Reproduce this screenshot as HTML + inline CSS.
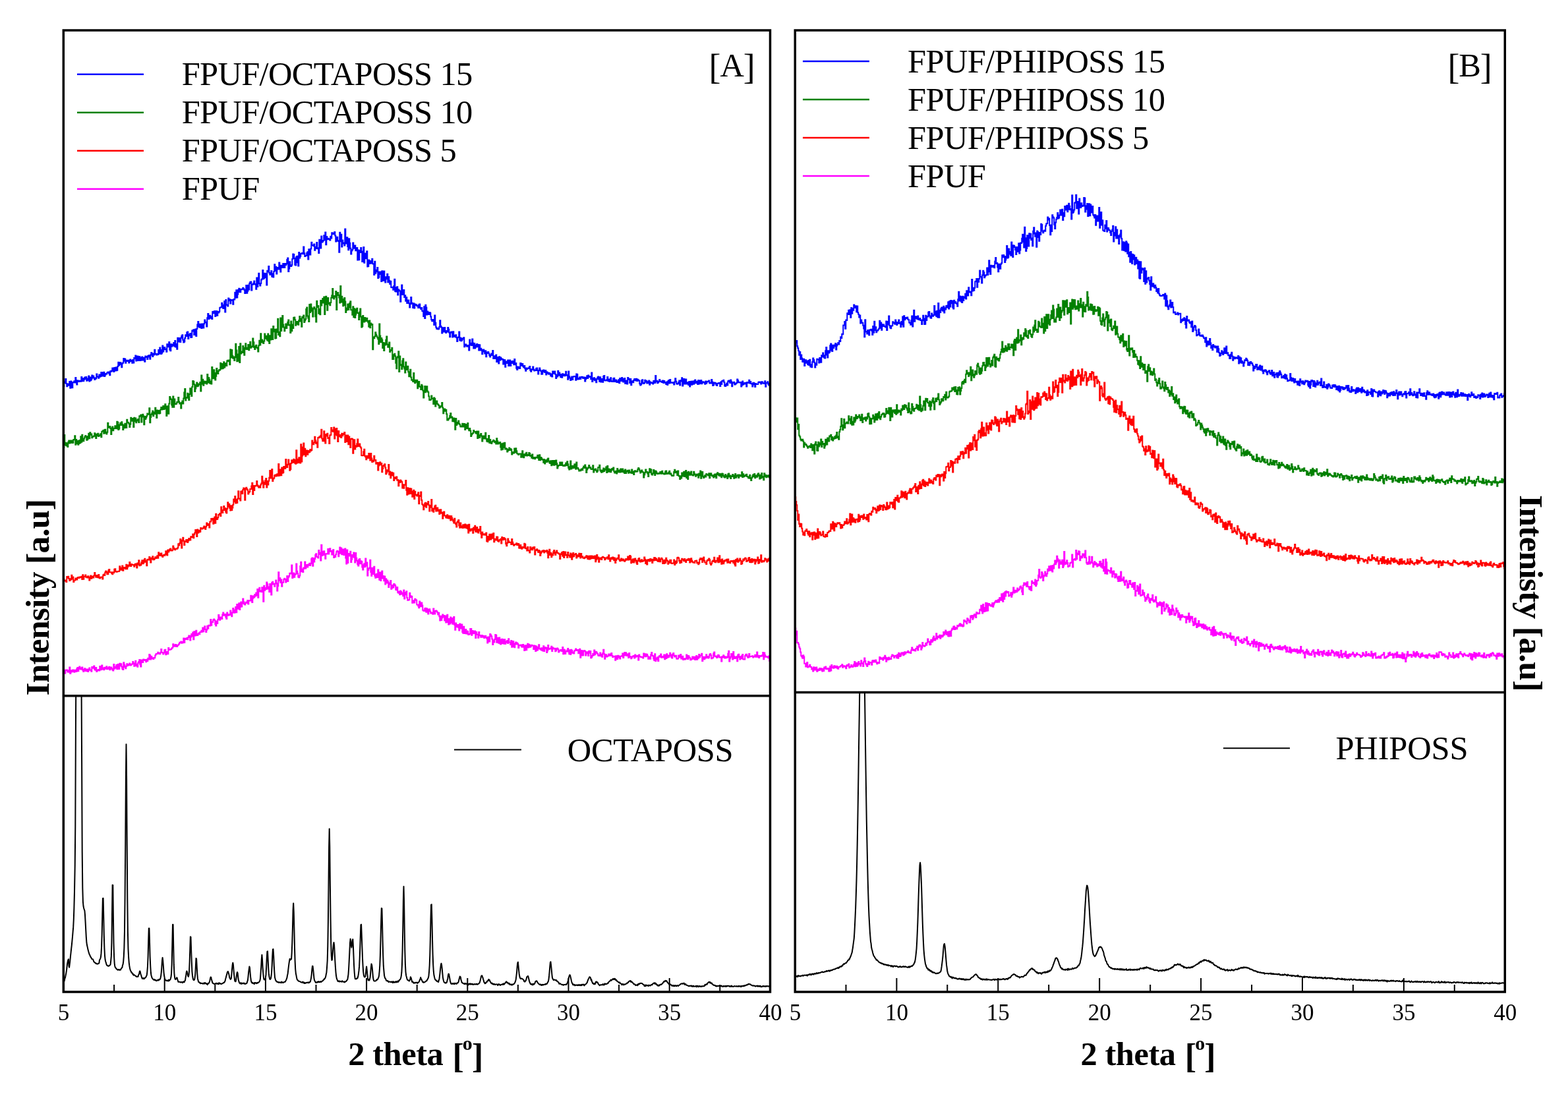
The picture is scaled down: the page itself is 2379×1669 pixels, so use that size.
<!DOCTYPE html>
<html><head><meta charset="utf-8"><title>XRD patterns</title>
<style>html,body{margin:0;padding:0;background:#fff;}svg{display:block;}</style>
</head><body>
<svg width="2379" height="1669" viewBox="0 0 2379 1669">
<rect x="0" y="0" width="2379" height="1669" fill="#fff"/>
<defs>
<clipPath id="ctA"><rect x="96.3" y="46.0" width="1072.2" height="1009.8"/></clipPath>
<clipPath id="cbA"><rect x="96.3" y="1055.8" width="1072.2" height="449.20000000000005"/></clipPath>
<clipPath id="ctB"><rect x="1206.3" y="46.0" width="1077.0000000000002" height="1004.5"/></clipPath>
<clipPath id="cbB"><rect x="1206.3" y="1050.5" width="1077.0000000000002" height="454.5"/></clipPath>
</defs>
<g clip-path="url(#ctA)" fill="none" stroke-width="2.0" stroke-linejoin="miter" stroke-miterlimit="2">
<path stroke="#ff00ff" d="M96.3,1018.1H97.3V1021.8H98.3V1021.4H99.3V1016.5H100.3V1017.1H101.3V1016.4H102.3V1019.4H103.3V1017.6H104.3V1019.8H105.3V1012.5H106.3V1022.0H107.3V1017.3H108.3V1019.5H109.3V1017.1H110.3V1016.4H111.3V1018.7H112.3V1019.7H113.3V1016.8H114.3V1016.8H115.3V1019.1H116.3V1014.7H117.3V1012.9H118.3V1018.2H119.3V1015.1H120.3V1011.6H121.3V1014.6H122.3V1015.5H123.3V1013.4H124.3V1012.5H125.3V1016.7H126.3V1019.1H127.3V1015.8H128.3V1014.3H129.3V1017.4H130.3V1018.3H131.3V1015.4H132.3V1017.7H133.3V1019.0H134.3V1015.4H135.3V1013.6H136.3V1016.8H137.3V1016.5H138.3V1018.8H139.3V1012.0H140.3V1013.7H141.3V1013.1H142.3V1010.5H143.3V1015.7H144.3V1016.7H145.3V1013.1H146.3V1018.9H147.3V1017.3H148.3V1016.6H149.3V1015.9H150.3V1017.4H151.3V1010.9H152.3V1016.3H153.3V1016.1H154.3V1009.4H155.3V1015.2H156.3V1013.5H157.3V1016.3H158.3V1012.7H159.3V1013.8H160.3V1014.7H161.3V1011.2H162.3V1015.2H163.3V1013.2H164.3V1014.7H165.3V1011.8H166.3V1016.2H167.3V1014.7H168.3V1012.4H169.3V1014.5H170.3V1016.2H171.3V1017.5H172.3V1008.0H173.3V1014.7H174.3V1013.4H175.3V1011.7H176.3V1009.1H177.3V1015.3H178.3V1008.1H179.3V1013.1H180.3V1015.0H181.3V1006.7H182.3V1010.2H183.3V1007.2H184.3V1011.4H185.3V1014.8H186.3V1016.1H187.3V1005.3H188.3V1008.5H189.3V1011.9H190.3V1014.2H191.3V1010.8H192.3V1007.3H193.3V1010.1H194.3V1009.0H195.3V1008.3H196.3V1006.6H197.3V1009.6H198.3V1009.2H199.3V1007.9H200.3V1007.3H201.3V1004.1H202.3V1006.2H203.3V1010.7H204.3V1006.5H205.3V1002.7H206.3V1010.2H207.3V1007.7H208.3V1011.8H209.3V1005.8H210.3V1004.0H211.3V1000.9H212.3V1008.3H213.3V1011.5H214.3V1001.6H215.3V1001.7H216.3V1004.9H217.3V1000.5H218.3V1001.7H219.3V1001.0H220.3V1002.1H221.3V1004.3H222.3V1000.8H223.3V1002.9H224.3V998.7H225.3V1000.4H226.3V993.1H227.3V994.5H228.3V1000.4H229.3V996.0H230.3V998.9H231.3V998.3H232.3V1000.0H233.3V998.1H234.3V998.2H235.3V994.6H236.3V992.5H237.3V991.9H238.3V992.1H239.3V989.8H240.3V991.0H241.3V991.8H242.3V992.3H243.3V990.1H244.3V985.1H245.3V989.9H246.3V990.3H247.3V992.4H248.3V990.4H249.3V986.4H250.3V985.7H251.3V993.3H252.3V989.1H253.3V991.8H254.3V992.2H255.3V982.9H256.3V986.0H257.3V985.7H258.3V985.5H259.3V985.0H260.3V983.4H261.3V982.8H262.3V977.2H263.3V980.7H264.3V978.4H265.3V980.5H266.3V978.1H267.3V981.0H268.3V981.0H269.3V978.9H270.3V978.4H271.3V977.1H272.3V974.8H273.3V975.2H274.3V973.5H275.3V975.8H276.3V974.0H277.3V975.3H278.3V968.5H279.3V975.1H280.3V969.2H281.3V968.7H282.3V969.9H283.3V968.1H284.3V970.3H285.3V966.9H286.3V964.6H287.3V964.8H288.3V971.4H289.3V966.6H290.3V961.9H291.3V965.3H292.3V959.4H293.3V970.2H294.3V958.3H295.3V964.6H296.3V964.2H297.3V956.8H298.3V962.2H299.3V964.1H300.3V961.7H301.3V960.4H302.3V962.2H303.3V958.9H304.3V958.9H305.3V956.7H306.3V958.8H307.3V952.6H308.3V958.2H309.3V952.9H310.3V950.2H311.3V954.9H312.3V959.1H313.3V955.8H314.3V949.8H315.3V953.7H316.3V948.8H317.3V949.4H318.3V949.6H319.3V940.0H320.3V948.7H321.3V943.5H322.3V944.0H323.3V940.4H324.3V939.6H325.3V941.0H326.3V947.1H327.3V949.6H328.3V942.4H329.3V946.0H330.3V940.1H331.3V933.0H332.3V940.2H333.3V940.7H334.3V936.5H335.3V938.7H336.3V939.1H337.3V932.6H338.3V929.5H339.3V933.8H340.3V933.1H341.3V931.9H342.3V936.6H343.3V938.9H344.3V929.6H345.3V933.5H346.3V933.8H347.3V932.3H348.3V933.0H349.3V926.5H350.3V930.5H351.3V935.3H352.3V929.6H353.3V923.1H354.3V927.7H355.3V929.8H356.3V925.5H357.3V921.0H358.3V929.3H359.3V916.9H360.3V923.8H361.3V921.0H362.3V915.3H363.3V925.1H364.3V920.7H365.3V913.6H366.3V920.6H367.3V915.5H368.3V908.5H369.3V913.1H370.3V916.6H371.3V917.6H372.3V914.9H373.3V913.6H374.3V914.8H375.3V911.1H376.3V916.6H377.3V911.3H378.3V911.2H379.3V911.6H380.3V903.7H381.3V904.5H382.3V913.9H383.3V907.8H384.3V904.2H385.3V906.4H386.3V901.9H387.3V904.6H388.3V899.6H389.3V903.2H390.3V893.9H391.3V906.8H392.3V897.5H393.3V891.8H394.3V897.6H395.3V896.2H396.3V898.1H397.3V891.3H398.3V898.0H399.3V912.8H400.3V888.7H401.3V895.8H402.3V892.1H403.3V893.9H404.3V883.6H405.3V886.2H406.3V893.4H407.3V890.4H408.3V898.0H409.3V886.0H410.3V889.7H411.3V902.6H412.3V883.9H413.3V882.7H414.3V886.4H415.3V885.8H416.3V889.7H417.3V885.6H418.3V880.6H419.3V884.9H420.3V896.6H421.3V889.2H422.3V868.3H423.3V881.1H424.3V876.9H425.3V883.9H426.3V879.4H427.3V889.7H428.3V884.1H429.3V883.4H430.3V879.3H431.3V877.7H432.3V879.1H433.3V883.6H434.3V879.2H435.3V874.1H436.3V882.0H437.3V875.9H438.3V874.0H439.3V869.8H440.3V870.4H441.3V869.5H442.3V857.6H443.3V877.1H444.3V874.2H445.3V869.5H446.3V875.7H447.3V871.9H448.3V871.1H449.3V855.4H450.3V866.8H451.3V870.3H452.3V875.6H453.3V876.3H454.3V873.5H455.3V859.0H456.3V852.8H457.3V867.2H458.3V863.6H459.3V868.1H460.3V861.5H461.3V862.7H462.3V852.6H463.3V862.6H464.3V857.0H465.3V860.6H466.3V860.4H467.3V856.4H468.3V857.8H469.3V854.8H470.3V858.0H471.3V855.3H472.3V848.1H473.3V846.6H474.3V858.7H475.3V847.1H476.3V852.4H477.3V848.1H478.3V841.8H479.3V840.2H480.3V844.7H481.3V845.0H482.3V846.6H483.3V835.1H484.3V838.6H485.3V841.0H486.3V850.5H487.3V826.8H488.3V842.9H489.3V836.7H490.3V842.0H491.3V836.2H492.3V841.0H493.3V847.8H494.3V840.3H495.3V840.5H496.3V839.9H497.3V833.1H498.3V840.6H499.3V836.0H500.3V832.3H501.3V836.8H502.3V835.7H503.3V841.5H504.3V836.8H505.3V834.0H506.3V845.9H507.3V843.2H508.3V845.1H509.3V841.3H510.3V837.3H511.3V835.7H512.3V836.8H513.3V844.3H514.3V839.7H515.3V830.6H516.3V839.4H517.3V831.6H518.3V841.3H519.3V833.6H520.3V833.6H521.3V842.1H522.3V841.3H523.3V832.4H524.3V846.8H525.3V855.5H526.3V834.6H527.3V854.1H528.3V839.9H529.3V841.4H530.3V843.6H531.3V836.7H532.3V853.0H533.3V848.8H534.3V842.0H535.3V845.2H536.3V838.6H537.3V845.8H538.3V853.6H539.3V839.0H540.3V846.8H541.3V850.7H542.3V856.3H543.3V858.6H544.3V848.9H545.3V847.9H546.3V855.2H547.3V851.2H548.3V852.1H549.3V860.5H550.3V864.5H551.3V857.2H552.3V855.3H553.3V860.3H554.3V847.4H555.3V858.6H556.3V853.6H557.3V873.4H558.3V865.0H559.3V862.6H560.3V861.5H561.3V849.7H562.3V868.0H563.3V873.7H564.3V861.7H565.3V870.1H566.3V871.0H567.3V859.7H568.3V873.7H569.3V876.7H570.3V871.5H571.3V870.7H572.3V876.0H573.3V864.5H574.3V873.9H575.3V879.7H576.3V868.5H577.3V880.9H578.3V874.3H579.3V866.6H580.3V877.5H581.3V873.9H582.3V881.2H583.3V874.4H584.3V886.5H585.3V878.2H586.3V884.5H587.3V880.5H588.3V882.6H589.3V890.9H590.3V886.8H591.3V884.5H592.3V881.0H593.3V893.7H594.3V892.3H595.3V887.9H596.3V891.4H597.3V885.9H598.3V886.7H599.3V888.4H600.3V894.8H601.3V895.2H602.3V890.9H603.3V898.7H604.3V899.7H605.3V897.4H606.3V902.2H607.3V896.6H608.3V898.1H609.3V901.5H610.3V899.8H611.3V904.3H612.3V895.4H613.3V908.5H614.3V898.9H615.3V902.3H616.3V897.3H617.3V907.0H618.3V910.7H619.3V910.4H620.3V909.9H621.3V899.7H622.3V904.0H623.3V906.2H624.3V904.8H625.3V914.8H626.3V911.4H627.3V911.3H628.3V914.4H629.3V908.8H630.3V909.8H631.3V910.7H632.3V917.6H633.3V917.6H634.3V919.4H635.3V922.3H636.3V912.4H637.3V916.5H638.3V920.2H639.3V914.4H640.3V918.5H641.3V925.7H642.3V926.7H643.3V927.1H644.3V923.3H645.3V922.8H646.3V928.8H647.3V923.2H648.3V926.7H649.3V931.4H650.3V924.8H651.3V924.3H652.3V927.4H653.3V930.4H654.3V930.4H655.3V929.6H656.3V931.7H657.3V923.4H658.3V926.9H659.3V931.6H660.3V927.6H661.3V926.4H662.3V927.5H663.3V929.2H664.3V932.6H665.3V929.7H666.3V935.3H667.3V941.6H668.3V934.7H669.3V940.9H670.3V937.5H671.3V932.4H672.3V936.3H673.3V934.0H674.3V941.4H675.3V934.4H676.3V944.6H677.3V942.2H678.3V932.7H679.3V944.1H680.3V947.6H681.3V939.1H682.3V946.5H683.3V936.4H684.3V944.8H685.3V938.0H686.3V946.7H687.3V938.7H688.3V936.1H689.3V948.1H690.3V955.7H691.3V945.5H692.3V951.3H693.3V949.2H694.3V948.1H695.3V952.2H696.3V956.5H697.3V946.4H698.3V953.6H699.3V953.3H700.3V947.4H701.3V959.0H702.3V960.7H703.3V950.7H704.3V960.9H705.3V955.4H706.3V955.1H707.3V961.5H708.3V957.5H709.3V958.3H710.3V963.0H711.3V962.6H712.3V961.7H713.3V954.1H714.3V953.9H715.3V963.8H716.3V957.0H717.3V961.2H718.3V957.4H719.3V960.9H720.3V957.5H721.3V967.9H722.3V959.1H723.3V962.5H724.3V962.7H725.3V967.8H726.3V959.1H727.3V964.2H728.3V963.9H729.3V966.7H730.3V966.8H731.3V964.0H732.3V966.6H733.3V964.9H734.3V968.0H735.3V966.4H736.3V964.8H737.3V967.2H738.3V968.8H739.3V975.4H740.3V966.5H741.3V969.4H742.3V973.5H743.3V962.1H744.3V963.5H745.3V965.6H746.3V969.4H747.3V978.0H748.3V971.5H749.3V974.5H750.3V970.0H751.3V962.9H752.3V963.7H753.3V974.8H754.3V972.3H755.3V967.7H756.3V975.8H757.3V967.4H758.3V976.3H759.3V977.5H760.3V970.6H761.3V969.7H762.3V976.2H763.3V970.2H764.3V976.7H765.3V970.3H766.3V976.9H767.3V974.8H768.3V973.3H769.3V972.1H770.3V975.9H771.3V969.3H772.3V974.6H773.3V974.5H774.3V978.1H775.3V972.1H776.3V981.7H777.3V975.5H778.3V973.1H779.3V981.2H780.3V982.3H781.3V976.6H782.3V974.6H783.3V977.6H784.3V975.5H785.3V976.9H786.3V982.9H787.3V979.4H788.3V978.8H789.3V979.6H790.3V978.5H791.3V981.5H792.3V981.7H793.3V978.0H794.3V979.7H795.3V987.0H796.3V980.9H797.3V979.2H798.3V986.3H799.3V980.1H800.3V976.8H801.3V982.4H802.3V977.7H803.3V979.1H804.3V981.8H805.3V980.5H806.3V978.7H807.3V979.5H808.3V979.5H809.3V985.1H810.3V979.4H811.3V980.0H812.3V988.1H813.3V980.4H814.3V986.7H815.3V986.3H816.3V982.0H817.3V978.3H818.3V984.1H819.3V984.9H820.3V985.9H821.3V983.3H822.3V986.9H823.3V987.6H824.3V980.3H825.3V988.0H826.3V984.3H827.3V982.2H828.3V983.1H829.3V989.9H830.3V987.3H831.3V979.1H832.3V984.9H833.3V984.3H834.3V984.4H835.3V983.5H836.3V980.8H837.3V987.9H838.3V982.6H839.3V984.5H840.3V983.9H841.3V983.7H842.3V988.2H843.3V987.3H844.3V984.3H845.3V983.6H846.3V985.1H847.3V989.5H848.3V987.2H849.3V987.6H850.3V986.1H851.3V986.4H852.3V988.0H853.3V982.0H854.3V992.3H855.3V985.4H856.3V986.2H857.3V991.9H858.3V988.8H859.3V988.3H860.3V986.6H861.3V983.9H862.3V989.1H863.3V992.2H864.3V986.2H865.3V992.9H866.3V985.8H867.3V987.1H868.3V990.8H869.3V989.4H870.3V991.5H871.3V987.5H872.3V986.8H873.3V984.5H874.3V986.5H875.3V987.0H876.3V986.1H877.3V991.2H878.3V988.5H879.3V984.7H880.3V997.7H881.3V988.3H882.3V987.1H883.3V994.4H884.3V994.3H885.3V987.7H886.3V986.9H887.3V988.3H888.3V994.5H889.3V990.5H890.3V989.2H891.3V991.5H892.3V995.1H893.3V987.8H894.3V990.8H895.3V988.0H896.3V998.2H897.3V997.3H898.3V994.9H899.3V991.9H900.3V994.3H901.3V986.5H902.3V993.3H903.3V988.8H904.3V989.0H905.3V990.8H906.3V991.9H907.3V994.6H908.3V995.0H909.3V993.9H910.3V990.5H911.3V995.2H912.3V993.0H913.3V996.7H914.3V990.9H915.3V985.8H916.3V992.3H917.3V999.7H918.3V995.1H919.3V993.3H920.3V996.4H921.3V995.4H922.3V995.3H923.3V992.6H924.3V994.3H925.3V994.7H926.3V992.4H927.3V991.1H928.3V994.7H929.3V997.1H930.3V996.2H931.3V995.8H932.3V995.9H933.3V1001.8H934.3V995.3H935.3V997.5H936.3V1000.1H937.3V994.8H938.3V995.4H939.3V997.6H940.3V999.5H941.3V995.7H942.3V995.8H943.3V995.1H944.3V991.5H945.3V998.0H946.3V994.2H947.3V990.1H948.3V994.6H949.3V990.2H950.3V992.2H951.3V995.1H952.3V992.5H953.3V998.1H954.3V991.0H955.3V995.9H956.3V996.8H957.3V999.3H958.3V997.8H959.3V995.9H960.3V995.5H961.3V995.1H962.3V998.5H963.3V993.5H964.3V996.8H965.3V995.1H966.3V996.1H967.3V994.7H968.3V1001.4H969.3V993.6H970.3V996.2H971.3V996.3H972.3V997.2H973.3V996.8H974.3V996.8H975.3V998.4H976.3V991.4H977.3V995.7H978.3V992.2H979.3V996.3H980.3V992.4H981.3V993.1H982.3V995.6H983.3V999.7H984.3V997.4H985.3V996.7H986.3V999.8H987.3V993.2H988.3V990.1H989.3V994.8H990.3V995.2H991.3V999.5H992.3V1002.0H993.3V992.3H994.3V1003.0H995.3V1000.5H996.3V998.5H997.3V997.2H998.3V1003.0H999.3V996.5H1000.3V995.0H1001.3V996.7H1002.3V992.5H1003.3V997.7H1004.3V996.1H1005.3V997.4H1006.3V997.5H1007.3V993.6H1008.3V1000.3H1009.3V993.8H1010.3V999.1H1011.3V992.2H1012.3V997.7H1013.3V994.4H1014.3V996.9H1015.3V995.0H1016.3V990.7H1017.3V993.7H1018.3V997.1H1019.3V998.6H1020.3V992.8H1021.3V991.0H1022.3V994.5H1023.3V996.4H1024.3V995.2H1025.3V994.8H1026.3V999.4H1027.3V999.8H1028.3V999.2H1029.3V994.5H1030.3V997.3H1031.3V996.6H1032.3V993.1H1033.3V999.6H1034.3V997.4H1035.3V995.8H1036.3V1001.1H1037.3V999.3H1038.3V999.5H1039.3V1000.5H1040.3V999.2H1041.3V993.6H1042.3V996.1H1043.3V1000.0H1044.3V995.0H1045.3V997.2H1046.3V998.3H1047.3V1001.2H1048.3V1000.8H1049.3V999.7H1050.3V996.6H1051.3V999.7H1052.3V998.6H1053.3V996.7H1054.3V1000.9H1055.3V998.5H1056.3V995.0H1057.3V1000.7H1058.3V996.4H1059.3V998.8H1060.3V992.9H1061.3V997.1H1062.3V994.5H1063.3V994.4H1064.3V991.8H1065.3V1003.1H1066.3V996.7H1067.3V997.8H1068.3V1000.2H1069.3V996.8H1070.3V998.6H1071.3V993.3H1072.3V997.7H1073.3V996.0H1074.3V998.5H1075.3V997.6H1076.3V993.2H1077.3V991.9H1078.3V994.3H1079.3V999.2H1080.3V998.3H1081.3V998.3H1082.3V991.5H1083.3V989.6H1084.3V995.4H1085.3V996.2H1086.3V995.4H1087.3V998.1H1088.3V996.6H1089.3V993.8H1090.3V994.6H1091.3V997.5H1092.3V997.3H1093.3V996.9H1094.3V1003.4H1095.3V996.3H1096.3V997.4H1097.3V994.3H1098.3V996.0H1099.3V998.5H1100.3V998.6H1101.3V996.6H1102.3V998.1H1103.3V997.1H1104.3V991.7H1105.3V987.8H1106.3V1003.4H1107.3V999.2H1108.3V996.7H1109.3V992.0H1110.3V993.2H1111.3V1000.6H1112.3V988.9H1113.3V995.8H1114.3V999.1H1115.3V997.1H1116.3V998.8H1117.3V996.2H1118.3V1003.3H1119.3V993.7H1120.3V992.7H1121.3V997.3H1122.3V1000.5H1123.3V996.3H1124.3V999.3H1125.3V994.9H1126.3V993.0H1127.3V1000.2H1128.3V1000.6H1129.3V1000.5H1130.3V995.0H1131.3V992.9H1132.3V992.8H1133.3V995.5H1134.3V997.7H1135.3V997.4H1136.3V992.0H1137.3V996.5H1138.3V996.0H1139.3V996.1H1140.3V995.8H1141.3V995.2H1142.3V997.4H1143.3V996.1H1144.3V996.3H1145.3V993.7H1146.3V996.7H1147.3V995.2H1148.3V989.6H1149.3V996.8H1150.3V994.7H1151.3V998.0H1152.3V994.9H1153.3V995.0H1154.3V995.8H1155.3V995.2H1156.3V993.9H1157.3V990.1H1158.3V1000.2H1159.3V990.6H1160.3V994.0H1161.3V996.7H1162.3V995.9H1163.3V996.4H1164.3V996.9H1165.3V998.2H1166.3V995.5H1167.3V1002.7H1168.3V991.7"/>
<path stroke="#ff0000" d="M96.3,878.5H97.3V881.4H98.3V880.6H99.3V880.5H100.3V883.0H101.3V875.1H102.3V876.7H103.3V874.7H104.3V878.0H105.3V881.1H106.3V878.2H107.3V879.6H108.3V872.8H109.3V878.5H110.3V875.5H111.3V882.9H112.3V880.4H113.3V880.5H114.3V877.6H115.3V879.4H116.3V879.4H117.3V876.5H118.3V876.0H119.3V877.0H120.3V875.5H121.3V875.4H122.3V876.2H123.3V874.8H124.3V878.9H125.3V872.2H126.3V878.8H127.3V874.7H128.3V874.8H129.3V872.4H130.3V875.7H131.3V875.3H132.3V876.4H133.3V874.2H134.3V875.8H135.3V880.6H136.3V876.5H137.3V873.6H138.3V877.7H139.3V874.6H140.3V876.5H141.3V876.4H142.3V873.5H143.3V869.0H144.3V873.3H145.3V875.7H146.3V872.9H147.3V875.0H148.3V876.3H149.3V871.9H150.3V876.7H151.3V877.5H152.3V875.8H153.3V875.8H154.3V875.4H155.3V878.4H156.3V872.4H157.3V871.6H158.3V873.0H159.3V868.5H160.3V866.5H161.3V868.1H162.3V871.3H163.3V871.3H164.3V865.4H165.3V864.1H166.3V868.2H167.3V868.2H168.3V868.3H169.3V870.0H170.3V871.3H171.3V868.2H172.3V868.9H173.3V863.8H174.3V863.2H175.3V866.9H176.3V867.7H177.3V867.6H178.3V866.9H179.3V867.1H180.3V866.8H181.3V859.3H182.3V861.8H183.3V864.8H184.3V864.8H185.3V858.6H186.3V865.7H187.3V860.9H188.3V861.1H189.3V862.2H190.3V863.2H191.3V856.7H192.3V863.2H193.3V860.3H194.3V857.6H195.3V858.7H196.3V853.0H197.3V857.0H198.3V859.0H199.3V856.1H200.3V856.9H201.3V857.1H202.3V857.3H203.3V859.7H204.3V856.5H205.3V855.5H206.3V857.4H207.3V861.4H208.3V854.4H209.3V856.4H210.3V850.3H211.3V858.2H212.3V855.9H213.3V857.5H214.3V853.3H215.3V850.2H216.3V855.3H217.3V854.6H218.3V849.8H219.3V847.8H220.3V852.8H221.3V850.8H222.3V858.2H223.3V848.9H224.3V848.8H225.3V849.6H226.3V844.9H227.3V846.8H228.3V853.5H229.3V848.2H230.3V846.5H231.3V844.2H232.3V849.2H233.3V849.0H234.3V847.5H235.3V845.3H236.3V846.9H237.3V846.7H238.3V843.3H239.3V846.7H240.3V838.3H241.3V840.3H242.3V842.8H243.3V842.9H244.3V839.4H245.3V843.3H246.3V845.1H247.3V842.8H248.3V841.7H249.3V843.1H250.3V841.3H251.3V836.2H252.3V838.5H253.3V842.4H254.3V834.5H255.3V837.6H256.3V835.6H257.3V833.5H258.3V832.5H259.3V835.3H260.3V835.4H261.3V834.7H262.3V828.6H263.3V831.6H264.3V832.9H265.3V834.2H266.3V832.7H267.3V832.5H268.3V832.7H269.3V831.2H270.3V825.3H271.3V827.4H272.3V824.3H273.3V818.1H274.3V819.8H275.3V831.5H276.3V820.3H277.3V815.8H278.3V820.7H279.3V827.1H280.3V821.2H281.3V822.0H282.3V819.0H283.3V819.0H284.3V822.9H285.3V820.6H286.3V816.9H287.3V819.6H288.3V819.5H289.3V814.3H290.3V815.3H291.3V814.5H292.3V810.5H293.3V816.3H294.3V810.8H295.3V808.5H296.3V803.9H297.3V804.6H298.3V814.0H299.3V803.5H300.3V808.5H301.3V804.8H302.3V807.2H303.3V806.8H304.3V800.9H305.3V801.8H306.3V802.5H307.3V801.7H308.3V800.4H309.3V798.5H310.3V801.3H311.3V803.1H312.3V799.3H313.3V793.5H314.3V797.1H315.3V795.0H316.3V795.7H317.3V800.4H318.3V791.4H319.3V791.4H320.3V787.1H321.3V788.7H322.3V786.8H323.3V794.7H324.3V788.7H325.3V784.4H326.3V793.8H327.3V779.7H328.3V787.9H329.3V787.8H330.3V785.2H331.3V781.0H332.3V780.8H333.3V779.1H334.3V783.1H335.3V769.2H336.3V776.0H337.3V778.0H338.3V774.1H339.3V768.0H340.3V773.9H341.3V770.9H342.3V776.8H343.3V778.5H344.3V771.9H345.3V762.2H346.3V768.9H347.3V764.8H348.3V770.9H349.3V774.4H350.3V767.2H351.3V773.9H352.3V770.5H353.3V765.7H354.3V757.5H355.3V761.2H356.3V753.0H357.3V763.4H358.3V758.0H359.3V762.9H360.3V756.7H361.3V745.2H362.3V756.4H363.3V756.8H364.3V759.4H365.3V745.8H366.3V745.2H367.3V749.1H368.3V742.9H369.3V740.6H370.3V741.3H371.3V758.7H372.3V742.3H373.3V739.8H374.3V742.0H375.3V743.6H376.3V749.5H377.3V747.3H378.3V746.0H379.3V741.9H380.3V742.0H381.3V737.5H382.3V732.7H383.3V750.0H384.3V737.1H385.3V744.0H386.3V736.9H387.3V737.6H388.3V736.8H389.3V730.1H390.3V736.2H391.3V738.1H392.3V739.8H393.3V737.6H394.3V739.8H395.3V735.5H396.3V733.4H397.3V722.7H398.3V729.5H399.3V739.8H400.3V731.8H401.3V734.7H402.3V728.9H403.3V725.9H404.3V739.5H405.3V730.1H406.3V735.4H407.3V729.8H408.3V724.8H409.3V713.9H410.3V725.6H411.3V716.2H412.3V712.1H413.3V729.9H414.3V726.5H415.3V725.5H416.3V721.6H417.3V720.5H418.3V722.4H419.3V720.3H420.3V719.2H421.3V722.1H422.3V704.0H423.3V721.7H424.3V712.6H425.3V720.1H426.3V721.2H427.3V709.4H428.3V717.7H429.3V716.9H430.3V707.9H431.3V708.1H432.3V711.0H433.3V697.1H434.3V706.3H435.3V709.1H436.3V704.8H437.3V697.5H438.3V703.7H439.3V713.8H440.3V712.0H441.3V703.0H442.3V698.3H443.3V702.1H444.3V701.5H445.3V696.7H446.3V697.9H447.3V702.7H448.3V703.8H449.3V683.2H450.3V702.5H451.3V696.7H452.3V701.9H453.3V694.2H454.3V696.2H455.3V702.5H456.3V674.2H457.3V700.6H458.3V691.4H459.3V678.5H460.3V672.6H461.3V689.7H462.3V680.7H463.3V692.2H464.3V686.6H465.3V683.6H466.3V689.7H467.3V683.9H468.3V686.4H469.3V686.1H470.3V682.0H471.3V683.9H472.3V682.9H473.3V668.4H474.3V674.2H475.3V674.2H476.3V671.5H477.3V662.8H478.3V668.3H479.3V673.1H480.3V671.1H481.3V678.7H482.3V664.1H483.3V664.3H484.3V662.5H485.3V663.4H486.3V660.7H487.3V651.7H488.3V665.4H489.3V669.0H490.3V669.3H491.3V654.3H492.3V659.6H493.3V672.5H494.3V659.1H495.3V661.6H496.3V657.8H497.3V665.0H498.3V664.3H499.3V673.0H500.3V660.6H501.3V660.1H502.3V648.9H503.3V654.3H504.3V652.4H505.3V655.0H506.3V648.6H507.3V665.6H508.3V650.8H509.3V659.8H510.3V650.0H511.3V661.0H512.3V670.0H513.3V654.1H514.3V662.3H515.3V659.9H516.3V662.7H517.3V664.1H518.3V657.7H519.3V661.2H520.3V659.1H521.3V658.1H522.3V656.0H523.3V670.9H524.3V660.4H525.3V670.0H526.3V669.9H527.3V660.4H528.3V674.2H529.3V662.6H530.3V672.9H531.3V679.0H532.3V665.9H533.3V665.5H534.3V666.3H535.3V687.8H536.3V671.9H537.3V667.3H538.3V681.4H539.3V676.2H540.3V678.1H541.3V673.2H542.3V666.6H543.3V676.9H544.3V676.0H545.3V673.5H546.3V677.7H547.3V679.5H548.3V691.1H549.3V691.3H550.3V690.9H551.3V685.3H552.3V681.7H553.3V691.7H554.3V693.3H555.3V697.2H556.3V691.7H557.3V691.7H558.3V694.9H559.3V688.1H560.3V689.4H561.3V698.5H562.3V687.9H563.3V695.4H564.3V701.1H565.3V698.5H566.3V700.2H567.3V691.8H568.3V698.2H569.3V698.1H570.3V703.8H571.3V703.5H572.3V701.9H573.3V713.4H574.3V706.4H575.3V702.3H576.3V701.2H577.3V705.3H578.3V703.0H579.3V716.3H580.3V711.1H581.3V706.9H582.3V705.8H583.3V704.2H584.3V709.5H585.3V719.2H586.3V717.3H587.3V713.2H588.3V715.1H589.3V704.9H590.3V720.2H591.3V715.6H592.3V725.2H593.3V717.6H594.3V716.8H595.3V721.4H596.3V717.7H597.3V729.1H598.3V724.3H599.3V725.6H600.3V726.3H601.3V723.5H602.3V728.8H603.3V728.1H604.3V737.3H605.3V729.3H606.3V731.9H607.3V728.5H608.3V729.9H609.3V731.2H610.3V740.4H611.3V735.2H612.3V740.7H613.3V735.4H614.3V735.8H615.3V728.9H616.3V743.7H617.3V750.8H618.3V740.3H619.3V749.5H620.3V747.5H621.3V740.9H622.3V748.9H623.3V741.6H624.3V745.5H625.3V753.7H626.3V749.4H627.3V743.8H628.3V757.1H629.3V745.8H630.3V751.1H631.3V751.0H632.3V752.6H633.3V750.1H634.3V747.2H635.3V764.3H636.3V751.9H637.3V752.9H638.3V746.4H639.3V758.8H640.3V765.1H641.3V766.3H642.3V773.2H643.3V768.1H644.3V763.7H645.3V762.7H646.3V769.7H647.3V763.7H648.3V765.5H649.3V760.9H650.3V766.3H651.3V775.4H652.3V766.9H653.3V769.7H654.3V757.9H655.3V775.2H656.3V771.6H657.3V776.8H658.3V772.3H659.3V768.2H660.3V766.7H661.3V775.5H662.3V773.9H663.3V770.6H664.3V775.2H665.3V773.5H666.3V780.0H667.3V775.9H668.3V773.2H669.3V778.7H670.3V777.5H671.3V786.7H672.3V779.4H673.3V776.5H674.3V782.5H675.3V782.4H676.3V785.3H677.3V785.7H678.3V781.3H679.3V786.0H680.3V786.5H681.3V782.7H682.3V785.9H683.3V789.6H684.3V783.0H685.3V785.7H686.3V788.7H687.3V790.7H688.3V793.6H689.3V786.8H690.3V793.8H691.3V795.5H692.3V799.6H693.3V792.4H694.3V790.9H695.3V788.9H696.3V797.4H697.3V800.7H698.3V793.5H699.3V798.3H700.3V800.3H701.3V801.1H702.3V796.3H703.3V800.7H704.3V798.5H705.3V795.5H706.3V800.5H707.3V801.2H708.3V796.6H709.3V802.3H710.3V808.6H711.3V795.8H712.3V804.4H713.3V805.6H714.3V802.8H715.3V804.2H716.3V802.3H717.3V808.7H718.3V800.6H719.3V804.0H720.3V797.7H721.3V806.4H722.3V807.0H723.3V799.9H724.3V803.2H725.3V808.6H726.3V805.4H727.3V803.2H728.3V799.0H729.3V809.7H730.3V815.8H731.3V807.6H732.3V811.2H733.3V811.6H734.3V810.2H735.3V811.2H736.3V811.7H737.3V808.6H738.3V821.0H739.3V822.1H740.3V814.0H741.3V819.6H742.3V810.8H743.3V813.2H744.3V818.4H745.3V810.8H746.3V810.6H747.3V816.7H748.3V809.0H749.3V822.2H750.3V819.2H751.3V817.8H752.3V819.6H753.3V814.5H754.3V814.7H755.3V821.1H756.3V821.8H757.3V819.4H758.3V819.1H759.3V817.7H760.3V824.6H761.3V815.1H762.3V817.5H763.3V818.9H764.3V815.9H765.3V816.9H766.3V818.2H767.3V825.3H768.3V828.3H769.3V823.7H770.3V817.4H771.3V821.0H772.3V822.9H773.3V822.7H774.3V822.7H775.3V825.9H776.3V818.0H777.3V822.8H778.3V825.7H779.3V827.7H780.3V826.5H781.3V826.0H782.3V825.7H783.3V824.3H784.3V827.1H785.3V826.4H786.3V825.1H787.3V831.6H788.3V831.8H789.3V827.1H790.3V830.6H791.3V832.7H792.3V830.0H793.3V829.9H794.3V831.3H795.3V824.8H796.3V825.8H797.3V832.3H798.3V831.8H799.3V835.5H800.3V829.9H801.3V835.2H802.3V835.4H803.3V838.5H804.3V830.1H805.3V831.8H806.3V834.0H807.3V834.2H808.3V830.6H809.3V832.2H810.3V830.1H811.3V841.6H812.3V834.5H813.3V834.9H814.3V833.3H815.3V835.5H816.3V838.1H817.3V834.9H818.3V836.0H819.3V843.0H820.3V839.4H821.3V837.5H822.3V835.7H823.3V837.1H824.3V835.1H825.3V838.4H826.3V835.7H827.3V835.7H828.3V836.9H829.3V835.0H830.3V839.0H831.3V846.2H832.3V836.8H833.3V833.8H834.3V841.9H835.3V838.8H836.3V845.2H837.3V840.6H838.3V842.4H839.3V837.4H840.3V835.1H841.3V839.4H842.3V842.1H843.3V837.7H844.3V835.6H845.3V838.7H846.3V839.3H847.3V839.8H848.3V840.8H849.3V848.1H850.3V841.2H851.3V839.8H852.3V838.1H853.3V843.8H854.3V836.9H855.3V846.0H856.3V841.8H857.3V837.5H858.3V842.6H859.3V841.8H860.3V845.9H861.3V838.0H862.3V843.1H863.3V842.6H864.3V845.4H865.3V839.5H866.3V840.7H867.3V848.8H868.3V844.8H869.3V838.9H870.3V844.3H871.3V841.2H872.3V841.6H873.3V840.1H874.3V846.6H875.3V842.3H876.3V844.5H877.3V844.3H878.3V839.7H879.3V842.1H880.3V846.6H881.3V839.9H882.3V845.2H883.3V844.3H884.3V846.6H885.3V846.8H886.3V847.3H887.3V845.2H888.3V845.8H889.3V843.2H890.3V843.7H891.3V848.0H892.3V843.8H893.3V848.5H894.3V848.5H895.3V843.5H896.3V847.4H897.3V843.6H898.3V847.0H899.3V843.9H900.3V847.2H901.3V846.8H902.3V843.4H903.3V852.3H904.3V849.3H905.3V842.1H906.3V847.7H907.3V845.6H908.3V852.7H909.3V846.8H910.3V848.2H911.3V846.6H912.3V849.0H913.3V845.7H914.3V844.8H915.3V846.0H916.3V846.3H917.3V849.3H918.3V847.9H919.3V846.4H920.3V846.6H921.3V845.2H922.3V848.2H923.3V842.2H924.3V847.4H925.3V851.4H926.3V847.1H927.3V846.3H928.3V848.3H929.3V845.6H930.3V846.2H931.3V850.3H932.3V846.6H933.3V853.9H934.3V850.0H935.3V848.2H936.3V846.8H937.3V847.8H938.3V842.2H939.3V849.3H940.3V851.2H941.3V850.3H942.3V847.5H943.3V850.5H944.3V850.6H945.3V848.5H946.3V849.9H947.3V851.8H948.3V850.2H949.3V847.9H950.3V849.0H951.3V849.4H952.3V844.5H953.3V849.4H954.3V848.7H955.3V843.0H956.3V844.3H957.3V854.2H958.3V849.5H959.3V853.0H960.3V848.2H961.3V853.6H962.3V850.9H963.3V847.4H964.3V850.1H965.3V853.8H966.3V856.1H967.3V850.9H968.3V848.2H969.3V847.1H970.3V851.4H971.3V852.6H972.3V850.0H973.3V849.3H974.3V851.9H975.3V851.0H976.3V850.8H977.3V845.4H978.3V848.8H979.3V855.0H980.3V849.7H981.3V856.6H982.3V850.9H983.3V849.1H984.3V850.7H985.3V851.6H986.3V847.9H987.3V850.7H988.3V848.8H989.3V854.1H990.3V848.8H991.3V850.4H992.3V845.9H993.3V846.3H994.3V849.9H995.3V847.6H996.3V849.4H997.3V850.9H998.3V851.9H999.3V846.4H1000.3V849.8H1001.3V852.3H1002.3V848.5H1003.3V846.8H1004.3V848.6H1005.3V855.1H1006.3V850.6H1007.3V855.0H1008.3V849.8H1009.3V854.0H1010.3V846.7H1011.3V850.0H1012.3V851.0H1013.3V855.7H1014.3V852.1H1015.3V854.0H1016.3V849.7H1017.3V849.7H1018.3V854.5H1019.3V855.0H1020.3V854.4H1021.3V854.4H1022.3V849.6H1023.3V857.1H1024.3V851.6H1025.3V854.7H1026.3V853.2H1027.3V846.2H1028.3V845.7H1029.3V846.7H1030.3V851.0H1031.3V854.3H1032.3V850.5H1033.3V853.6H1034.3V847.8H1035.3V849.5H1036.3V848.7H1037.3V851.3H1038.3V848.0H1039.3V850.9H1040.3V852.9H1041.3V849.9H1042.3V848.7H1043.3V849.9H1044.3V847.8H1045.3V848.3H1046.3V853.5H1047.3V852.2H1048.3V847.2H1049.3V850.4H1050.3V852.5H1051.3V853.5H1052.3V853.0H1053.3V854.0H1054.3V851.1H1055.3V851.2H1056.3V850.5H1057.3V854.3H1058.3V853.6H1059.3V856.2H1060.3V854.4H1061.3V848.9H1062.3V847.1H1063.3V847.3H1064.3V848.7H1065.3V852.9H1066.3V847.3H1067.3V845.5H1068.3V850.7H1069.3V853.5H1070.3V853.4H1071.3V855.9H1072.3V851.1H1073.3V849.6H1074.3V850.3H1075.3V847.4H1076.3V849.3H1077.3V854.8H1078.3V857.0H1079.3V854.7H1080.3V852.0H1081.3V850.5H1082.3V851.8H1083.3V845.8H1084.3V852.8H1085.3V853.3H1086.3V850.8H1087.3V851.2H1088.3V846.4H1089.3V853.3H1090.3V853.3H1091.3V843.3H1092.3V849.5H1093.3V852.1H1094.3V855.8H1095.3V848.6H1096.3V850.9H1097.3V855.2H1098.3V852.3H1099.3V850.4H1100.3V849.7H1101.3V851.0H1102.3V848.7H1103.3V853.7H1104.3V848.4H1105.3V852.4H1106.3V853.5H1107.3V854.2H1108.3V851.2H1109.3V850.9H1110.3V851.8H1111.3V851.1H1112.3V853.9H1113.3V850.5H1114.3V856.2H1115.3V858.6H1116.3V848.9H1117.3V851.8H1118.3V847.4H1119.3V852.7H1120.3V851.7H1121.3V849.9H1122.3V847.5H1123.3V850.5H1124.3V856.1H1125.3V854.9H1126.3V851.4H1127.3V848.6H1128.3V850.2H1129.3V848.0H1130.3V846.4H1131.3V847.5H1132.3V851.9H1133.3V851.0H1134.3V850.6H1135.3V847.0H1136.3V846.1H1137.3V852.9H1138.3V849.0H1139.3V853.3H1140.3V847.9H1141.3V852.7H1142.3V850.7H1143.3V848.8H1144.3V848.8H1145.3V855.4H1146.3V852.6H1147.3V849.3H1148.3V850.5H1149.3V845.6H1150.3V854.8H1151.3V853.9H1152.3V848.9H1153.3V851.3H1154.3V842.2H1155.3V852.7H1156.3V851.3H1157.3V850.7H1158.3V852.3H1159.3V850.8H1160.3V847.2H1161.3V848.0H1162.3V849.4H1163.3V852.5H1164.3V850.0H1165.3V848.0H1166.3V850.9H1167.3V846.4H1168.3V855.8"/>
<path stroke="#008000" d="M96.3,679.0H97.3V660.1H98.3V675.3H99.3V671.7H100.3V676.3H101.3V672.6H102.3V677.9H103.3V670.8H104.3V668.5H105.3V672.5H106.3V671.7H107.3V668.4H108.3V668.6H109.3V672.1H110.3V671.8H111.3V667.0H112.3V667.2H113.3V661.3H114.3V674.7H115.3V667.0H116.3V672.9H117.3V669.0H118.3V674.8H119.3V672.9H120.3V667.9H121.3V672.2H122.3V662.3H123.3V670.8H124.3V659.7H125.3V666.6H126.3V669.2H127.3V665.6H128.3V663.0H129.3V661.0H130.3V662.5H131.3V667.8H132.3V666.9H133.3V662.0H134.3V657.7H135.3V665.2H136.3V656.3H137.3V659.7H138.3V658.6H139.3V664.3H140.3V661.9H141.3V662.5H142.3V661.4H143.3V657.2H144.3V661.8H145.3V665.0H146.3V658.8H147.3V661.2H148.3V657.7H149.3V662.1H150.3V660.3H151.3V660.8H152.3V658.3H153.3V663.3H154.3V654.7H155.3V654.4H156.3V653.0H157.3V657.7H158.3V652.2H159.3V651.8H160.3V657.1H161.3V658.6H162.3V655.8H163.3V641.8H164.3V648.7H165.3V647.8H166.3V646.9H167.3V649.9H168.3V659.0H169.3V649.6H170.3V647.4H171.3V653.2H172.3V650.2H173.3V650.0H174.3V646.2H175.3V648.8H176.3V650.3H177.3V639.8H178.3V640.8H179.3V652.0H180.3V650.6H181.3V644.4H182.3V641.8H183.3V645.1H184.3V640.3H185.3V643.7H186.3V652.0H187.3V645.0H188.3V649.2H189.3V642.7H190.3V645.0H191.3V649.1H192.3V636.7H193.3V640.7H194.3V641.2H195.3V642.8H196.3V648.1H197.3V643.8H198.3V633.7H199.3V638.8H200.3V635.6H201.3V635.1H202.3V648.0H203.3V633.7H204.3V639.2H205.3V634.5H206.3V641.3H207.3V638.6H208.3V637.2H209.3V635.9H210.3V641.1H211.3V631.2H212.3V631.8H213.3V629.6H214.3V640.5H215.3V632.6H216.3V628.8H217.3V631.3H218.3V644.3H219.3V631.9H220.3V636.0H221.3V633.8H222.3V631.2H223.3V627.6H224.3V628.8H225.3V628.3H226.3V619.2H227.3V641.3H228.3V633.0H229.3V628.8H230.3V626.8H231.3V623.6H232.3V631.3H233.3V625.5H234.3V628.1H235.3V618.8H236.3V626.7H237.3V633.9H238.3V622.4H239.3V627.2H240.3V623.0H241.3V627.6H242.3V626.9H243.3V621.5H244.3V618.0H245.3V621.6H246.3V619.9H247.3V616.1H248.3V620.9H249.3V620.2H250.3V613.3H251.3V616.6H252.3V631.1H253.3V620.2H254.3V616.2H255.3V627.7H256.3V612.6H257.3V602.1H258.3V604.5H259.3V606.1H260.3V614.6H261.3V617.8H262.3V601.6H263.3V617.7H264.3V605.5H265.3V612.6H266.3V613.2H267.3V612.5H268.3V609.9H269.3V610.2H270.3V602.9H271.3V609.5H272.3V612.4H273.3V611.5H274.3V619.5H275.3V610.9H276.3V608.4H277.3V612.5H278.3V604.4H279.3V595.6H280.3V589.9H281.3V607.6H282.3V603.1H283.3V603.8H284.3V596.8H285.3V599.6H286.3V607.0H287.3V597.9H288.3V589.3H289.3V592.2H290.3V601.1H291.3V587.0H292.3V578.0H293.3V578.8H294.3V583.2H295.3V594.1H296.3V589.5H297.3V584.2H298.3V580.5H299.3V586.3H300.3V585.4H301.3V582.5H302.3V583.5H303.3V580.0H304.3V593.6H305.3V569.6H306.3V582.8H307.3V575.7H308.3V584.7H309.3V578.6H310.3V581.2H311.3V581.4H312.3V578.7H313.3V582.4H314.3V567.9H315.3V580.6H316.3V573.0H317.3V575.7H318.3V581.7H319.3V578.4H320.3V582.6H321.3V557.0H322.3V563.8H323.3V574.3H324.3V561.2H325.3V566.0H326.3V576.5H327.3V570.7H328.3V559.0H329.3V566.7H330.3V567.0H331.3V562.7H332.3V560.9H333.3V561.5H334.3V550.7H335.3V559.6H336.3V552.0H337.3V559.3H338.3V558.5H339.3V549.3H340.3V557.5H341.3V554.9H342.3V551.3H343.3V555.1H344.3V547.6H345.3V546.8H346.3V548.2H347.3V546.4H348.3V553.3H349.3V530.2H350.3V542.5H351.3V530.9H352.3V539.7H353.3V543.8H354.3V541.5H355.3V547.0H356.3V542.2H357.3V521.7H358.3V531.5H359.3V548.2H360.3V547.7H361.3V537.5H362.3V526.1H363.3V549.9H364.3V521.3H365.3V536.5H366.3V533.5H367.3V534.9H368.3V524.9H369.3V529.4H370.3V538.7H371.3V527.7H372.3V521.2H373.3V529.7H374.3V529.9H375.3V527.8H376.3V522.9H377.3V531.3H378.3V526.4H379.3V518.8H380.3V527.7H381.3V525.6H382.3V526.3H383.3V513.4H384.3V519.2H385.3V527.1H386.3V529.9H387.3V525.5H388.3V523.8H389.3V527.3H390.3V528.6H391.3V533.6H392.3V524.3H393.3V516.7H394.3V523.4H395.3V506.3H396.3V519.6H397.3V515.6H398.3V518.0H399.3V521.1H400.3V517.4H401.3V506.4H402.3V513.4H403.3V509.7H404.3V514.5H405.3V516.5H406.3V506.5H407.3V517.7H408.3V521.1H409.3V509.3H410.3V515.6H411.3V499.3H412.3V505.2H413.3V515.1H414.3V495.0H415.3V503.2H416.3V499.7H417.3V513.6H418.3V512.9H419.3V499.5H420.3V504.1H421.3V483.7H422.3V508.0H423.3V503.8H424.3V510.2H425.3V482.6H426.3V501.9H427.3V496.2H428.3V479.1H429.3V492.5H430.3V496.4H431.3V502.3H432.3V497.2H433.3V491.4H434.3V497.9H435.3V493.3H436.3V488.7H437.3V485.4H438.3V493.5H439.3V493.0H440.3V505.0H441.3V487.4H442.3V502.2H443.3V492.4H444.3V498.0H445.3V481.9H446.3V481.6H447.3V485.3H448.3V493.8H449.3V487.9H450.3V491.7H451.3V487.9H452.3V492.8H453.3V486.0H454.3V480.0H455.3V487.4H456.3V483.6H457.3V495.7H458.3V480.7H459.3V482.2H460.3V478.5H461.3V489.1H462.3V486.5H463.3V484.2H464.3V469.1H465.3V466.4H466.3V479.6H467.3V482.6H468.3V487.9H469.3V462.0H470.3V474.0H471.3V461.6H472.3V466.7H473.3V471.9H474.3V480.6H475.3V468.3H476.3V466.1H477.3V468.5H478.3V480.2H479.3V488.6H480.3V456.7H481.3V465.9H482.3V463.9H483.3V475.8H484.3V469.1H485.3V477.2H486.3V456.0H487.3V463.4H488.3V458.8H489.3V452.9H490.3V459.6H491.3V450.6H492.3V476.9H493.3V462.0H494.3V449.7H495.3V452.3H496.3V470.7H497.3V452.1H498.3V461.0H499.3V459.6H500.3V463.2H501.3V459.0H502.3V451.7H503.3V448.2H504.3V438.1H505.3V452.1H506.3V453.4H507.3V449.1H508.3V450.8H509.3V442.0H510.3V469.9H511.3V448.1H512.3V443.9H513.3V447.7H514.3V451.6H515.3V459.4H516.3V433.9H517.3V458.5H518.3V449.8H519.3V453.9H520.3V464.3H521.3V462.9H522.3V451.9H523.3V457.4H524.3V474.1H525.3V470.7H526.3V467.6H527.3V461.6H528.3V470.1H529.3V466.5H530.3V459.9H531.3V457.2H532.3V470.3H533.3V470.2H534.3V477.7H535.3V465.3H536.3V481.2H537.3V468.3H538.3V482.0H539.3V477.4H540.3V469.6H541.3V467.7H542.3V475.1H543.3V474.9H544.3V485.1H545.3V473.5H546.3V468.4H547.3V480.6H548.3V496.4H549.3V495.2H550.3V479.0H551.3V482.8H552.3V488.4H553.3V482.1H554.3V486.4H555.3V487.3H556.3V482.7H557.3V487.1H558.3V489.3H559.3V495.8H560.3V486.6H561.3V497.3H562.3V490.5H563.3V493.0H564.3V491.9H565.3V530.3H566.3V511.5H567.3V513.3H568.3V510.6H569.3V504.2H570.3V507.5H571.3V510.1H572.3V512.3H573.3V514.5H574.3V522.1H575.3V491.6H576.3V509.6H577.3V519.3H578.3V513.1H579.3V515.6H580.3V528.1H581.3V520.1H582.3V532.1H583.3V520.6H584.3V523.6H585.3V515.8H586.3V510.6H587.3V522.4H588.3V526.7H589.3V525.0H590.3V519.4H591.3V533.9H592.3V531.1H593.3V531.8H594.3V527.7H595.3V544.9H596.3V544.9H597.3V538.3H598.3V536.7H599.3V540.3H600.3V550.8H601.3V559.2H602.3V542.4H603.3V540.9H604.3V533.3H605.3V563.9H606.3V540.5H607.3V554.3H608.3V553.3H609.3V559.9H610.3V547.6H611.3V544.3H612.3V556.6H613.3V559.6H614.3V565.4H615.3V549.6H616.3V558.4H617.3V561.0H618.3V555.8H619.3V564.3H620.3V571.3H621.3V567.7H622.3V560.8H623.3V572.6H624.3V576.8H625.3V576.2H626.3V578.9H627.3V566.0H628.3V579.3H629.3V581.2H630.3V576.8H631.3V579.7H632.3V576.8H633.3V589.2H634.3V581.6H635.3V579.0H636.3V586.4H637.3V587.0H638.3V591.1H639.3V583.8H640.3V585.7H641.3V592.5H642.3V603.5H643.3V594.9H644.3V585.9H645.3V595.2H646.3V591.1H647.3V586.3H648.3V593.5H649.3V595.0H650.3V601.3H651.3V607.0H652.3V607.0H653.3V606.2H654.3V600.6H655.3V604.7H656.3V604.6H657.3V613.1H658.3V603.5H659.3V605.0H660.3V616.5H661.3V612.8H662.3V608.6H663.3V612.8H664.3V613.8H665.3V615.0H666.3V619.1H667.3V618.0H668.3V616.4H669.3V615.9H670.3V611.0H671.3V618.4H672.3V627.2H673.3V623.8H674.3V620.6H675.3V623.7H676.3V621.8H677.3V628.3H678.3V637.4H679.3V637.4H680.3V635.5H681.3V634.5H682.3V630.8H683.3V627.0H684.3V633.7H685.3V632.5H686.3V639.2H687.3V636.9H688.3V634.4H689.3V639.8H690.3V651.7H691.3V635.1H692.3V645.0H693.3V643.3H694.3V640.9H695.3V638.6H696.3V642.7H697.3V644.2H698.3V647.3H699.3V647.6H700.3V646.5H701.3V642.7H702.3V647.6H703.3V644.9H704.3V642.9H705.3V651.9H706.3V645.7H707.3V644.0H708.3V650.1H709.3V642.0H710.3V650.5H711.3V653.2H712.3V650.1H713.3V653.4H714.3V662.0H715.3V659.5H716.3V657.9H717.3V657.1H718.3V653.0H719.3V655.1H720.3V655.0H721.3V656.8H722.3V657.7H723.3V654.4H724.3V664.9H725.3V654.5H726.3V660.8H727.3V664.0H728.3V660.2H729.3V658.1H730.3V661.4H731.3V669.6H732.3V664.8H733.3V661.6H734.3V665.6H735.3V663.0H736.3V656.8H737.3V665.7H738.3V669.3H739.3V670.3H740.3V665.9H741.3V661.1H742.3V671.9H743.3V667.0H744.3V671.0H745.3V673.0H746.3V670.4H747.3V669.4H748.3V667.7H749.3V668.9H750.3V671.2H751.3V669.8H752.3V673.5H753.3V665.2H754.3V669.3H755.3V673.6H756.3V671.6H757.3V672.8H758.3V671.1H759.3V678.4H760.3V682.5H761.3V673.2H762.3V681.8H763.3V672.6H764.3V679.1H765.3V671.7H766.3V681.4H767.3V680.2H768.3V681.1H769.3V685.5H770.3V683.7H771.3V681.9H772.3V679.5H773.3V683.1H774.3V680.9H775.3V682.3H776.3V689.5H777.3V687.7H778.3V686.0H779.3V687.5H780.3V680.5H781.3V686.4H782.3V680.3H783.3V684.3H784.3V688.3H785.3V688.6H786.3V690.1H787.3V688.4H788.3V688.4H789.3V688.5H790.3V693.7H791.3V693.6H792.3V684.3H793.3V690.0H794.3V694.3H795.3V689.2H796.3V691.2H797.3V688.6H798.3V686.8H799.3V691.6H800.3V690.0H801.3V691.1H802.3V686.9H803.3V688.1H804.3V691.9H805.3V691.1H806.3V694.7H807.3V689.5H808.3V695.7H809.3V695.4H810.3V694.0H811.3V696.2H812.3V693.9H813.3V693.8H814.3V694.6H815.3V690.7H816.3V695.0H817.3V698.1H818.3V690.3H819.3V698.2H820.3V694.1H821.3V695.3H822.3V697.0H823.3V697.8H824.3V701.8H825.3V697.0H826.3V703.4H827.3V698.2H828.3V700.0H829.3V700.9H830.3V696.7H831.3V695.5H832.3V699.8H833.3V702.0H834.3V702.9H835.3V699.2H836.3V706.3H837.3V700.5H838.3V699.0H839.3V705.2H840.3V705.7H841.3V699.0H842.3V705.0H843.3V698.5H844.3V703.0H845.3V710.4H846.3V707.5H847.3V705.9H848.3V706.0H849.3V701.5H850.3V705.4H851.3V706.0H852.3V701.5H853.3V705.7H854.3V706.9H855.3V706.1H856.3V706.9H857.3V705.0H858.3V702.4H859.3V706.2H860.3V700.3H861.3V704.2H862.3V710.1H863.3V712.4H864.3V708.3H865.3V699.6H866.3V711.5H867.3V709.2H868.3V707.1H869.3V710.2H870.3V709.7H871.3V704.4H872.3V704.3H873.3V711.7H874.3V701.5H875.3V710.6H876.3V709.9H877.3V712.1H878.3V714.6H879.3V713.5H880.3V714.3H881.3V712.2H882.3V711.4H883.3V713.3H884.3V710.1H885.3V707.5H886.3V710.1H887.3V705.6H888.3V709.0H889.3V717.1H890.3V712.5H891.3V710.5H892.3V709.3H893.3V705.9H894.3V709.8H895.3V709.1H896.3V711.6H897.3V712.0H898.3V711.6H899.3V706.2H900.3V716.4H901.3V713.5H902.3V712.3H903.3V711.4H904.3V713.8H905.3V716.3H906.3V714.5H907.3V709.2H908.3V709.0H909.3V705.8H910.3V713.4H911.3V715.2H912.3V716.8H913.3V713.6H914.3V715.7H915.3V710.6H916.3V715.0H917.3V713.1H918.3V711.5H919.3V708.6H920.3V717.1H921.3V707.0H922.3V715.7H923.3V711.5H924.3V715.7H925.3V712.3H926.3V716.3H927.3V713.5H928.3V711.0H929.3V712.7H930.3V709.5H931.3V715.2H932.3V717.5H933.3V715.7H934.3V714.8H935.3V718.4H936.3V711.1H937.3V716.3H938.3V714.7H939.3V713.4H940.3V716.4H941.3V711.4H942.3V714.5H943.3V716.0H944.3V711.5H945.3V714.3H946.3V716.6H947.3V718.0H948.3V712.4H949.3V717.9H950.3V714.4H951.3V715.6H952.3V713.7H953.3V717.7H954.3V713.4H955.3V716.3H956.3V716.7H957.3V717.8H958.3V712.6H959.3V718.0H960.3V715.8H961.3V720.1H962.3V714.8H963.3V714.2H964.3V715.7H965.3V715.0H966.3V715.5H967.3V712.3H968.3V710.0H969.3V711.8H970.3V714.5H971.3V717.5H972.3V715.4H973.3V713.5H974.3V716.0H975.3V716.6H976.3V724.6H977.3V720.3H978.3V717.2H979.3V712.4H980.3V716.2H981.3V715.9H982.3V718.4H983.3V723.1H984.3V716.7H985.3V711.2H986.3V716.7H987.3V712.2H988.3V719.6H989.3V720.4H990.3V718.2H991.3V712.9H992.3V716.8H993.3V720.9H994.3V714.5H995.3V715.8H996.3V718.3H997.3V719.0H998.3V717.9H999.3V718.7H1000.3V718.4H1001.3V716.1H1002.3V717.6H1003.3V718.7H1004.3V714.8H1005.3V718.6H1006.3V718.3H1007.3V719.4H1008.3V719.2H1009.3V715.2H1010.3V714.6H1011.3V719.0H1012.3V717.9H1013.3V718.7H1014.3V716.8H1015.3V714.8H1016.3V719.3H1017.3V718.2H1018.3V720.4H1019.3V721.9H1020.3V721.9H1021.3V721.7H1022.3V716.1H1023.3V712.8H1024.3V717.2H1025.3V715.5H1026.3V715.2H1027.3V721.0H1028.3V714.5H1029.3V721.8H1030.3V722.4H1031.3V727.0H1032.3V722.3H1033.3V725.4H1034.3V717.6H1035.3V717.5H1036.3V722.4H1037.3V715.8H1038.3V722.9H1039.3V718.9H1040.3V714.1H1041.3V725.1H1042.3V716.7H1043.3V727.1H1044.3V715.7H1045.3V717.6H1046.3V720.7H1047.3V720.2H1048.3V715.6H1049.3V720.5H1050.3V720.8H1051.3V721.6H1052.3V715.8H1053.3V718.7H1054.3V720.2H1055.3V722.8H1056.3V721.0H1057.3V719.6H1058.3V719.4H1059.3V724.8H1060.3V718.4H1061.3V721.6H1062.3V714.6H1063.3V725.7H1064.3V722.2H1065.3V715.9H1066.3V722.7H1067.3V724.9H1068.3V723.4H1069.3V721.3H1070.3V723.5H1071.3V719.0H1072.3V720.4H1073.3V720.2H1074.3V721.5H1075.3V718.3H1076.3V725.2H1077.3V721.0H1078.3V718.3H1079.3V720.8H1080.3V722.5H1081.3V721.6H1082.3V724.6H1083.3V720.5H1084.3V719.4H1085.3V723.0H1086.3V725.2H1087.3V718.9H1088.3V717.2H1089.3V719.9H1090.3V721.5H1091.3V718.8H1092.3V722.2H1093.3V719.3H1094.3V724.3H1095.3V718.5H1096.3V719.3H1097.3V722.1H1098.3V723.8H1099.3V724.5H1100.3V720.0H1101.3V722.0H1102.3V723.5H1103.3V726.1H1104.3V719.5H1105.3V718.6H1106.3V723.5H1107.3V721.4H1108.3V726.0H1109.3V722.2H1110.3V723.1H1111.3V720.0H1112.3V723.0H1113.3V725.7H1114.3V721.6H1115.3V719.0H1116.3V724.8H1117.3V721.5H1118.3V722.5H1119.3V720.4H1120.3V725.1H1121.3V720.4H1122.3V721.1H1123.3V722.5H1124.3V722.0H1125.3V716.2H1126.3V723.9H1127.3V719.3H1128.3V723.3H1129.3V721.5H1130.3V722.3H1131.3V720.6H1132.3V719.7H1133.3V723.1H1134.3V723.4H1135.3V725.6H1136.3V724.3H1137.3V720.8H1138.3V726.1H1139.3V729.1H1140.3V724.9H1141.3V722.4H1142.3V720.2H1143.3V723.2H1144.3V718.9H1145.3V725.2H1146.3V721.9H1147.3V721.4H1148.3V723.8H1149.3V719.6H1150.3V718.2H1151.3V721.9H1152.3V726.5H1153.3V720.8H1154.3V725.6H1155.3V718.0H1156.3V723.0H1157.3V724.6H1158.3V728.2H1159.3V718.3H1160.3V723.1H1161.3V720.7H1162.3V724.2H1163.3V721.8H1164.3V723.6H1165.3V721.2H1166.3V721.8H1167.3V724.5H1168.3V727.6"/>
<path stroke="#0000ff" d="M96.3,586.0H97.3V581.0H98.3V579.1H99.3V575.0H100.3V582.0H101.3V586.2H102.3V582.5H103.3V583.6H104.3V584.7H105.3V579.1H106.3V588.8H107.3V578.6H108.3V581.8H109.3V588.3H110.3V579.9H111.3V580.3H112.3V578.2H113.3V580.4H114.3V573.1H115.3V577.1H116.3V583.5H117.3V579.0H118.3V577.4H119.3V578.9H120.3V578.8H121.3V577.8H122.3V578.7H123.3V572.0H124.3V578.2H125.3V574.3H126.3V578.3H127.3V575.7H128.3V572.6H129.3V575.0H130.3V572.0H131.3V577.7H132.3V574.4H133.3V576.7H134.3V570.6H135.3V578.5H136.3V572.5H137.3V577.2H138.3V575.4H139.3V569.4H140.3V573.4H141.3V570.6H142.3V573.2H143.3V576.0H144.3V573.6H145.3V574.5H146.3V567.6H147.3V571.5H148.3V571.8H149.3V573.8H150.3V568.4H151.3V571.7H152.3V571.1H153.3V564.9H154.3V566.1H155.3V570.4H156.3V565.2H157.3V564.7H158.3V571.0H159.3V568.8H160.3V566.9H161.3V567.6H162.3V565.6H163.3V564.8H164.3V564.6H165.3V566.8H166.3V569.2H167.3V563.0H168.3V563.7H169.3V562.6H170.3V558.6H171.3V562.8H172.3V564.1H173.3V557.9H174.3V562.6H175.3V557.4H176.3V562.3H177.3V561.8H178.3V555.9H179.3V549.8H180.3V554.6H181.3V550.4H182.3V549.9H183.3V552.7H184.3V557.3H185.3V551.6H186.3V550.4H187.3V544.1H188.3V547.8H189.3V544.5H190.3V550.7H191.3V546.7H192.3V548.0H193.3V547.8H194.3V546.8H195.3V550.5H196.3V548.6H197.3V545.5H198.3V546.9H199.3V548.1H200.3V550.7H201.3V546.1H202.3V550.6H203.3V543.1H204.3V544.2H205.3V539.6H206.3V547.6H207.3V540.8H208.3V540.6H209.3V547.1H210.3V542.1H211.3V541.1H212.3V547.0H213.3V542.8H214.3V546.5H215.3V541.6H216.3V545.5H217.3V546.5H218.3V542.8H219.3V548.7H220.3V540.6H221.3V541.1H222.3V541.9H223.3V545.0H224.3V540.0H225.3V539.2H226.3V541.4H227.3V544.8H228.3V538.4H229.3V534.9H230.3V538.7H231.3V541.1H232.3V536.4H233.3V538.5H234.3V530.7H235.3V537.2H236.3V537.1H237.3V538.5H238.3V536.9H239.3V538.1H240.3V531.0H241.3V536.7H242.3V527.5H243.3V531.0H244.3V536.9H245.3V535.4H246.3V524.6H247.3V533.4H248.3V528.9H249.3V527.0H250.3V530.3H251.3V529.5H252.3V533.8H253.3V522.3H254.3V525.7H255.3V526.3H256.3V519.1H257.3V530.4H258.3V532.2H259.3V522.3H260.3V525.8H261.3V522.7H262.3V524.3H263.3V520.0H264.3V525.5H265.3V516.9H266.3V526.6H267.3V522.0H268.3V529.8H269.3V512.7H270.3V518.5H271.3V513.1H272.3V517.2H273.3V518.9H274.3V512.8H275.3V510.1H276.3V508.2H277.3V515.7H278.3V519.4H279.3V518.4H280.3V513.0H281.3V508.2H282.3V510.0H283.3V504.5H284.3V503.5H285.3V514.0H286.3V507.5H287.3V509.3H288.3V506.0H289.3V512.1H290.3V511.8H291.3V501.4H292.3V502.4H293.3V500.2H294.3V508.1H295.3V507.0H296.3V499.4H297.3V510.0H298.3V499.0H299.3V492.6H300.3V488.0H301.3V495.6H302.3V496.8H303.3V491.8H304.3V495.2H305.3V498.1H306.3V491.5H307.3V494.7H308.3V497.6H309.3V491.3H310.3V485.4H311.3V489.2H312.3V488.8H313.3V495.4H314.3V482.3H315.3V476.1H316.3V484.0H317.3V483.2H318.3V478.7H319.3V482.6H320.3V480.5H321.3V484.0H322.3V473.1H323.3V472.8H324.3V475.3H325.3V472.0H326.3V480.0H327.3V475.7H328.3V471.9H329.3V478.8H330.3V472.9H331.3V474.6H332.3V472.8H333.3V467.1H334.3V466.3H335.3V466.2H336.3V459.7H337.3V462.7H338.3V468.1H339.3V464.4H340.3V457.1H341.3V473.5H342.3V454.9H343.3V462.7H344.3V462.4H345.3V464.5H346.3V452.4H347.3V456.2H348.3V454.2H349.3V460.5H350.3V455.7H351.3V455.0H352.3V454.9H353.3V461.8H354.3V454.0H355.3V454.4H356.3V443.7H357.3V451.8H358.3V440.3H359.3V451.6H360.3V446.5H361.3V440.0H362.3V437.8H363.3V442.9H364.3V443.3H365.3V438.7H366.3V439.3H367.3V438.7H368.3V436.7H369.3V437.9H370.3V439.8H371.3V444.9H372.3V440.5H373.3V433.0H374.3V444.8H375.3V441.7H376.3V432.8H377.3V439.5H378.3V429.9H379.3V428.0H380.3V427.5H381.3V440.6H382.3V431.4H383.3V431.8H384.3V429.8H385.3V426.4H386.3V431.1H387.3V431.7H388.3V438.7H389.3V421.6H390.3V435.1H391.3V429.5H392.3V414.7H393.3V430.3H394.3V433.6H395.3V430.0H396.3V424.4H397.3V423.3H398.3V409.9H399.3V423.3H400.3V421.9H401.3V414.7H402.3V421.0H403.3V415.2H404.3V432.4H405.3V410.8H406.3V412.2H407.3V403.9H408.3V414.1H409.3V416.7H410.3V415.5H411.3V410.9H412.3V419.7H413.3V415.3H414.3V420.6H415.3V412.0H416.3V401.2H417.3V410.7H418.3V404.7H419.3V415.6H420.3V406.1H421.3V407.8H422.3V408.6H423.3V398.6H424.3V405.1H425.3V412.4H426.3V402.7H427.3V404.6H428.3V406.1H429.3V400.1H430.3V401.9H431.3V406.0H432.3V400.1H433.3V402.2H434.3V400.3H435.3V393.9H436.3V391.6H437.3V412.1H438.3V407.6H439.3V397.2H440.3V403.5H441.3V403.9H442.3V402.3H443.3V393.1H444.3V385.4H445.3V385.9H446.3V391.9H447.3V401.7H448.3V402.5H449.3V390.0H450.3V388.7H451.3V398.3H452.3V403.4H453.3V382.9H454.3V391.6H455.3V388.8H456.3V385.1H457.3V384.5H458.3V383.7H459.3V385.3H460.3V374.4H461.3V384.2H462.3V388.9H463.3V388.1H464.3V387.7H465.3V383.9H466.3V382.3H467.3V393.5H468.3V378.3H469.3V379.9H470.3V386.6H471.3V377.6H472.3V367.7H473.3V372.0H474.3V372.1H475.3V373.3H476.3V370.5H477.3V379.8H478.3V377.0H479.3V374.8H480.3V367.9H481.3V377.2H482.3V376.2H483.3V384.0H484.3V363.7H485.3V366.5H486.3V376.5H487.3V358.4H488.3V367.4H489.3V366.6H490.3V364.9H491.3V357.3H492.3V363.9H493.3V352.5H494.3V371.3H495.3V358.9H496.3V363.2H497.3V361.8H498.3V363.0H499.3V362.4H500.3V364.4H501.3V358.7H502.3V361.5H503.3V353.3H504.3V353.8H505.3V355.3H506.3V354.3H507.3V351.9H508.3V357.4H509.3V366.6H510.3V365.4H511.3V359.7H512.3V365.3H513.3V366.0H514.3V382.8H515.3V352.8H516.3V366.3H517.3V355.7H518.3V374.4H519.3V364.4H520.3V369.6H521.3V368.4H522.3V372.4H523.3V347.4H524.3V360.4H525.3V369.6H526.3V360.3H527.3V374.0H528.3V379.3H529.3V362.2H530.3V368.8H531.3V376.7H532.3V385.5H533.3V380.4H534.3V379.1H535.3V368.6H536.3V375.5H537.3V376.8H538.3V372.5H539.3V380.3H540.3V376.1H541.3V376.0H542.3V394.4H543.3V379.6H544.3V394.3H545.3V380.0H546.3V383.0H547.3V376.1H548.3V381.5H549.3V396.9H550.3V387.5H551.3V375.1H552.3V398.8H553.3V384.5H554.3V388.7H555.3V392.2H556.3V381.2H557.3V404.6H558.3V404.0H559.3V394.5H560.3V400.0H561.3V396.9H562.3V396.0H563.3V399.4H564.3V392.7H565.3V400.3H566.3V400.4H567.3V417.0H568.3V396.7H569.3V414.8H570.3V412.3H571.3V409.8H572.3V406.1H573.3V422.0H574.3V420.8H575.3V412.5H576.3V412.6H577.3V415.9H578.3V426.9H579.3V411.3H580.3V418.3H581.3V425.7H582.3V411.5H583.3V420.4H584.3V428.5H585.3V420.3H586.3V423.2H587.3V415.8H588.3V428.2H589.3V420.0H590.3V425.7H591.3V431.0H592.3V426.8H593.3V436.1H594.3V436.2H595.3V435.8H596.3V439.7H597.3V434.1H598.3V423.8H599.3V441.9H600.3V442.4H601.3V436.3H602.3V435.3H603.3V447.4H604.3V439.3H605.3V440.7H606.3V441.4H607.3V457.7H608.3V441.8H609.3V432.5H610.3V447.0H611.3V442.9H612.3V439.9H613.3V451.0H614.3V448.3H615.3V456.8H616.3V451.2H617.3V460.1H618.3V459.9H619.3V455.6H620.3V460.3H621.3V466.5H622.3V461.3H623.3V450.9H624.3V459.5H625.3V460.8H626.3V466.9H627.3V460.3H628.3V467.4H629.3V461.6H630.3V463.0H631.3V462.3H632.3V464.2H633.3V464.0H634.3V467.1H635.3V462.2H636.3V461.5H637.3V467.0H638.3V468.9H639.3V466.9H640.3V471.8H641.3V472.3H642.3V479.9H643.3V465.2H644.3V483.1H645.3V462.8H646.3V466.6H647.3V477.5H648.3V472.6H649.3V476.8H650.3V477.1H651.3V474.0H652.3V474.8H653.3V480.5H654.3V485.1H655.3V487.3H656.3V486.3H657.3V485.1H658.3V493.1H659.3V478.6H660.3V489.8H661.3V496.4H662.3V499.0H663.3V498.0H664.3V499.6H665.3V499.1H666.3V495.9H667.3V486.2H668.3V494.7H669.3V496.5H670.3V505.4H671.3V497.3H672.3V498.3H673.3V503.5H674.3V497.0H675.3V502.1H676.3V505.0H677.3V501.9H678.3V503.6H679.3V496.9H680.3V499.8H681.3V504.7H682.3V511.2H683.3V504.5H684.3V503.6H685.3V504.7H686.3V511.4H687.3V503.2H688.3V510.5H689.3V508.8H690.3V511.2H691.3V508.3H692.3V512.3H693.3V518.1H694.3V511.9H695.3V511.5H696.3V503.5H697.3V516.6H698.3V512.5H699.3V517.2H700.3V516.6H701.3V513.4H702.3V514.6H703.3V512.2H704.3V526.2H705.3V522.4H706.3V522.5H707.3V524.5H708.3V525.8H709.3V524.1H710.3V525.3H711.3V531.6H712.3V515.4H713.3V523.5H714.3V520.8H715.3V524.0H716.3V514.4H717.3V520.5H718.3V528.4H719.3V520.9H720.3V528.4H721.3V523.6H722.3V526.6H723.3V522.0H724.3V525.9H725.3V523.0H726.3V531.4H727.3V523.2H728.3V531.6H729.3V528.8H730.3V530.7H731.3V537.3H732.3V531.4H733.3V530.5H734.3V533.4H735.3V536.5H736.3V532.3H737.3V541.2H738.3V536.0H739.3V534.5H740.3V533.9H741.3V536.2H742.3V539.3H743.3V541.6H744.3V538.5H745.3V536.6H746.3V539.0H747.3V532.0H748.3V544.1H749.3V543.6H750.3V540.3H751.3V544.0H752.3V538.4H753.3V548.9H754.3V542.5H755.3V541.9H756.3V551.4H757.3V541.2H758.3V546.6H759.3V542.6H760.3V544.1H761.3V545.5H762.3V544.9H763.3V552.4H764.3V551.5H765.3V546.1H766.3V556.8H767.3V548.7H768.3V548.6H769.3V551.0H770.3V546.4H771.3V554.9H772.3V547.5H773.3V546.6H774.3V554.9H775.3V548.5H776.3V551.0H777.3V548.1H778.3V551.0H779.3V553.2H780.3V545.0H781.3V553.2H782.3V551.0H783.3V558.7H784.3V561.1H785.3V556.4H786.3V556.9H787.3V558.7H788.3V559.1H789.3V551.1H790.3V551.8H791.3V554.8H792.3V552.1H793.3V555.8H794.3V557.6H795.3V554.9H796.3V559.3H797.3V562.8H798.3V558.5H799.3V560.0H800.3V558.8H801.3V558.9H802.3V557.8H803.3V556.1H804.3V561.8H805.3V563.7H806.3V560.3H807.3V561.1H808.3V556.6H809.3V560.5H810.3V562.4H811.3V561.4H812.3V562.1H813.3V559.0H814.3V558.4H815.3V561.9H816.3V567.6H817.3V561.9H818.3V558.6H819.3V561.5H820.3V563.1H821.3V567.7H822.3V567.5H823.3V561.9H824.3V561.4H825.3V564.0H826.3V565.0H827.3V562.1H828.3V568.4H829.3V564.2H830.3V566.5H831.3V565.4H832.3V567.7H833.3V566.0H834.3V567.3H835.3V570.5H836.3V567.6H837.3V571.5H838.3V563.4H839.3V566.8H840.3V564.4H841.3V563.5H842.3V567.8H843.3V573.9H844.3V569.0H845.3V571.5H846.3V562.8H847.3V569.5H848.3V565.5H849.3V569.8H850.3V572.3H851.3V567.9H852.3V572.8H853.3V567.3H854.3V570.1H855.3V568.0H856.3V570.3H857.3V569.7H858.3V563.8H859.3V569.4H860.3V569.1H861.3V575.7H862.3V563.4H863.3V571.2H864.3V573.5H865.3V576.9H866.3V575.2H867.3V571.4H868.3V575.9H869.3V571.4H870.3V571.3H871.3V571.0H872.3V571.0H873.3V576.7H874.3V567.5H875.3V567.9H876.3V575.4H877.3V574.1H878.3V575.3H879.3V572.2H880.3V575.0H881.3V572.5H882.3V571.8H883.3V572.1H884.3V573.9H885.3V573.8H886.3V572.6H887.3V578.4H888.3V575.2H889.3V573.0H890.3V570.3H891.3V574.0H892.3V569.6H893.3V571.9H894.3V571.2H895.3V572.1H896.3V575.2H897.3V565.4H898.3V579.1H899.3V576.2H900.3V573.7H901.3V573.3H902.3V577.3H903.3V574.9H904.3V580.3H905.3V575.0H906.3V572.8H907.3V571.5H908.3V575.4H909.3V578.7H910.3V572.3H911.3V579.5H912.3V578.3H913.3V575.1H914.3V579.7H915.3V571.1H916.3V569.9H917.3V577.0H918.3V577.4H919.3V577.3H920.3V576.2H921.3V572.1H922.3V578.0H923.3V575.4H924.3V579.0H925.3V577.1H926.3V573.2H927.3V578.3H928.3V578.9H929.3V578.9H930.3V574.6H931.3V573.7H932.3V579.0H933.3V576.6H934.3V576.5H935.3V579.7H936.3V579.9H937.3V578.3H938.3V576.3H939.3V581.3H940.3V574.0H941.3V577.0H942.3V577.9H943.3V573.1H944.3V575.0H945.3V579.6H946.3V576.9H947.3V574.1H948.3V581.9H949.3V577.7H950.3V577.5H951.3V582.5H952.3V573.0H953.3V575.7H954.3V574.7H955.3V581.1H956.3V575.0H957.3V584.2H958.3V578.8H959.3V578.3H960.3V580.3H961.3V576.9H962.3V574.9H963.3V575.8H964.3V577.6H965.3V574.8H966.3V578.0H967.3V575.8H968.3V577.1H969.3V577.5H970.3V582.3H971.3V584.4H972.3V583.2H973.3V577.6H974.3V576.2H975.3V581.3H976.3V582.1H977.3V581.1H978.3V576.8H979.3V579.4H980.3V577.8H981.3V581.6H982.3V581.3H983.3V579.3H984.3V577.6H985.3V583.8H986.3V579.4H987.3V581.2H988.3V580.5H989.3V581.2H990.3V582.4H991.3V578.1H992.3V577.8H993.3V580.9H994.3V570.0H995.3V579.0H996.3V577.8H997.3V581.3H998.3V580.2H999.3V578.7H1000.3V576.0H1001.3V578.8H1002.3V578.4H1003.3V579.6H1004.3V580.0H1005.3V577.4H1006.3V580.9H1007.3V577.9H1008.3V580.7H1009.3V580.3H1010.3V583.1H1011.3V579.5H1012.3V584.1H1013.3V578.6H1014.3V577.1H1015.3V581.5H1016.3V576.1H1017.3V580.7H1018.3V580.8H1019.3V580.2H1020.3V580.9H1021.3V580.3H1022.3V583.4H1023.3V579.5H1024.3V574.3H1025.3V578.8H1026.3V582.3H1027.3V582.7H1028.3V581.9H1029.3V580.1H1030.3V577.4H1031.3V584.4H1032.3V578.4H1033.3V577.0H1034.3V573.2H1035.3V585.5H1036.3V580.1H1037.3V574.9H1038.3V582.6H1039.3V582.0H1040.3V575.4H1041.3V582.4H1042.3V580.3H1043.3V582.2H1044.3V584.1H1045.3V579.1H1046.3V586.5H1047.3V580.0H1048.3V578.7H1049.3V583.7H1050.3V578.5H1051.3V579.4H1052.3V582.7H1053.3V577.9H1054.3V576.6H1055.3V581.2H1056.3V580.4H1057.3V578.8H1058.3V583.0H1059.3V577.1H1060.3V582.5H1061.3V577.4H1062.3V581.7H1063.3V577.0H1064.3V582.3H1065.3V580.3H1066.3V579.2H1067.3V580.6H1068.3V580.1H1069.3V582.8H1070.3V578.6H1071.3V581.7H1072.3V579.6H1073.3V578.8H1074.3V579.1H1075.3V577.4H1076.3V581.5H1077.3V580.8H1078.3V581.6H1079.3V576.1H1080.3V579.4H1081.3V584.9H1082.3V584.1H1083.3V580.4H1084.3V580.8H1085.3V581.4H1086.3V583.8H1087.3V585.0H1088.3V581.8H1089.3V581.7H1090.3V581.0H1091.3V582.1H1092.3V586.1H1093.3V579.4H1094.3V583.1H1095.3V578.1H1096.3V578.3H1097.3V576.7H1098.3V579.7H1099.3V585.5H1100.3V585.9H1101.3V583.6H1102.3V581.4H1103.3V584.4H1104.3V578.5H1105.3V577.6H1106.3V579.1H1107.3V580.9H1108.3V576.4H1109.3V579.3H1110.3V586.2H1111.3V581.0H1112.3V580.4H1113.3V579.7H1114.3V583.5H1115.3V583.3H1116.3V581.8H1117.3V581.0H1118.3V575.5H1119.3V577.4H1120.3V580.3H1121.3V579.9H1122.3V580.6H1123.3V580.1H1124.3V586.4H1125.3V584.5H1126.3V578.4H1127.3V583.5H1128.3V582.5H1129.3V581.3H1130.3V580.7H1131.3V582.4H1132.3V586.5H1133.3V579.9H1134.3V580.9H1135.3V581.1H1136.3V576.7H1137.3V581.4H1138.3V579.1H1139.3V582.1H1140.3V582.5H1141.3V586.4H1142.3V580.9H1143.3V580.7H1144.3V583.5H1145.3V587.0H1146.3V582.0H1147.3V582.9H1148.3V583.1H1149.3V583.0H1150.3V580.2H1151.3V579.4H1152.3V579.7H1153.3V580.6H1154.3V582.4H1155.3V579.2H1156.3V579.5H1157.3V581.6H1158.3V581.2H1159.3V581.9H1160.3V578.2H1161.3V586.8H1162.3V581.0H1163.3V580.9H1164.3V579.2H1165.3V582.8H1166.3V584.4H1167.3V581.5H1168.3V581.3"/>
</g>
<g clip-path="url(#ctB)" fill="none" stroke-width="2.0" stroke-linejoin="miter" stroke-miterlimit="2">
<path stroke="#ff00ff" d="M1206.3,953.2H1207.3V963.3H1208.3V957.8H1209.3V975.2H1210.3V974.9H1211.3V977.4H1212.3V981.7H1213.3V984.3H1214.3V989.5H1215.3V994.9H1216.3V996.4H1217.3V998.7H1218.3V994.2H1219.3V996.4H1220.3V1006.8H1221.3V1006.8H1222.3V1011.6H1223.3V1010.2H1224.3V1005.1H1225.3V1012.5H1226.3V1011.5H1227.3V1011.1H1228.3V1008.8H1229.3V1011.8H1230.3V1011.9H1231.3V1015.4H1232.3V1013.8H1233.3V1018.4H1234.3V1012.2H1235.3V1016.1H1236.3V1016.6H1237.3V1013.1H1238.3V1012.4H1239.3V1018.7H1240.3V1017.4H1241.3V1015.5H1242.3V1017.1H1243.3V1014.1H1244.3V1016.6H1245.3V1014.2H1246.3V1016.4H1247.3V1018.5H1248.3V1014.7H1249.3V1018.0H1250.3V1012.6H1251.3V1014.6H1252.3V1011.5H1253.3V1014.9H1254.3V1015.2H1255.3V1014.3H1256.3V1014.0H1257.3V1018.4H1258.3V1018.4H1259.3V1010.9H1260.3V1017.4H1261.3V1009.1H1262.3V1011.7H1263.3V1013.1H1264.3V1013.8H1265.3V1010.3H1266.3V1011.1H1267.3V1013.1H1268.3V1010.8H1269.3V1010.8H1270.3V1014.2H1271.3V1014.8H1272.3V1011.9H1273.3V1011.9H1274.3V1011.6H1275.3V1010.2H1276.3V1009.9H1277.3V1008.3H1278.3V1012.8H1279.3V1010.6H1280.3V1010.3H1281.3V1011.1H1282.3V1011.9H1283.3V1014.3H1284.3V1009.4H1285.3V1008.9H1286.3V1010.5H1287.3V1007.4H1288.3V1013.2H1289.3V1012.1H1290.3V1011.4H1291.3V1009.0H1292.3V1011.3H1293.3V1012.0H1294.3V1010.4H1295.3V1008.0H1296.3V1004.0H1297.3V1011.2H1298.3V1007.5H1299.3V1006.0H1300.3V1010.7H1301.3V1009.1H1302.3V1004.0H1303.3V1007.6H1304.3V1007.0H1305.3V1010.4H1306.3V1002.2H1307.3V1006.3H1308.3V1006.8H1309.3V1011.1H1310.3V1003.9H1311.3V998.6H1312.3V1002.8H1313.3V1007.3H1314.3V1008.7H1315.3V1011.1H1316.3V1007.2H1317.3V1003.7H1318.3V1008.3H1319.3V1005.6H1320.3V1004.9H1321.3V1005.3H1322.3V1008.7H1323.3V1002.4H1324.3V1001.9H1325.3V1004.4H1326.3V1004.2H1327.3V1001.9H1328.3V1001.5H1329.3V1004.8H1330.3V1007.3H1331.3V1005.3H1332.3V1005.0H1333.3V1006.3H1334.3V997.0H1335.3V998.1H1336.3V1000.1H1337.3V998.5H1338.3V998.8H1339.3V1001.6H1340.3V997.5H1341.3V999.6H1342.3V994.8H1343.3V997.6H1344.3V1003.8H1345.3V998.2H1346.3V1000.4H1347.3V1001.1H1348.3V997.5H1349.3V1000.2H1350.3V998.9H1351.3V999.9H1352.3V995.9H1353.3V993.4H1354.3V994.2H1355.3V995.2H1356.3V998.0H1357.3V995.6H1358.3V994.7H1359.3V995.0H1360.3V998.3H1361.3V993.3H1362.3V998.8H1363.3V990.8H1364.3V992.3H1365.3V996.0H1366.3V994.7H1367.3V990.5H1368.3V992.3H1369.3V990.2H1370.3V994.3H1371.3V993.1H1372.3V989.2H1373.3V992.0H1374.3V989.4H1375.3V989.9H1376.3V989.9H1377.3V987.7H1378.3V990.2H1379.3V989.9H1380.3V989.4H1381.3V991.0H1382.3V986.6H1383.3V982.6H1384.3V985.2H1385.3V986.8H1386.3V985.8H1387.3V987.1H1388.3V987.4H1389.3V984.2H1390.3V983.8H1391.3V980.7H1392.3V986.4H1393.3V982.0H1394.3V979.1H1395.3V978.6H1396.3V980.2H1397.3V985.8H1398.3V983.0H1399.3V975.0H1400.3V979.4H1401.3V980.1H1402.3V980.8H1403.3V979.5H1404.3V975.9H1405.3V978.8H1406.3V975.3H1407.3V969.5H1408.3V973.8H1409.3V973.4H1410.3V978.2H1411.3V978.0H1412.3V970.8H1413.3V974.2H1414.3V973.5H1415.3V968.0H1416.3V965.5H1417.3V971.4H1418.3V971.6H1419.3V968.7H1420.3V961.2H1421.3V969.5H1422.3V967.2H1423.3V965.6H1424.3V966.9H1425.3V963.7H1426.3V968.8H1427.3V966.5H1428.3V964.0H1429.3V966.3H1430.3V964.7H1431.3V959.1H1432.3V963.2H1433.3V961.5H1434.3V956.6H1435.3V959.7H1436.3V962.9H1437.3V958.7H1438.3V965.2H1439.3V965.6H1440.3V958.0H1441.3V960.5H1442.3V965.0H1443.3V956.2H1444.3V953.6H1445.3V954.7H1446.3V950.7H1447.3V950.2H1448.3V955.1H1449.3V952.3H1450.3V954.1H1451.3V954.3H1452.3V949.1H1453.3V950.6H1454.3V949.6H1455.3V947.5H1456.3V946.2H1457.3V949.8H1458.3V947.5H1459.3V948.6H1460.3V950.4H1461.3V949.8H1462.3V941.1H1463.3V941.4H1464.3V943.0H1465.3V943.8H1466.3V946.2H1467.3V938.2H1468.3V939.5H1469.3V941.5H1470.3V944.6H1471.3V944.5H1472.3V934.5H1473.3V936.9H1474.3V933.9H1475.3V939.7H1476.3V937.5H1477.3V933.6H1478.3V931.9H1479.3V934.8H1480.3V936.9H1481.3V929.1H1482.3V930.3H1483.3V931.3H1484.3V930.3H1485.3V930.9H1486.3V924.8H1487.3V925.7H1488.3V918.8H1489.3V927.1H1490.3V930.6H1491.3V916.9H1492.3V922.1H1493.3V927.9H1494.3V922.8H1495.3V914.7H1496.3V927.0H1497.3V915.2H1498.3V926.5H1499.3V917.4H1500.3V916.1H1501.3V918.6H1502.3V917.7H1503.3V919.7H1504.3V918.6H1505.3V915.0H1506.3V920.8H1507.3V917.4H1508.3V914.8H1509.3V913.5H1510.3V911.8H1511.3V911.2H1512.3V913.8H1513.3V912.3H1514.3V909.7H1515.3V913.4H1516.3V907.0H1517.3V909.5H1518.3V910.8H1519.3V901.2H1520.3V904.4H1521.3V912.7H1522.3V900.0H1523.3V909.1H1524.3V898.3H1525.3V904.5H1526.3V897.1H1527.3V898.6H1528.3V899.2H1529.3V897.9H1530.3V904.6H1531.3V903.3H1532.3V903.0H1533.3V899.3H1534.3V905.7H1535.3V902.3H1536.3V898.5H1537.3V891.5H1538.3V899.4H1539.3V898.8H1540.3V895.7H1541.3V898.2H1542.3V898.0H1543.3V892.5H1544.3V896.2H1545.3V894.7H1546.3V894.2H1547.3V890.6H1548.3V889.6H1549.3V892.0H1550.3V897.9H1551.3V901.9H1552.3V888.3H1553.3V884.5H1554.3V887.6H1555.3V884.7H1556.3V886.3H1557.3V889.9H1558.3V882.9H1559.3V890.0H1560.3V890.4H1561.3V893.6H1562.3V894.6H1563.3V890.0H1564.3V895.9H1565.3V881.5H1566.3V884.9H1567.3V883.8H1568.3V884.6H1569.3V887.0H1570.3V879.5H1571.3V889.2H1572.3V886.4H1573.3V880.9H1574.3V880.8H1575.3V872.7H1576.3V864.1H1577.3V875.6H1578.3V876.9H1579.3V875.6H1580.3V867.9H1581.3V870.4H1582.3V881.1H1583.3V874.8H1584.3V873.3H1585.3V867.6H1586.3V872.2H1587.3V874.3H1588.3V870.6H1589.3V863.5H1590.3V866.3H1591.3V859.2H1592.3V861.4H1593.3V865.4H1594.3V858.5H1595.3V859.3H1596.3V867.6H1597.3V858.1H1598.3V862.5H1599.3V855.9H1600.3V850.6H1601.3V856.2H1602.3V853.6H1603.3V843.8H1604.3V847.7H1605.3V851.6H1606.3V861.7H1607.3V849.8H1608.3V852.4H1609.3V855.8H1610.3V853.6H1611.3V849.8H1612.3V860.9H1613.3V858.6H1614.3V837.1H1615.3V855.9H1616.3V853.3H1617.3V855.5H1618.3V850.2H1619.3V854.1H1620.3V860.1H1621.3V858.6H1622.3V858.8H1623.3V854.4H1624.3V853.5H1625.3V853.4H1626.3V841.5H1627.3V860.6H1628.3V848.9H1629.3V849.2H1630.3V847.9H1631.3V849.8H1632.3V834.9H1633.3V848.2H1634.3V839.6H1635.3V841.2H1636.3V836.2H1637.3V837.0H1638.3V850.2H1639.3V844.1H1640.3V846.4H1641.3V846.1H1642.3V840.6H1643.3V843.4H1644.3V840.5H1645.3V846.1H1646.3V835.5H1647.3V846.2H1648.3V853.9H1649.3V855.9H1650.3V855.8H1651.3V852.5H1652.3V844.4H1653.3V855.5H1654.3V853.7H1655.3V852.7H1656.3V844.8H1657.3V854.2H1658.3V860.3H1659.3V857.0H1660.3V852.0H1661.3V856.7H1662.3V854.1H1663.3V855.4H1664.3V859.6H1665.3V857.2H1666.3V856.1H1667.3V858.3H1668.3V852.1H1669.3V851.7H1670.3V860.3H1671.3V855.0H1672.3V861.8H1673.3V849.3H1674.3V866.5H1675.3V860.0H1676.3V870.2H1677.3V848.4H1678.3V853.3H1679.3V870.7H1680.3V864.6H1681.3V866.1H1682.3V865.8H1683.3V866.6H1684.3V869.3H1685.3V861.7H1686.3V866.9H1687.3V875.3H1688.3V870.1H1689.3V866.5H1690.3V871.0H1691.3V876.6H1692.3V870.7H1693.3V871.5H1694.3V875.6H1695.3V878.2H1696.3V882.1H1697.3V874.4H1698.3V877.6H1699.3V881.8H1700.3V867.5H1701.3V878.6H1702.3V881.0H1703.3V878.9H1704.3V875.7H1705.3V883.7H1706.3V887.7H1707.3V881.8H1708.3V880.5H1709.3V882.6H1710.3V892.1H1711.3V891.3H1712.3V886.0H1713.3V881.1H1714.3V881.0H1715.3V886.4H1716.3V887.1H1717.3V890.7H1718.3V884.6H1719.3V890.2H1720.3V894.0H1721.3V884.0H1722.3V903.9H1723.3V896.3H1724.3V896.8H1725.3V888.8H1726.3V890.8H1727.3V901.3H1728.3V901.3H1729.3V886.4H1730.3V904.0H1731.3V902.7H1732.3V902.9H1733.3V895.5H1734.3V902.6H1735.3V899.3H1736.3V905.4H1737.3V911.9H1738.3V907.1H1739.3V909.4H1740.3V904.0H1741.3V901.4H1742.3V906.8H1743.3V912.1H1744.3V914.6H1745.3V908.4H1746.3V910.4H1747.3V908.1H1748.3V902.8H1749.3V911.5H1750.3V913.2H1751.3V910.4H1752.3V912.1H1753.3V905.5H1754.3V914.3H1755.3V920.7H1756.3V915.1H1757.3V918.4H1758.3V918.3H1759.3V913.6H1760.3V918.4H1761.3V914.5H1762.3V931.2H1763.3V920.0H1764.3V915.0H1765.3V913.6H1766.3V927.1H1767.3V923.9H1768.3V923.5H1769.3V916.6H1770.3V920.5H1771.3V918.3H1772.3V928.6H1773.3V922.3H1774.3V933.1H1775.3V927.7H1776.3V924.7H1777.3V932.2H1778.3V918.4H1779.3V924.2H1780.3V926.4H1781.3V933.0H1782.3V933.5H1783.3V931.1H1784.3V922.8H1785.3V928.4H1786.3V926.6H1787.3V936.6H1788.3V930.3H1789.3V934.9H1790.3V940.5H1791.3V933.2H1792.3V936.8H1793.3V933.0H1794.3V935.2H1795.3V935.6H1796.3V936.0H1797.3V936.7H1798.3V935.4H1799.3V944.8H1800.3V935.4H1801.3V939.4H1802.3V937.8H1803.3V930.6H1804.3V943.7H1805.3V941.3H1806.3V935.6H1807.3V938.6H1808.3V935.8H1809.3V943.6H1810.3V949.0H1811.3V948.2H1812.3V939.1H1813.3V938.0H1814.3V947.1H1815.3V951.9H1816.3V946.3H1817.3V950.6H1818.3V941.9H1819.3V947.2H1820.3V949.8H1821.3V947.1H1822.3V948.3H1823.3V952.2H1824.3V947.8H1825.3V947.0H1826.3V953.9H1827.3V952.5H1828.3V948.4H1829.3V954.1H1830.3V951.0H1831.3V955.8H1832.3V953.9H1833.3V953.3H1834.3V952.0H1835.3V956.0H1836.3V955.5H1837.3V962.9H1838.3V956.4H1839.3V952.2H1840.3V964.8H1841.3V950.7H1842.3V964.2H1843.3V955.7H1844.3V964.1H1845.3V959.0H1846.3V961.9H1847.3V960.6H1848.3V960.5H1849.3V963.1H1850.3V959.5H1851.3V963.7H1852.3V958.8H1853.3V960.4H1854.3V961.5H1855.3V963.3H1856.3V968.1H1857.3V961.5H1858.3V961.8H1859.3V961.3H1860.3V964.0H1861.3V967.6H1862.3V963.5H1863.3V965.4H1864.3V964.7H1865.3V967.3H1866.3V960.5H1867.3V969.6H1868.3V970.9H1869.3V965.4H1870.3V968.2H1871.3V965.7H1872.3V972.3H1873.3V971.3H1874.3V979.0H1875.3V969.0H1876.3V967.1H1877.3V968.7H1878.3V966.4H1879.3V971.4H1880.3V972.0H1881.3V974.2H1882.3V972.8H1883.3V970.3H1884.3V976.1H1885.3V974.0H1886.3V975.1H1887.3V968.8H1888.3V970.1H1889.3V971.0H1890.3V972.0H1891.3V966.5H1892.3V977.6H1893.3V973.3H1894.3V976.9H1895.3V976.9H1896.3V979.4H1897.3V976.7H1898.3V976.3H1899.3V973.0H1900.3V975.9H1901.3V981.3H1902.3V970.4H1903.3V974.0H1904.3V977.3H1905.3V981.7H1906.3V973.4H1907.3V975.7H1908.3V977.8H1909.3V987.3H1910.3V975.0H1911.3V977.4H1912.3V980.5H1913.3V976.1H1914.3V979.7H1915.3V980.0H1916.3V977.8H1917.3V980.2H1918.3V984.7H1919.3V979.9H1920.3V978.4H1921.3V977.6H1922.3V980.8H1923.3V983.5H1924.3V980.9H1925.3V981.6H1926.3V989.0H1927.3V978.6H1928.3V977.8H1929.3V982.1H1930.3V980.8H1931.3V983.4H1932.3V985.6H1933.3V983.0H1934.3V981.5H1935.3V983.8H1936.3V983.9H1937.3V982.3H1938.3V981.0H1939.3V984.9H1940.3V982.4H1941.3V979.7H1942.3V985.4H1943.3V981.9H1944.3V981.9H1945.3V985.7H1946.3V981.5H1947.3V983.5H1948.3V981.2H1949.3V979.7H1950.3V985.3H1951.3V989.2H1952.3V982.1H1953.3V988.3H1954.3V988.2H1955.3V989.6H1956.3V982.1H1957.3V983.5H1958.3V990.5H1959.3V985.6H1960.3V985.9H1961.3V988.2H1962.3V988.1H1963.3V984.8H1964.3V986.0H1965.3V988.7H1966.3V987.8H1967.3V985.0H1968.3V991.1H1969.3V990.0H1970.3V986.7H1971.3V986.2H1972.3V990.7H1973.3V981.1H1974.3V988.7H1975.3V986.8H1976.3V986.7H1977.3V991.4H1978.3V989.9H1979.3V998.1H1980.3V988.7H1981.3V990.5H1982.3V985.5H1983.3V992.6H1984.3V988.1H1985.3V990.6H1986.3V993.8H1987.3V993.6H1988.3V991.7H1989.3V994.0H1990.3V989.1H1991.3V987.8H1992.3V986.2H1993.3V992.2H1994.3V996.4H1995.3V989.8H1996.3V990.9H1997.3V990.0H1998.3V992.4H1999.3V985.8H2000.3V993.6H2001.3V994.3H2002.3V989.3H2003.3V988.4H2004.3V988.8H2005.3V993.0H2006.3V995.6H2007.3V988.7H2008.3V987.2H2009.3V991.9H2010.3V992.4H2011.3V993.8H2012.3V989.8H2013.3V993.9H2014.3V995.0H2015.3V987.3H2016.3V991.1H2017.3V993.8H2018.3V994.2H2019.3V990.5H2020.3V986.6H2021.3V990.0H2022.3V988.2H2023.3V990.8H2024.3V995.2H2025.3V990.5H2026.3V992.6H2027.3V989.0H2028.3V995.1H2029.3V990.7H2030.3V989.5H2031.3V997.8H2032.3V993.5H2033.3V994.6H2034.3V987.0H2035.3V996.7H2036.3V997.6H2037.3V992.4H2038.3V991.9H2039.3V991.2H2040.3V995.9H2041.3V988.5H2042.3V993.9H2043.3V998.6H2044.3V993.4H2045.3V998.6H2046.3V993.1H2047.3V992.2H2048.3V995.7H2049.3V992.9H2050.3V993.5H2051.3V992.1H2052.3V989.8H2053.3V992.4H2054.3V995.3H2055.3V996.4H2056.3V993.2H2057.3V994.3H2058.3V990.8H2059.3V993.0H2060.3V993.1H2061.3V993.2H2062.3V993.8H2063.3V994.6H2064.3V997.1H2065.3V995.9H2066.3V995.2H2067.3V990.3H2068.3V991.5H2069.3V994.0H2070.3V994.2H2071.3V996.0H2072.3V989.0H2073.3V994.5H2074.3V994.4H2075.3V993.1H2076.3V991.8H2077.3V994.7H2078.3V993.7H2079.3V995.5H2080.3V988.6H2081.3V991.7H2082.3V998.5H2083.3V994.9H2084.3V992.1H2085.3V993.4H2086.3V990.7H2087.3V998.4H2088.3V998.4H2089.3V996.9H2090.3V997.8H2091.3V995.8H2092.3V998.2H2093.3V996.3H2094.3V998.5H2095.3V994.5H2096.3V994.4H2097.3V993.1H2098.3V993.3H2099.3V990.3H2100.3V998.4H2101.3V998.6H2102.3V996.8H2103.3V997.5H2104.3V995.4H2105.3V996.1H2106.3V991.0H2107.3V994.6H2108.3V989.7H2109.3V992.9H2110.3V994.0H2111.3V993.9H2112.3V991.8H2113.3V998.3H2114.3V997.5H2115.3V993.3H2116.3V991.4H2117.3V993.4H2118.3V997.4H2119.3V989.5H2120.3V997.0H2121.3V994.4H2122.3V993.7H2123.3V997.6H2124.3V994.8H2125.3V993.8H2126.3V998.2H2127.3V990.4H2128.3V999.2H2129.3V992.4H2130.3V992.4H2131.3V999.2H2132.3V1004.0H2133.3V998.2H2134.3V992.4H2135.3V988.7H2136.3V995.4H2137.3V994.8H2138.3V993.2H2139.3V994.4H2140.3V992.9H2141.3V997.1H2142.3V994.5H2143.3V994.2H2144.3V988.7H2145.3V995.5H2146.3V990.7H2147.3V996.8H2148.3V994.7H2149.3V989.1H2150.3V993.8H2151.3V991.4H2152.3V996.3H2153.3V996.0H2154.3V997.7H2155.3V992.6H2156.3V996.1H2157.3V990.9H2158.3V995.6H2159.3V994.1H2160.3V995.4H2161.3V994.7H2162.3V997.6H2163.3V993.8H2164.3V994.2H2165.3V998.6H2166.3V994.5H2167.3V993.2H2168.3V992.2H2169.3V994.8H2170.3V994.6H2171.3V996.5H2172.3V994.2H2173.3V996.6H2174.3V994.0H2175.3V999.1H2176.3V994.6H2177.3V996.6H2178.3V995.8H2179.3V991.1H2180.3V997.6H2181.3V993.5H2182.3V997.3H2183.3V989.2H2184.3V989.6H2185.3V989.2H2186.3V989.7H2187.3V993.6H2188.3V994.6H2189.3V991.9H2190.3V993.7H2191.3V992.8H2192.3V996.7H2193.3V996.6H2194.3V995.5H2195.3V996.4H2196.3V999.4H2197.3V996.4H2198.3V990.4H2199.3V994.1H2200.3V993.8H2201.3V996.9H2202.3V996.0H2203.3V997.0H2204.3V990.4H2205.3V998.5H2206.3V994.2H2207.3V997.3H2208.3V996.0H2209.3V992.2H2210.3V992.4H2211.3V996.3H2212.3V997.8H2213.3V992.1H2214.3V991.4H2215.3V988.9H2216.3V992.0H2217.3V992.5H2218.3V993.7H2219.3V996.2H2220.3V993.2H2221.3V991.4H2222.3V993.5H2223.3V994.3H2224.3V994.9H2225.3V994.9H2226.3V994.0H2227.3V996.0H2228.3V993.7H2229.3V991.6H2230.3V994.0H2231.3V999.6H2232.3V992.2H2233.3V1001.3H2234.3V993.1H2235.3V996.5H2236.3V990.0H2237.3V994.2H2238.3V998.5H2239.3V991.3H2240.3V992.5H2241.3V995.4H2242.3V995.5H2243.3V990.4H2244.3V991.0H2245.3V995.3H2246.3V995.3H2247.3V996.5H2248.3V994.0H2249.3V996.2H2250.3V997.8H2251.3V991.1H2252.3V997.3H2253.3V996.6H2254.3V998.0H2255.3V993.4H2256.3V994.4H2257.3V994.7H2258.3V993.2H2259.3V997.3H2260.3V995.1H2261.3V991.8H2262.3V995.2H2263.3V991.6H2264.3V990.2H2265.3V991.7H2266.3V994.6H2267.3V994.8H2268.3V994.2H2269.3V996.0H2270.3V999.8H2271.3V991.4H2272.3V995.7H2273.3V995.3H2274.3V991.2H2275.3V993.1H2276.3V995.1H2277.3V994.6H2278.3V992.2H2279.3V996.6H2280.3V995.2H2281.3V996.3H2282.3V998.9H2283.3V991.0"/>
<path stroke="#ff0000" d="M1206.3,754.2H1207.3V761.0H1208.3V766.3H1209.3V774.9H1210.3V788.9H1211.3V780.4H1212.3V794.9H1213.3V799.1H1214.3V794.6H1215.3V795.1H1216.3V801.7H1217.3V806.4H1218.3V811.6H1219.3V808.2H1220.3V812.3H1221.3V805.7H1222.3V805.2H1223.3V803.0H1224.3V805.9H1225.3V809.4H1226.3V811.8H1227.3V806.3H1228.3V814.2H1229.3V810.8H1230.3V808.8H1231.3V808.3H1232.3V818.7H1233.3V811.8H1234.3V807.8H1235.3V807.6H1236.3V818.1H1237.3V809.0H1238.3V815.6H1239.3V816.5H1240.3V802.5H1241.3V816.2H1242.3V810.4H1243.3V806.9H1244.3V808.8H1245.3V812.6H1246.3V811.6H1247.3V811.4H1248.3V806.6H1249.3V813.7H1250.3V814.1H1251.3V814.8H1252.3V811.0H1253.3V813.9H1254.3V814.0H1255.3V808.0H1256.3V808.1H1257.3V806.2H1258.3V805.5H1259.3V806.0H1260.3V795.3H1261.3V800.0H1262.3V802.6H1263.3V791.7H1264.3V793.8H1265.3V805.2H1266.3V794.2H1267.3V796.1H1268.3V799.0H1269.3V795.2H1270.3V793.2H1271.3V794.2H1272.3V794.2H1273.3V793.2H1274.3V796.0H1275.3V801.4H1276.3V796.0H1277.3V800.8H1278.3V796.9H1279.3V796.9H1280.3V795.6H1281.3V791.6H1282.3V794.3H1283.3V793.5H1284.3V787.3H1285.3V794.7H1286.3V793.7H1287.3V792.5H1288.3V788.4H1289.3V779.5H1290.3V796.2H1291.3V789.5H1292.3V780.4H1293.3V791.9H1294.3V785.9H1295.3V791.4H1296.3V787.8H1297.3V792.7H1298.3V788.6H1299.3V788.5H1300.3V787.6H1301.3V791.8H1302.3V780.8H1303.3V791.0H1304.3V788.5H1305.3V782.9H1306.3V784.9H1307.3V782.6H1308.3V784.4H1309.3V787.8H1310.3V780.5H1311.3V786.2H1312.3V786.6H1313.3V784.9H1314.3V788.5H1315.3V781.0H1316.3V783.9H1317.3V791.3H1318.3V780.2H1319.3V779.1H1320.3V779.3H1321.3V781.4H1322.3V775.7H1323.3V776.8H1324.3V769.7H1325.3V772.4H1326.3V772.1H1327.3V771.0H1328.3V773.7H1329.3V778.3H1330.3V773.0H1331.3V768.3H1332.3V774.9H1333.3V774.1H1334.3V766.5H1335.3V773.0H1336.3V767.0H1337.3V768.5H1338.3V767.5H1339.3V774.1H1340.3V766.1H1341.3V767.9H1342.3V769.7H1343.3V773.1H1344.3V773.3H1345.3V762.6H1346.3V772.2H1347.3V767.6H1348.3V771.3H1349.3V770.1H1350.3V762.2H1351.3V764.3H1352.3V762.2H1353.3V764.7H1354.3V770.2H1355.3V762.0H1356.3V758.0H1357.3V772.5H1358.3V755.1H1359.3V759.2H1360.3V758.5H1361.3V751.8H1362.3V761.1H1363.3V761.7H1364.3V755.5H1365.3V755.5H1366.3V753.8H1367.3V745.3H1368.3V754.5H1369.3V746.5H1370.3V747.2H1371.3V753.2H1372.3V755.2H1373.3V745.7H1374.3V755.0H1375.3V757.6H1376.3V749.0H1377.3V747.2H1378.3V748.0H1379.3V744.4H1380.3V741.5H1381.3V748.6H1382.3V748.4H1383.3V741.7H1384.3V741.7H1385.3V740.0H1386.3V739.1H1387.3V737.3H1388.3V734.0H1389.3V745.9H1390.3V738.9H1391.3V740.6H1392.3V749.0H1393.3V736.8H1394.3V741.8H1395.3V731.3H1396.3V734.6H1397.3V740.9H1398.3V735.5H1399.3V728.9H1400.3V727.8H1401.3V737.1H1402.3V730.0H1403.3V737.9H1404.3V735.3H1405.3V731.7H1406.3V732.5H1407.3V736.4H1408.3V732.1H1409.3V726.4H1410.3V732.7H1411.3V728.6H1412.3V728.7H1413.3V732.5H1414.3V730.7H1415.3V733.9H1416.3V726.9H1417.3V725.0H1418.3V725.1H1419.3V728.4H1420.3V721.5H1421.3V723.3H1422.3V720.2H1423.3V720.0H1424.3V722.7H1425.3V736.2H1426.3V720.5H1427.3V723.3H1428.3V721.8H1429.3V719.6H1430.3V719.9H1431.3V729.4H1432.3V716.1H1433.3V725.0H1434.3V718.3H1435.3V708.4H1436.3V708.1H1437.3V707.7H1438.3V702.8H1439.3V714.2H1440.3V709.0H1441.3V708.8H1442.3V699.0H1443.3V706.7H1444.3V700.2H1445.3V716.5H1446.3V701.2H1447.3V702.7H1448.3V702.7H1449.3V696.8H1450.3V696.5H1451.3V695.7H1452.3V702.3H1453.3V692.3H1454.3V694.9H1455.3V697.0H1456.3V691.9H1457.3V685.4H1458.3V685.5H1459.3V689.2H1460.3V684.9H1461.3V695.3H1462.3V688.4H1463.3V686.9H1464.3V679.7H1465.3V687.7H1466.3V681.0H1467.3V676.1H1468.3V676.8H1469.3V694.4H1470.3V674.8H1471.3V672.1H1472.3V683.6H1473.3V680.1H1474.3V672.6H1475.3V682.1H1476.3V663.1H1477.3V668.3H1478.3V659.8H1479.3V677.8H1480.3V668.1H1481.3V683.1H1482.3V668.0H1483.3V666.7H1484.3V654.9H1485.3V653.1H1486.3V656.3H1487.3V664.3H1488.3V650.5H1489.3V640.7H1490.3V661.4H1491.3V661.2H1492.3V648.4H1493.3V656.9H1494.3V661.0H1495.3V660.8H1496.3V642.0H1497.3V652.4H1498.3V646.3H1499.3V657.4H1500.3V650.9H1501.3V641.6H1502.3V649.9H1503.3V652.6H1504.3V637.5H1505.3V638.2H1506.3V642.2H1507.3V644.1H1508.3V641.7H1509.3V632.5H1510.3V633.7H1511.3V643.5H1512.3V646.0H1513.3V636.4H1514.3V643.1H1515.3V654.4H1516.3V639.3H1517.3V637.1H1518.3V634.7H1519.3V642.4H1520.3V640.2H1521.3V639.9H1522.3V635.1H1523.3V640.2H1524.3V639.8H1525.3V635.4H1526.3V644.1H1527.3V624.4H1528.3V640.0H1529.3V633.5H1530.3V639.7H1531.3V646.6H1532.3V632.7H1533.3V630.2H1534.3V630.7H1535.3V640.1H1536.3V640.5H1537.3V630.0H1538.3V632.8H1539.3V640.7H1540.3V631.1H1541.3V615.9H1542.3V620.5H1543.3V622.6H1544.3V628.7H1545.3V621.4H1546.3V635.3H1547.3V621.3H1548.3V635.9H1549.3V619.0H1550.3V633.2H1551.3V624.1H1552.3V632.5H1553.3V635.8H1554.3V633.5H1555.3V627.5H1556.3V613.4H1557.3V612.2H1558.3V593.8H1559.3V628.1H1560.3V626.1H1561.3V623.8H1562.3V607.0H1563.3V636.0H1564.3V609.6H1565.3V620.8H1566.3V601.5H1567.3V608.6H1568.3V622.2H1569.3V620.2H1570.3V603.5H1571.3V610.5H1572.3V619.2H1573.3V595.9H1574.3V615.3H1575.3V596.9H1576.3V613.1H1577.3V605.5H1578.3V614.5H1579.3V602.2H1580.3V602.7H1581.3V601.9H1582.3V596.4H1583.3V600.9H1584.3V594.4H1585.3V597.1H1586.3V606.1H1587.3V597.4H1588.3V607.6H1589.3V604.0H1590.3V604.2H1591.3V587.7H1592.3V599.3H1593.3V606.7H1594.3V601.6H1595.3V603.3H1596.3V604.8H1597.3V579.4H1598.3V595.3H1599.3V594.2H1600.3V587.2H1601.3V577.1H1602.3V588.1H1603.3V584.7H1604.3V601.1H1605.3V594.9H1606.3V579.9H1607.3V573.7H1608.3V574.5H1609.3V580.3H1610.3V574.0H1611.3V595.7H1612.3V568.7H1613.3V577.2H1614.3V578.6H1615.3V580.4H1616.3V568.7H1617.3V574.1H1618.3V577.2H1619.3V578.1H1620.3V570.0H1621.3V572.0H1622.3V576.1H1623.3V590.0H1624.3V563.4H1625.3V579.1H1626.3V586.2H1627.3V560.8H1628.3V584.5H1629.3V583.9H1630.3V572.3H1631.3V579.7H1632.3V583.9H1633.3V569.8H1634.3V572.9H1635.3V561.7H1636.3V564.7H1637.3V571.1H1638.3V569.6H1639.3V584.0H1640.3V568.3H1641.3V559.9H1642.3V577.7H1643.3V578.0H1644.3V573.6H1645.3V569.2H1646.3V564.0H1647.3V565.5H1648.3V584.4H1649.3V578.7H1650.3V573.5H1651.3V576.9H1652.3V571.2H1653.3V567.1H1654.3V571.8H1655.3V576.2H1656.3V563.9H1657.3V566.5H1658.3V565.1H1659.3V576.8H1660.3V586.6H1661.3V571.5H1662.3V574.1H1663.3V571.3H1664.3V581.7H1665.3V576.8H1666.3V579.3H1667.3V579.5H1668.3V607.7H1669.3V589.6H1670.3V586.0H1671.3V588.6H1672.3V600.2H1673.3V602.0H1674.3V597.4H1675.3V580.6H1676.3V605.1H1677.3V606.9H1678.3V605.6H1679.3V604.3H1680.3V602.3H1681.3V612.2H1682.3V601.6H1683.3V613.2H1684.3V602.5H1685.3V604.4H1686.3V605.1H1687.3V605.4H1688.3V607.1H1689.3V617.8H1690.3V625.1H1691.3V609.0H1692.3V607.6H1693.3V626.1H1694.3V615.3H1695.3V621.0H1696.3V621.2H1697.3V628.0H1698.3V615.8H1699.3V632.0H1700.3V630.5H1701.3V609.4H1702.3V625.6H1703.3V625.1H1704.3V631.8H1705.3V629.6H1706.3V625.7H1707.3V629.8H1708.3V636.0H1709.3V634.9H1710.3V634.7H1711.3V652.8H1712.3V641.9H1713.3V631.4H1714.3V641.5H1715.3V644.2H1716.3V636.2H1717.3V645.3H1718.3V640.0H1719.3V631.7H1720.3V651.0H1721.3V654.4H1722.3V655.8H1723.3V652.2H1724.3V650.9H1725.3V658.3H1726.3V661.5H1727.3V666.7H1728.3V671.4H1729.3V669.8H1730.3V662.7H1731.3V668.2H1732.3V661.4H1733.3V677.2H1734.3V678.2H1735.3V684.0H1736.3V681.3H1737.3V689.9H1738.3V677.3H1739.3V685.3H1740.3V683.1H1741.3V684.6H1742.3V676.4H1743.3V684.0H1744.3V677.7H1745.3V689.1H1746.3V688.0H1747.3V694.2H1748.3V683.6H1749.3V692.6H1750.3V695.2H1751.3V684.1H1752.3V708.5H1753.3V702.7H1754.3V696.4H1755.3V713.0H1756.3V710.9H1757.3V689.6H1758.3V703.3H1759.3V702.4H1760.3V707.2H1761.3V702.5H1762.3V707.5H1763.3V710.4H1764.3V696.8H1765.3V712.7H1766.3V721.0H1767.3V714.8H1768.3V721.6H1769.3V725.1H1770.3V719.0H1771.3V720.6H1772.3V721.8H1773.3V718.4H1774.3V734.3H1775.3V725.5H1776.3V727.2H1777.3V730.5H1778.3V734.5H1779.3V720.4H1780.3V723.4H1781.3V730.8H1782.3V733.9H1783.3V725.9H1784.3V726.3H1785.3V738.6H1786.3V739.5H1787.3V735.4H1788.3V736.5H1789.3V735.8H1790.3V734.2H1791.3V736.8H1792.3V743.2H1793.3V742.5H1794.3V749.3H1795.3V738.9H1796.3V738.1H1797.3V750.4H1798.3V743.9H1799.3V748.0H1800.3V750.6H1801.3V745.3H1802.3V744.8H1803.3V754.5H1804.3V741.0H1805.3V758.0H1806.3V747.3H1807.3V760.6H1808.3V759.1H1809.3V759.5H1810.3V761.6H1811.3V760.8H1812.3V754.5H1813.3V765.6H1814.3V763.2H1815.3V765.5H1816.3V763.6H1817.3V763.8H1818.3V770.0H1819.3V770.9H1820.3V768.4H1821.3V762.6H1822.3V764.6H1823.3V765.1H1824.3V775.5H1825.3V773.5H1826.3V772.3H1827.3V772.1H1828.3V770.2H1829.3V777.9H1830.3V770.5H1831.3V772.1H1832.3V780.3H1833.3V780.1H1834.3V777.8H1835.3V773.4H1836.3V774.2H1837.3V784.1H1838.3V782.8H1839.3V788.3H1840.3V780.7H1841.3V783.1H1842.3V780.2H1843.3V792.0H1844.3V778.6H1845.3V789.1H1846.3V794.0H1847.3V783.9H1848.3V782.7H1849.3V785.2H1850.3V784.2H1851.3V792.2H1852.3V791.1H1853.3V788.4H1854.3V791.7H1855.3V799.7H1856.3V793.2H1857.3V793.2H1858.3V803.3H1859.3V792.6H1860.3V794.9H1861.3V803.3H1862.3V798.1H1863.3V791.0H1864.3V795.7H1865.3V790.8H1866.3V797.7H1867.3V802.1H1868.3V794.9H1869.3V807.9H1870.3V807.4H1871.3V806.1H1872.3V800.7H1873.3V804.2H1874.3V806.7H1875.3V808.8H1876.3V810.5H1877.3V797.9H1878.3V803.9H1879.3V802.7H1880.3V806.4H1881.3V808.9H1882.3V817.3H1883.3V808.7H1884.3V813.0H1885.3V810.5H1886.3V810.4H1887.3V817.5H1888.3V807.3H1889.3V814.4H1890.3V820.0H1891.3V825.5H1892.3V811.3H1893.3V810.2H1894.3V809.4H1895.3V813.0H1896.3V814.9H1897.3V815.3H1898.3V819.8H1899.3V814.9H1900.3V817.6H1901.3V810.8H1902.3V814.8H1903.3V817.0H1904.3V809.4H1905.3V818.8H1906.3V821.9H1907.3V819.4H1908.3V820.2H1909.3V819.8H1910.3V815.9H1911.3V820.7H1912.3V818.9H1913.3V821.5H1914.3V821.8H1915.3V822.3H1916.3V817.6H1917.3V822.3H1918.3V829.0H1919.3V826.5H1920.3V822.7H1921.3V821.3H1922.3V827.6H1923.3V824.4H1924.3V818.5H1925.3V823.4H1926.3V831.1H1927.3V819.7H1928.3V826.0H1929.3V823.5H1930.3V826.1H1931.3V825.2H1932.3V823.9H1933.3V818.3H1934.3V826.7H1935.3V827.8H1936.3V827.4H1937.3V824.5H1938.3V826.3H1939.3V836.2H1940.3V825.1H1941.3V828.0H1942.3V825.1H1943.3V828.9H1944.3V830.7H1945.3V834.2H1946.3V831.1H1947.3V830.6H1948.3V832.0H1949.3V832.9H1950.3V831.2H1951.3V831.4H1952.3V835.8H1953.3V829.6H1954.3V831.9H1955.3V829.4H1956.3V830.9H1957.3V837.8H1958.3V830.7H1959.3V835.0H1960.3V840.5H1961.3V835.5H1962.3V833.4H1963.3V831.6H1964.3V826.0H1965.3V831.5H1966.3V831.8H1967.3V838.1H1968.3V837.5H1969.3V831.2H1970.3V837.7H1971.3V833.8H1972.3V842.0H1973.3V841.1H1974.3V838.7H1975.3V835.4H1976.3V842.7H1977.3V840.0H1978.3V841.1H1979.3V839.4H1980.3V837.0H1981.3V840.6H1982.3V835.6H1983.3V841.0H1984.3V839.2H1985.3V833.5H1986.3V840.5H1987.3V839.0H1988.3V838.0H1989.3V839.2H1990.3V842.1H1991.3V836.1H1992.3V836.5H1993.3V842.3H1994.3V840.8H1995.3V834.8H1996.3V840.8H1997.3V835.2H1998.3V842.9H1999.3V841.8H2000.3V842.5H2001.3V836.3H2002.3V838.8H2003.3V844.1H2004.3V837.1H2005.3V843.2H2006.3V841.1H2007.3V842.3H2008.3V839.4H2009.3V844.0H2010.3V843.5H2011.3V845.1H2012.3V850.3H2013.3V842.0H2014.3V843.1H2015.3V839.7H2016.3V848.6H2017.3V842.2H2018.3V845.8H2019.3V840.0H2020.3V842.9H2021.3V845.7H2022.3V845.5H2023.3V843.3H2024.3V847.0H2025.3V844.8H2026.3V847.8H2027.3V843.9H2028.3V846.8H2029.3V843.5H2030.3V849.0H2031.3V845.2H2032.3V845.5H2033.3V843.7H2034.3V848.6H2035.3V846.1H2036.3V845.1H2037.3V849.9H2038.3V843.6H2039.3V849.1H2040.3V850.7H2041.3V841.0H2042.3V849.1H2043.3V848.1H2044.3V847.1H2045.3V847.7H2046.3V843.0H2047.3V848.3H2048.3V847.6H2049.3V842.5H2050.3V846.5H2051.3V843.5H2052.3V847.5H2053.3V844.7H2054.3V847.8H2055.3V843.2H2056.3V846.0H2057.3V846.4H2058.3V847.1H2059.3V851.3H2060.3V854.5H2061.3V843.5H2062.3V850.6H2063.3V847.4H2064.3V847.4H2065.3V847.5H2066.3V848.0H2067.3V848.3H2068.3V851.2H2069.3V852.6H2070.3V849.9H2071.3V849.1H2072.3V850.8H2073.3V850.4H2074.3V854.6H2075.3V846.5H2076.3V845.3H2077.3V848.7H2078.3V850.4H2079.3V848.9H2080.3V850.3H2081.3V842.1H2082.3V847.5H2083.3V847.9H2084.3V845.9H2085.3V848.1H2086.3V849.3H2087.3V851.1H2088.3V847.4H2089.3V845.3H2090.3V851.3H2091.3V855.8H2092.3V850.7H2093.3V850.7H2094.3V847.5H2095.3V851.1H2096.3V855.1H2097.3V844.9H2098.3V853.6H2099.3V845.1H2100.3V855.1H2101.3V853.3H2102.3V850.1H2103.3V851.8H2104.3V855.9H2105.3V848.1H2106.3V854.6H2107.3V853.0H2108.3V851.3H2109.3V855.6H2110.3V846.7H2111.3V851.1H2112.3V848.1H2113.3V851.4H2114.3V853.2H2115.3V847.0H2116.3V852.5H2117.3V852.5H2118.3V850.1H2119.3V851.6H2120.3V855.0H2121.3V852.8H2122.3V856.6H2123.3V848.9H2124.3V848.4H2125.3V855.4H2126.3V848.2H2127.3V855.5H2128.3V852.0H2129.3V854.0H2130.3V851.2H2131.3V855.2H2132.3V856.0H2133.3V855.7H2134.3V853.7H2135.3V848.5H2136.3V855.1H2137.3V852.7H2138.3V856.2H2139.3V848.1H2140.3V853.7H2141.3V851.2H2142.3V852.4H2143.3V855.1H2144.3V854.9H2145.3V856.7H2146.3V854.0H2147.3V854.2H2148.3V853.6H2149.3V849.5H2150.3V855.8H2151.3V850.5H2152.3V851.3H2153.3V854.1H2154.3V850.9H2155.3V851.6H2156.3V845.8H2157.3V850.4H2158.3V849.7H2159.3V851.1H2160.3V854.4H2161.3V852.1H2162.3V852.6H2163.3V853.3H2164.3V855.9H2165.3V856.1H2166.3V854.3H2167.3V852.4H2168.3V855.6H2169.3V852.3H2170.3V852.7H2171.3V854.1H2172.3V851.9H2173.3V850.2H2174.3V849.8H2175.3V852.5H2176.3V854.0H2177.3V855.2H2178.3V851.2H2179.3V854.1H2180.3V853.6H2181.3V852.3H2182.3V860.7H2183.3V851.5H2184.3V851.3H2185.3V854.1H2186.3V858.1H2187.3V852.7H2188.3V857.5H2189.3V851.0H2190.3V852.7H2191.3V853.4H2192.3V853.2H2193.3V854.1H2194.3V853.7H2195.3V853.5H2196.3V851.3H2197.3V855.5H2198.3V854.3H2199.3V854.9H2200.3V857.5H2201.3V855.7H2202.3V855.0H2203.3V858.3H2204.3V853.1H2205.3V850.1H2206.3V852.8H2207.3V851.0H2208.3V853.8H2209.3V853.8H2210.3V854.3H2211.3V855.3H2212.3V856.3H2213.3V855.8H2214.3V855.0H2215.3V853.8H2216.3V853.3H2217.3V854.6H2218.3V853.9H2219.3V851.7H2220.3V853.5H2221.3V856.6H2222.3V854.9H2223.3V852.5H2224.3V855.4H2225.3V856.5H2226.3V851.9H2227.3V859.4H2228.3V858.0H2229.3V854.5H2230.3V858.0H2231.3V855.7H2232.3V856.8H2233.3V852.7H2234.3V853.8H2235.3V854.5H2236.3V854.9H2237.3V853.9H2238.3V851.0H2239.3V852.3H2240.3V856.5H2241.3V854.3H2242.3V859.9H2243.3V859.1H2244.3V854.9H2245.3V856.1H2246.3V850.6H2247.3V857.5H2248.3V858.6H2249.3V853.7H2250.3V853.7H2251.3V854.3H2252.3V857.8H2253.3V858.7H2254.3V853.4H2255.3V855.1H2256.3V857.6H2257.3V856.8H2258.3V855.5H2259.3V857.7H2260.3V854.0H2261.3V852.6H2262.3V858.2H2263.3V858.6H2264.3V860.2H2265.3V856.0H2266.3V854.7H2267.3V857.2H2268.3V856.9H2269.3V857.3H2270.3V857.0H2271.3V860.8H2272.3V858.2H2273.3V861.0H2274.3V855.7H2275.3V855.0H2276.3V860.1H2277.3V854.6H2278.3V854.9H2279.3V855.0H2280.3V853.2H2281.3V859.3H2282.3V862.6H2283.3V859.8"/>
<path stroke="#008000" d="M1206.3,633.7H1207.3V636.9H1208.3V640.3H1209.3V634.5H1210.3V651.2H1211.3V643.9H1212.3V660.8H1213.3V662.7H1214.3V666.4H1215.3V668.6H1216.3V668.4H1217.3V666.8H1218.3V669.6H1219.3V678.5H1220.3V671.8H1221.3V674.6H1222.3V673.9H1223.3V675.7H1224.3V677.2H1225.3V679.8H1226.3V677.8H1227.3V677.5H1228.3V676.4H1229.3V679.0H1230.3V673.4H1231.3V678.6H1232.3V683.3H1233.3V675.0H1234.3V677.6H1235.3V688.5H1236.3V673.4H1237.3V670.6H1238.3V675.0H1239.3V683.4H1240.3V684.0H1241.3V670.8H1242.3V677.5H1243.3V674.9H1244.3V672.2H1245.3V666.5H1246.3V677.9H1247.3V670.1H1248.3V674.3H1249.3V673.0H1250.3V679.8H1251.3V676.6H1252.3V666.7H1253.3V669.8H1254.3V674.6H1255.3V664.4H1256.3V667.7H1257.3V669.6H1258.3V661.5H1259.3V662.4H1260.3V659.8H1261.3V667.3H1262.3V663.1H1263.3V668.6H1264.3V664.5H1265.3V665.7H1266.3V662.2H1267.3V665.0H1268.3V660.6H1269.3V656.0H1270.3V664.2H1271.3V662.3H1272.3V666.8H1273.3V655.2H1274.3V652.1H1275.3V647.1H1276.3V635.3H1277.3V645.4H1278.3V652.3H1279.3V645.0H1280.3V636.1H1281.3V649.2H1282.3V642.5H1283.3V642.2H1284.3V640.6H1285.3V640.8H1286.3V642.5H1287.3V631.2H1288.3V637.4H1289.3V635.4H1290.3V642.7H1291.3V632.2H1292.3V644.7H1293.3V639.8H1294.3V644.5H1295.3V633.4H1296.3V640.5H1297.3V638.3H1298.3V629.5H1299.3V635.3H1300.3V634.4H1301.3V631.9H1302.3V632.8H1303.3V629.6H1304.3V634.2H1305.3V637.9H1306.3V632.6H1307.3V628.8H1308.3V641.1H1309.3V634.3H1310.3V636.1H1311.3V634.8H1312.3V633.2H1313.3V638.5H1314.3V632.9H1315.3V635.4H1316.3V628.1H1317.3V627.0H1318.3V632.6H1319.3V643.3H1320.3V634.8H1321.3V642.9H1322.3V635.5H1323.3V635.2H1324.3V629.8H1325.3V632.2H1326.3V640.6H1327.3V637.3H1328.3V628.2H1329.3V628.6H1330.3V637.0H1331.3V627.6H1332.3V634.2H1333.3V625.0H1334.3V632.1H1335.3V636.2H1336.3V632.5H1337.3V629.2H1338.3V628.4H1339.3V627.0H1340.3V627.0H1341.3V632.7H1342.3V632.3H1343.3V628.4H1344.3V619.9H1345.3V623.4H1346.3V627.2H1347.3V625.8H1348.3V618.7H1349.3V628.5H1350.3V637.9H1351.3V618.8H1352.3V625.1H1353.3V632.6H1354.3V622.4H1355.3V622.3H1356.3V625.1H1357.3V626.9H1358.3V621.9H1359.3V628.7H1360.3V614.2H1361.3V626.8H1362.3V625.3H1363.3V622.5H1364.3V625.1H1365.3V623.3H1366.3V629.6H1367.3V620.5H1368.3V622.5H1369.3V615.6H1370.3V616.8H1371.3V621.1H1372.3V614.3H1373.3V617.7H1374.3V615.2H1375.3V619.2H1376.3V622.1H1377.3V626.0H1378.3V611.4H1379.3V619.9H1380.3V625.0H1381.3V627.4H1382.3V627.3H1383.3V612.7H1384.3V617.0H1385.3V622.2H1386.3V623.8H1387.3V620.1H1388.3V619.7H1389.3V619.2H1390.3V613.8H1391.3V618.2H1392.3V621.2H1393.3V615.0H1394.3V622.4H1395.3V601.5H1396.3V614.2H1397.3V624.3H1398.3V619.8H1399.3V622.6H1400.3V615.7H1401.3V608.6H1402.3V611.9H1403.3V622.2H1404.3V604.7H1405.3V609.1H1406.3V605.0H1407.3V610.9H1408.3V611.3H1409.3V616.3H1410.3V608.8H1411.3V621.8H1412.3V616.0H1413.3V609.9H1414.3V606.9H1415.3V604.0H1416.3V612.0H1417.3V621.3H1418.3V609.6H1419.3V604.6H1420.3V609.1H1421.3V606.1H1422.3V603.4H1423.3V597.5H1424.3V606.5H1425.3V614.1H1426.3V612.0H1427.3V610.0H1428.3V605.2H1429.3V606.0H1430.3V608.2H1431.3V601.9H1432.3V603.1H1433.3V598.8H1434.3V606.6H1435.3V594.8H1436.3V603.0H1437.3V603.4H1438.3V602.8H1439.3V601.5H1440.3V594.5H1441.3V593.4H1442.3V593.7H1443.3V593.3H1444.3V588.5H1445.3V591.6H1446.3V589.9H1447.3V587.5H1448.3V594.1H1449.3V587.1H1450.3V592.0H1451.3V598.1H1452.3V598.4H1453.3V588.0H1454.3V592.7H1455.3V587.3H1456.3V598.6H1457.3V593.2H1458.3V589.1H1459.3V580.6H1460.3V579.0H1461.3V582.5H1462.3V578.1H1463.3V575.7H1464.3V580.3H1465.3V567.8H1466.3V562.3H1467.3V567.3H1468.3V565.5H1469.3V571.1H1470.3V565.5H1471.3V568.8H1472.3V556.8H1473.3V577.3H1474.3V569.9H1475.3V561.4H1476.3V567.9H1477.3V572.8H1478.3V569.6H1479.3V563.1H1480.3V566.7H1481.3V567.7H1482.3V553.9H1483.3V551.6H1484.3V556.2H1485.3V565.4H1486.3V567.8H1487.3V558.6H1488.3V566.6H1489.3V562.7H1490.3V555.2H1491.3V550.2H1492.3V550.1H1493.3V554.1H1494.3V561.9H1495.3V557.6H1496.3V543.1H1497.3V542.9H1498.3V555.5H1499.3V550.8H1500.3V542.7H1501.3V552.6H1502.3V556.5H1503.3V552.2H1504.3V547.0H1505.3V554.5H1506.3V542.5H1507.3V540.6H1508.3V537.8H1509.3V555.8H1510.3V556.8H1511.3V541.8H1512.3V545.4H1513.3V543.9H1514.3V546.5H1515.3V547.6H1516.3V543.5H1517.3V537.7H1518.3V534.1H1519.3V530.0H1520.3V518.4H1521.3V534.6H1522.3V528.8H1523.3V533.8H1524.3V532.0H1525.3V524.7H1526.3V527.4H1527.3V532.8H1528.3V530.2H1529.3V522.0H1530.3V521.9H1531.3V530.2H1532.3V527.0H1533.3V526.7H1534.3V522.5H1535.3V528.1H1536.3V522.8H1537.3V539.2H1538.3V517.4H1539.3V515.0H1540.3V531.1H1541.3V518.2H1542.3V512.5H1543.3V520.5H1544.3V500.3H1545.3V519.4H1546.3V515.7H1547.3V516.9H1548.3V508.6H1549.3V523.2H1550.3V515.4H1551.3V512.4H1552.3V514.5H1553.3V505.2H1554.3V509.7H1555.3V499.1H1556.3V501.4H1557.3V511.0H1558.3V509.1H1559.3V513.0H1560.3V502.1H1561.3V505.6H1562.3V500.7H1563.3V507.0H1564.3V510.3H1565.3V511.7H1566.3V507.4H1567.3V496.6H1568.3V503.4H1569.3V493.5H1570.3V486.2H1571.3V501.1H1572.3V499.7H1573.3V503.9H1574.3V503.8H1575.3V487.7H1576.3V489.4H1577.3V495.5H1578.3V495.3H1579.3V497.1H1580.3V483.4H1581.3V490.7H1582.3V496.8H1583.3V505.6H1584.3V480.9H1585.3V502.2H1586.3V486.9H1587.3V477.3H1588.3V497.9H1589.3V478.8H1590.3V477.3H1591.3V491.2H1592.3V493.0H1593.3V484.8H1594.3V478.0H1595.3V471.4H1596.3V483.1H1597.3V463.4H1598.3V469.6H1599.3V488.6H1600.3V484.5H1601.3V488.5H1602.3V481.5H1603.3V468.6H1604.3V480.7H1605.3V462.0H1606.3V481.2H1607.3V485.9H1608.3V466.5H1609.3V482.0H1610.3V473.5H1611.3V471.3H1612.3V456.2H1613.3V470.1H1614.3V477.8H1615.3V456.5H1616.3V465.8H1617.3V463.4H1618.3V455.3H1619.3V476.3H1620.3V467.4H1621.3V467.0H1622.3V474.1H1623.3V459.4H1624.3V491.5H1625.3V460.8H1626.3V454.5H1627.3V468.8H1628.3V466.3H1629.3V455.1H1630.3V455.2H1631.3V469.2H1632.3V464.5H1633.3V465.3H1634.3V468.7H1635.3V456.4H1636.3V471.5H1637.3V461.1H1638.3V466.6H1639.3V453.0H1640.3V466.6H1641.3V462.5H1642.3V480.6H1643.3V458.8H1644.3V472.6H1645.3V465.3H1646.3V473.1H1647.3V462.3H1648.3V464.6H1649.3V442.7H1650.3V450.9H1651.3V470.5H1652.3V465.9H1653.3V469.4H1654.3V461.6H1655.3V470.8H1656.3V462.3H1657.3V465.5H1658.3V476.7H1659.3V476.4H1660.3V465.1H1661.3V469.9H1662.3V472.3H1663.3V470.2H1664.3V471.5H1665.3V465.7H1666.3V478.7H1667.3V466.8H1668.3V468.3H1669.3V486.9H1670.3V492.1H1671.3V493.1H1672.3V482.4H1673.3V476.4H1674.3V487.4H1675.3V494.7H1676.3V484.6H1677.3V481.7H1678.3V473.1H1679.3V474.1H1680.3V501.5H1681.3V478.3H1682.3V485.6H1683.3V489.6H1684.3V495.0H1685.3V484.6H1686.3V499.9H1687.3V501.2H1688.3V498.6H1689.3V494.7H1690.3V497.9H1691.3V487.6H1692.3V507.7H1693.3V500.5H1694.3V495.6H1695.3V506.5H1696.3V511.6H1697.3V511.8H1698.3V515.0H1699.3V520.2H1700.3V509.3H1701.3V515.7H1702.3V517.5H1703.3V506.7H1704.3V526.0H1705.3V517.4H1706.3V522.7H1707.3V524.4H1708.3V518.0H1709.3V530.7H1710.3V533.1H1711.3V528.9H1712.3V509.2H1713.3V539.6H1714.3V530.6H1715.3V528.6H1716.3V530.3H1717.3V528.2H1718.3V534.3H1719.3V542.1H1720.3V531.9H1721.3V541.8H1722.3V537.6H1723.3V541.0H1724.3V541.5H1725.3V547.0H1726.3V552.7H1727.3V547.2H1728.3V554.2H1729.3V559.1H1730.3V541.3H1731.3V556.7H1732.3V550.9H1733.3V552.7H1734.3V561.1H1735.3V554.5H1736.3V553.1H1737.3V566.0H1738.3V565.7H1739.3V562.8H1740.3V578.8H1741.3V556.2H1742.3V553.3H1743.3V563.0H1744.3V558.3H1745.3V568.5H1746.3V563.6H1747.3V564.5H1748.3V569.2H1749.3V565.0H1750.3V559.4H1751.3V567.6H1752.3V577.0H1753.3V575.2H1754.3V580.2H1755.3V585.6H1756.3V581.7H1757.3V577.1H1758.3V574.0H1759.3V582.1H1760.3V589.7H1761.3V589.5H1762.3V587.6H1763.3V578.6H1764.3V587.5H1765.3V589.2H1766.3V593.2H1767.3V580.0H1768.3V584.3H1769.3V590.1H1770.3V591.1H1771.3V588.1H1772.3V595.4H1773.3V592.1H1774.3V601.1H1775.3V593.4H1776.3V598.4H1777.3V587.1H1778.3V600.8H1779.3V597.3H1780.3V606.0H1781.3V602.5H1782.3V611.2H1783.3V603.1H1784.3V599.5H1785.3V609.6H1786.3V612.6H1787.3V606.9H1788.3V605.3H1789.3V617.1H1790.3V619.8H1791.3V619.4H1792.3V617.2H1793.3V617.9H1794.3V627.3H1795.3V624.2H1796.3V616.7H1797.3V617.0H1798.3V626.5H1799.3V628.1H1800.3V622.5H1801.3V622.8H1802.3V632.3H1803.3V627.1H1804.3V633.7H1805.3V625.4H1806.3V627.0H1807.3V624.6H1808.3V633.6H1809.3V632.9H1810.3V627.8H1811.3V637.5H1812.3V635.2H1813.3V637.6H1814.3V646.1H1815.3V645.1H1816.3V643.8H1817.3V640.9H1818.3V637.9H1819.3V641.2H1820.3V643.4H1821.3V651.6H1822.3V642.6H1823.3V645.2H1824.3V648.4H1825.3V651.0H1826.3V654.8H1827.3V656.7H1828.3V650.9H1829.3V660.8H1830.3V656.0H1831.3V650.4H1832.3V650.3H1833.3V653.5H1834.3V654.9H1835.3V660.1H1836.3V653.9H1837.3V655.6H1838.3V655.1H1839.3V660.5H1840.3V653.9H1841.3V663.0H1842.3V658.0H1843.3V661.1H1844.3V664.4H1845.3V664.4H1846.3V675.4H1847.3V660.6H1848.3V656.4H1849.3V660.2H1850.3V669.6H1851.3V662.3H1852.3V671.5H1853.3V666.9H1854.3V671.3H1855.3V662.6H1856.3V673.5H1857.3V674.5H1858.3V666.5H1859.3V676.1H1860.3V681.8H1861.3V671.7H1862.3V668.4H1863.3V670.3H1864.3V672.0H1865.3V677.6H1866.3V681.3H1867.3V673.0H1868.3V674.2H1869.3V670.2H1870.3V674.1H1871.3V678.5H1872.3V669.4H1873.3V680.5H1874.3V681.9H1875.3V683.7H1876.3V677.4H1877.3V674.2H1878.3V679.8H1879.3V677.5H1880.3V675.4H1881.3V679.8H1882.3V678.1H1883.3V691.2H1884.3V687.3H1885.3V688.4H1886.3V681.6H1887.3V691.4H1888.3V685.5H1889.3V690.6H1890.3V684.2H1891.3V690.8H1892.3V682.9H1893.3V688.9H1894.3V689.1H1895.3V685.5H1896.3V691.0H1897.3V689.2H1898.3V690.3H1899.3V694.8H1900.3V697.2H1901.3V692.2H1902.3V697.9H1903.3V697.3H1904.3V696.7H1905.3V700.1H1906.3V689.5H1907.3V699.9H1908.3V696.9H1909.3V694.5H1910.3V695.6H1911.3V700.1H1912.3V701.1H1913.3V699.7H1914.3V693.5H1915.3V692.8H1916.3V698.4H1917.3V700.7H1918.3V696.5H1919.3V702.2H1920.3V701.6H1921.3V701.4H1922.3V697.5H1923.3V704.7H1924.3V704.0H1925.3V705.6H1926.3V702.6H1927.3V697.3H1928.3V703.2H1929.3V705.1H1930.3V701.9H1931.3V698.8H1932.3V704.8H1933.3V705.4H1934.3V699.2H1935.3V701.3H1936.3V699.1H1937.3V705.3H1938.3V705.1H1939.3V710.5H1940.3V701.9H1941.3V709.6H1942.3V704.7H1943.3V706.5H1944.3V701.8H1945.3V706.2H1946.3V704.6H1947.3V706.2H1948.3V707.4H1949.3V708.7H1950.3V710.0H1951.3V707.5H1952.3V704.9H1953.3V711.4H1954.3V708.5H1955.3V706.5H1956.3V713.2H1957.3V710.0H1958.3V711.6H1959.3V704.0H1960.3V707.8H1961.3V716.6H1962.3V711.9H1963.3V712.1H1964.3V708.6H1965.3V710.7H1966.3V712.6H1967.3V711.4H1968.3V711.6H1969.3V706.6H1970.3V709.9H1971.3V711.3H1972.3V714.8H1973.3V714.9H1974.3V713.5H1975.3V711.5H1976.3V711.8H1977.3V715.1H1978.3V710.3H1979.3V714.1H1980.3V714.0H1981.3V714.4H1982.3V720.6H1983.3V715.2H1984.3V718.6H1985.3V721.1H1986.3V717.9H1987.3V716.5H1988.3V712.8H1989.3V721.8H1990.3V713.6H1991.3V710.8H1992.3V720.6H1993.3V713.0H1994.3V713.9H1995.3V715.6H1996.3V714.3H1997.3V711.4H1998.3V718.8H1999.3V719.9H2000.3V720.9H2001.3V718.6H2002.3V717.6H2003.3V717.4H2004.3V722.8H2005.3V721.9H2006.3V718.1H2007.3V720.5H2008.3V716.1H2009.3V721.4H2010.3V716.7H2011.3V719.7H2012.3V719.6H2013.3V712.3H2014.3V722.6H2015.3V720.6H2016.3V718.4H2017.3V718.8H2018.3V720.7H2019.3V720.7H2020.3V722.6H2021.3V721.9H2022.3V723.4H2023.3V722.4H2024.3V717.6H2025.3V717.7H2026.3V723.4H2027.3V723.3H2028.3V722.2H2029.3V718.5H2030.3V720.4H2031.3V720.2H2032.3V724.7H2033.3V720.4H2034.3V718.9H2035.3V720.7H2036.3V724.0H2037.3V727.9H2038.3V721.9H2039.3V726.7H2040.3V722.2H2041.3V722.3H2042.3V721.2H2043.3V726.1H2044.3V722.5H2045.3V726.7H2046.3V722.9H2047.3V729.2H2048.3V724.9H2049.3V724.5H2050.3V720.9H2051.3V728.3H2052.3V725.4H2053.3V724.9H2054.3V724.8H2055.3V723.3H2056.3V723.3H2057.3V725.9H2058.3V722.7H2059.3V724.7H2060.3V731.7H2061.3V724.8H2062.3V724.5H2063.3V728.0H2064.3V722.6H2065.3V729.5H2066.3V725.5H2067.3V722.2H2068.3V725.2H2069.3V723.7H2070.3V727.8H2071.3V724.5H2072.3V728.0H2073.3V720.4H2074.3V724.7H2075.3V727.7H2076.3V727.6H2077.3V726.3H2078.3V728.4H2079.3V728.5H2080.3V726.3H2081.3V727.0H2082.3V729.0H2083.3V726.9H2084.3V719.1H2085.3V722.0H2086.3V724.7H2087.3V728.6H2088.3V726.9H2089.3V728.6H2090.3V729.7H2091.3V728.4H2092.3V724.1H2093.3V729.3H2094.3V723.0H2095.3V723.2H2096.3V725.7H2097.3V720.5H2098.3V731.8H2099.3V733.8H2100.3V726.6H2101.3V726.0H2102.3V721.1H2103.3V728.7H2104.3V725.1H2105.3V723.7H2106.3V723.2H2107.3V726.9H2108.3V726.6H2109.3V726.9H2110.3V725.5H2111.3V722.4H2112.3V731.5H2113.3V729.7H2114.3V725.7H2115.3V723.6H2116.3V724.6H2117.3V729.5H2118.3V729.0H2119.3V728.4H2120.3V731.0H2121.3V726.0H2122.3V731.7H2123.3V728.2H2124.3V725.6H2125.3V729.2H2126.3V728.7H2127.3V725.8H2128.3V733.0H2129.3V723.1H2130.3V728.6H2131.3V729.1H2132.3V725.9H2133.3V728.1H2134.3V731.7H2135.3V724.8H2136.3V724.9H2137.3V727.1H2138.3V729.6H2139.3V731.3H2140.3V729.8H2141.3V725.0H2142.3V731.4H2143.3V730.3H2144.3V731.2H2145.3V723.5H2146.3V723.4H2147.3V726.3H2148.3V727.0H2149.3V728.2H2150.3V725.1H2151.3V725.2H2152.3V729.5H2153.3V722.2H2154.3V724.9H2155.3V728.4H2156.3V730.5H2157.3V729.2H2158.3V733.0H2159.3V729.3H2160.3V730.5H2161.3V730.8H2162.3V728.6H2163.3V724.7H2164.3V727.7H2165.3V727.9H2166.3V726.1H2167.3V730.5H2168.3V727.1H2169.3V724.3H2170.3V728.6H2171.3V725.7H2172.3V730.1H2173.3V721.2H2174.3V723.8H2175.3V728.7H2176.3V729.4H2177.3V729.0H2178.3V733.1H2179.3V728.1H2180.3V727.4H2181.3V731.2H2182.3V727.9H2183.3V730.0H2184.3V732.5H2185.3V728.5H2186.3V728.7H2187.3V727.3H2188.3V730.2H2189.3V730.8H2190.3V732.0H2191.3V731.0H2192.3V734.8H2193.3V729.7H2194.3V729.6H2195.3V728.5H2196.3V733.0H2197.3V729.6H2198.3V728.6H2199.3V725.8H2200.3V729.1H2201.3V731.9H2202.3V722.3H2203.3V726.4H2204.3V727.0H2205.3V727.3H2206.3V729.8H2207.3V728.6H2208.3V730.1H2209.3V730.6H2210.3V733.6H2211.3V729.1H2212.3V730.8H2213.3V729.2H2214.3V730.4H2215.3V729.0H2216.3V726.7H2217.3V731.1H2218.3V733.1H2219.3V727.4H2220.3V730.0H2221.3V730.0H2222.3V724.2H2223.3V735.6H2224.3V734.3H2225.3V733.5H2226.3V733.0H2227.3V727.9H2228.3V723.5H2229.3V730.2H2230.3V730.6H2231.3V729.6H2232.3V729.2H2233.3V733.2H2234.3V732.7H2235.3V730.5H2236.3V729.1H2237.3V736.9H2238.3V732.9H2239.3V730.9H2240.3V727.0H2241.3V726.4H2242.3V723.0H2243.3V730.0H2244.3V731.6H2245.3V730.3H2246.3V730.8H2247.3V731.6H2248.3V733.2H2249.3V726.0H2250.3V727.5H2251.3V733.5H2252.3V731.8H2253.3V732.5H2254.3V728.3H2255.3V735.4H2256.3V731.5H2257.3V730.6H2258.3V728.8H2259.3V731.8H2260.3V731.8H2261.3V731.1H2262.3V735.9H2263.3V734.8H2264.3V731.5H2265.3V729.9H2266.3V730.4H2267.3V732.6H2268.3V723.9H2269.3V732.6H2270.3V731.1H2271.3V737.7H2272.3V733.1H2273.3V731.4H2274.3V732.1H2275.3V730.2H2276.3V730.1H2277.3V731.9H2278.3V726.5H2279.3V732.2H2280.3V727.5H2281.3V730.2H2282.3V730.2H2283.3V734.2"/>
<path stroke="#0000ff" d="M1206.3,519.9H1207.3V519.4H1208.3V516.9H1209.3V525.2H1210.3V528.3H1211.3V532.2H1212.3V538.7H1213.3V533.9H1214.3V545.1H1215.3V538.5H1216.3V543.4H1217.3V548.7H1218.3V548.9H1219.3V544.7H1220.3V555.0H1221.3V550.5H1222.3V546.3H1223.3V550.7H1224.3V548.0H1225.3V553.3H1226.3V547.0H1227.3V554.1H1228.3V545.8H1229.3V556.5H1230.3V553.3H1231.3V557.2H1232.3V549.2H1233.3V543.6H1234.3V545.9H1235.3V549.7H1236.3V557.5H1237.3V551.6H1238.3V553.8H1239.3V544.8H1240.3V545.3H1241.3V545.4H1242.3V550.4H1243.3V542.9H1244.3V543.1H1245.3V549.8H1246.3V539.2H1247.3V541.6H1248.3V535.6H1249.3V539.2H1250.3V542.7H1251.3V543.4H1252.3V532.2H1253.3V526.9H1254.3V538.6H1255.3V542.6H1256.3V532.3H1257.3V535.5H1258.3V533.9H1259.3V524.2H1260.3V521.4H1261.3V531.4H1262.3V533.0H1263.3V523.8H1264.3V528.0H1265.3V525.2H1266.3V523.5H1267.3V521.1H1268.3V530.6H1269.3V524.6H1270.3V522.4H1271.3V520.0H1272.3V522.4H1273.3V517.1H1274.3V518.0H1275.3V511.2H1276.3V513.1H1277.3V506.7H1278.3V507.2H1279.3V493.4H1280.3V493.4H1281.3V487.9H1282.3V498.7H1283.3V485.4H1284.3V486.0H1285.3V475.3H1286.3V476.9H1287.3V470.8H1288.3V476.9H1289.3V470.3H1290.3V481.7H1291.3V467.1H1292.3V475.7H1293.3V468.3H1294.3V470.8H1295.3V462.4H1296.3V466.9H1297.3V466.5H1298.3V464.2H1299.3V473.2H1300.3V464.5H1301.3V474.2H1302.3V477.0H1303.3V481.6H1304.3V478.4H1305.3V490.6H1306.3V485.6H1307.3V489.5H1308.3V489.7H1309.3V493.8H1310.3V498.4H1311.3V511.3H1312.3V485.2H1313.3V503.0H1314.3V503.4H1315.3V506.6H1316.3V501.1H1317.3V502.1H1318.3V508.5H1319.3V500.4H1320.3V500.7H1321.3V499.7H1322.3V501.7H1323.3V508.0H1324.3V495.0H1325.3V504.7H1326.3V487.7H1327.3V500.9H1328.3V496.3H1329.3V504.3H1330.3V501.7H1331.3V501.4H1332.3V500.0H1333.3V498.6H1334.3V486.8H1335.3V497.8H1336.3V489.4H1337.3V500.8H1338.3V492.2H1339.3V495.1H1340.3V492.4H1341.3V494.9H1342.3V495.2H1343.3V496.5H1344.3V487.6H1345.3V501.1H1346.3V488.0H1347.3V492.2H1348.3V479.5H1349.3V494.0H1350.3V497.2H1351.3V498.2H1352.3V494.6H1353.3V494.2H1354.3V488.3H1355.3V489.4H1356.3V490.2H1357.3V491.7H1358.3V485.4H1359.3V488.7H1360.3V493.0H1361.3V490.9H1362.3V489.2H1363.3V485.5H1364.3V490.7H1365.3V489.8H1366.3V495.9H1367.3V488.1H1368.3V492.5H1369.3V480.5H1370.3V495.7H1371.3V479.3H1372.3V485.3H1373.3V483.5H1374.3V481.9H1375.3V482.9H1376.3V481.5H1377.3V484.5H1378.3V485.2H1379.3V489.5H1380.3V490.0H1381.3V492.7H1382.3V486.2H1383.3V479.6H1384.3V495.6H1385.3V486.6H1386.3V470.8H1387.3V487.7H1388.3V483.1H1389.3V480.2H1390.3V480.7H1391.3V484.1H1392.3V479.6H1393.3V485.0H1394.3V482.9H1395.3V482.9H1396.3V486.1H1397.3V485.5H1398.3V492.0H1399.3V486.2H1400.3V478.8H1401.3V483.6H1402.3V492.0H1403.3V491.8H1404.3V478.8H1405.3V486.1H1406.3V479.9H1407.3V480.6H1408.3V473.7H1409.3V472.9H1410.3V479.4H1411.3V481.9H1412.3V482.8H1413.3V475.4H1414.3V478.3H1415.3V479.8H1416.3V477.9H1417.3V463.9H1418.3V472.5H1419.3V478.0H1420.3V480.1H1421.3V471.7H1422.3V481.5H1423.3V460.0H1424.3V481.7H1425.3V470.7H1426.3V473.9H1427.3V468.3H1428.3V466.4H1429.3V470.4H1430.3V471.8H1431.3V464.8H1432.3V474.6H1433.3V467.3H1434.3V469.4H1435.3V464.3H1436.3V463.8H1437.3V466.4H1438.3V458.3H1439.3V468.6H1440.3V457.0H1441.3V465.4H1442.3V456.0H1443.3V460.2H1444.3V456.6H1445.3V466.5H1446.3V468.5H1447.3V455.7H1448.3V459.8H1449.3V457.9H1450.3V460.0H1451.3V461.1H1452.3V464.8H1453.3V454.3H1454.3V442.8H1455.3V456.4H1456.3V449.6H1457.3V450.3H1458.3V457.7H1459.3V458.9H1460.3V449.8H1461.3V455.9H1462.3V450.5H1463.3V452.0H1464.3V445.7H1465.3V453.6H1466.3V441.3H1467.3V444.4H1468.3V448.6H1469.3V436.3H1470.3V443.2H1471.3V442.6H1472.3V443.8H1473.3V448.2H1474.3V423.9H1475.3V441.5H1476.3V436.8H1477.3V440.7H1478.3V436.7H1479.3V427.3H1480.3V426.8H1481.3V422.9H1482.3V435.7H1483.3V423.0H1484.3V427.7H1485.3V423.1H1486.3V410.5H1487.3V420.2H1488.3V420.1H1489.3V429.4H1490.3V417.6H1491.3V410.7H1492.3V413.3H1493.3V421.2H1494.3V418.7H1495.3V417.4H1496.3V417.3H1497.3V406.6H1498.3V417.0H1499.3V412.3H1500.3V395.3H1501.3V404.2H1502.3V416.1H1503.3V402.8H1504.3V403.2H1505.3V405.1H1506.3V405.1H1507.3V403.1H1508.3V406.3H1509.3V396.6H1510.3V391.0H1511.3V400.1H1512.3V399.0H1513.3V405.4H1514.3V412.3H1515.3V400.8H1516.3V402.7H1517.3V407.7H1518.3V400.8H1519.3V399.2H1520.3V387.3H1521.3V390.2H1522.3V386.9H1523.3V388.9H1524.3V397.9H1525.3V394.6H1526.3V389.2H1527.3V373.0H1528.3V391.5H1529.3V390.4H1530.3V377.5H1531.3V385.5H1532.3V382.0H1533.3V387.8H1534.3V367.5H1535.3V372.3H1536.3V390.1H1537.3V372.3H1538.3V373.1H1539.3V374.9H1540.3V379.1H1541.3V386.1H1542.3V375.1H1543.3V381.7H1544.3V377.3H1545.3V369.2H1546.3V384.6H1547.3V379.5H1548.3V368.4H1549.3V368.9H1550.3V361.8H1551.3V355.7H1552.3V367.0H1553.3V375.5H1554.3V344.7H1555.3V361.2H1556.3V380.9H1557.3V376.9H1558.3V357.2H1559.3V358.4H1560.3V373.6H1561.3V354.3H1562.3V361.3H1563.3V354.7H1564.3V364.0H1565.3V361.5H1566.3V373.2H1567.3V350.8H1568.3V345.3H1569.3V354.5H1570.3V358.7H1571.3V353.4H1572.3V374.7H1573.3V350.4H1574.3V351.9H1575.3V360.1H1576.3V365.8H1577.3V352.9H1578.3V356.0H1579.3V339.8H1580.3V341.1H1581.3V350.4H1582.3V353.3H1583.3V350.6H1584.3V349.4H1585.3V350.8H1586.3V342.8H1587.3V339.4H1588.3V339.0H1589.3V329.5H1590.3V333.4H1591.3V331.5H1592.3V342.0H1593.3V356.3H1594.3V341.4H1595.3V350.9H1596.3V326.2H1597.3V329.2H1598.3V330.4H1599.3V340.8H1600.3V347.1H1601.3V337.4H1602.3V332.8H1603.3V330.0H1604.3V322.9H1605.3V331.5H1606.3V330.5H1607.3V326.6H1608.3V318.6H1609.3V326.6H1610.3V324.0H1611.3V317.7H1612.3V334.1H1613.3V322.9H1614.3V328.3H1615.3V312.9H1616.3V318.4H1617.3V315.3H1618.3V311.7H1619.3V321.3H1620.3V317.7H1621.3V308.7H1622.3V312.8H1623.3V318.3H1624.3V316.9H1625.3V332.6H1626.3V296.2H1627.3V323.1H1628.3V321.4H1629.3V318.5H1630.3V307.7H1631.3V307.0H1632.3V295.7H1633.3V316.2H1634.3V306.5H1635.3V305.9H1636.3V324.6H1637.3V301.5H1638.3V309.0H1639.3V314.9H1640.3V308.2H1641.3V312.9H1642.3V311.8H1643.3V312.4H1644.3V300.0H1645.3V300.5H1646.3V321.6H1647.3V317.4H1648.3V312.3H1649.3V308.9H1650.3V328.1H1651.3V313.7H1652.3V309.3H1653.3V327.2H1654.3V310.5H1655.3V317.3H1656.3V322.5H1657.3V313.1H1658.3V326.1H1659.3V327.5H1660.3V330.6H1661.3V325.9H1662.3V341.8H1663.3V329.8H1664.3V327.6H1665.3V335.4H1666.3V329.7H1667.3V314.9H1668.3V345.7H1669.3V322.6H1670.3V322.1H1671.3V341.6H1672.3V334.3H1673.3V349.4H1674.3V349.7H1675.3V351.1H1676.3V341.4H1677.3V346.7H1678.3V335.0H1679.3V351.5H1680.3V345.8H1681.3V346.2H1682.3V349.1H1683.3V349.4H1684.3V352.9H1685.3V356.9H1686.3V350.7H1687.3V348.6H1688.3V342.8H1689.3V366.6H1690.3V357.5H1691.3V353.0H1692.3V344.3H1693.3V361.6H1694.3V348.6H1695.3V361.4H1696.3V357.5H1697.3V369.9H1698.3V359.4H1699.3V355.5H1700.3V349.4H1701.3V362.1H1702.3V379.6H1703.3V370.9H1704.3V367.2H1705.3V380.0H1706.3V368.3H1707.3V381.5H1708.3V366.3H1709.3V368.6H1710.3V384.8H1711.3V370.4H1712.3V389.2H1713.3V382.9H1714.3V397.8H1715.3V382.0H1716.3V385.6H1717.3V400.0H1718.3V386.1H1719.3V393.4H1720.3V387.2H1721.3V401.6H1722.3V396.6H1723.3V390.8H1724.3V400.0H1725.3V394.5H1726.3V407.6H1727.3V396.8H1728.3V421.8H1729.3V422.7H1730.3V397.3H1731.3V414.0H1732.3V407.1H1733.3V409.2H1734.3V407.7H1735.3V426.9H1736.3V406.7H1737.3V430.7H1738.3V411.2H1739.3V428.4H1740.3V423.3H1741.3V422.2H1742.3V421.0H1743.3V425.8H1744.3V431.2H1745.3V440.0H1746.3V420.3H1747.3V434.6H1748.3V432.7H1749.3V430.2H1750.3V435.0H1751.3V436.8H1752.3V432.8H1753.3V436.0H1754.3V441.9H1755.3V438.5H1756.3V444.6H1757.3V438.0H1758.3V445.8H1759.3V448.1H1760.3V448.9H1761.3V449.1H1762.3V448.7H1763.3V448.4H1764.3V446.9H1765.3V448.2H1766.3V453.5H1767.3V445.6H1768.3V464.2H1769.3V448.5H1770.3V456.5H1771.3V465.4H1772.3V469.2H1773.3V464.6H1774.3V462.5H1775.3V455.6H1776.3V466.5H1777.3V463.9H1778.3V459.1H1779.3V466.1H1780.3V474.5H1781.3V473.4H1782.3V473.5H1783.3V477.1H1784.3V476.4H1785.3V476.5H1786.3V474.5H1787.3V477.6H1788.3V475.7H1789.3V475.7H1790.3V475.7H1791.3V489.2H1792.3V484.9H1793.3V487.0H1794.3V483.9H1795.3V486.0H1796.3V482.3H1797.3V483.7H1798.3V492.0H1799.3V497.6H1800.3V480.0H1801.3V486.3H1802.3V486.8H1803.3V485.5H1804.3V489.3H1805.3V490.6H1806.3V488.6H1807.3V496.2H1808.3V487.5H1809.3V503.0H1810.3V500.8H1811.3V496.3H1812.3V494.1H1813.3V495.3H1814.3V501.0H1815.3V509.3H1816.3V508.1H1817.3V507.9H1818.3V499.5H1819.3V505.1H1820.3V509.6H1821.3V509.1H1822.3V509.9H1823.3V508.6H1824.3V508.7H1825.3V511.1H1826.3V513.2H1827.3V513.1H1828.3V519.3H1829.3V512.3H1830.3V525.5H1831.3V519.7H1832.3V517.7H1833.3V523.2H1834.3V522.5H1835.3V514.0H1836.3V520.6H1837.3V528.1H1838.3V524.6H1839.3V530.9H1840.3V522.9H1841.3V526.2H1842.3V525.0H1843.3V527.6H1844.3V525.4H1845.3V526.0H1846.3V534.1H1847.3V525.5H1848.3V529.3H1849.3V535.1H1850.3V540.0H1851.3V538.9H1852.3V536.2H1853.3V532.3H1854.3V534.0H1855.3V537.9H1856.3V534.7H1857.3V528.3H1858.3V536.0H1859.3V534.9H1860.3V525.6H1861.3V536.4H1862.3V535.2H1863.3V539.3H1864.3V538.7H1865.3V543.9H1866.3V544.1H1867.3V537.8H1868.3V534.8H1869.3V540.5H1870.3V546.7H1871.3V541.5H1872.3V542.4H1873.3V544.3H1874.3V542.3H1875.3V542.6H1876.3V543.2H1877.3V543.9H1878.3V540.0H1879.3V551.5H1880.3V541.7H1881.3V549.8H1882.3V543.2H1883.3V550.7H1884.3V547.9H1885.3V549.7H1886.3V555.5H1887.3V550.6H1888.3V546.3H1889.3V547.1H1890.3V543.8H1891.3V545.2H1892.3V547.3H1893.3V554.1H1894.3V550.0H1895.3V554.3H1896.3V549.6H1897.3V549.1H1898.3V551.6H1899.3V550.9H1900.3V554.1H1901.3V562.5H1902.3V555.8H1903.3V559.1H1904.3V556.8H1905.3V552.9H1906.3V553.0H1907.3V560.7H1908.3V557.4H1909.3V560.4H1910.3V556.4H1911.3V554.4H1912.3V561.4H1913.3V560.3H1914.3V555.8H1915.3V563.1H1916.3V566.6H1917.3V561.8H1918.3V563.2H1919.3V561.3H1920.3V562.1H1921.3V565.2H1922.3V568.2H1923.3V563.9H1924.3V563.5H1925.3V562.2H1926.3V566.1H1927.3V567.8H1928.3V565.3H1929.3V562.1H1930.3V570.2H1931.3V569.4H1932.3V565.0H1933.3V572.7H1934.3V568.0H1935.3V568.6H1936.3V566.0H1937.3V571.7H1938.3V572.4H1939.3V565.4H1940.3V569.5H1941.3V563.0H1942.3V565.5H1943.3V568.1H1944.3V573.3H1945.3V571.5H1946.3V572.7H1947.3V570.0H1948.3V573.7H1949.3V568.0H1950.3V574.7H1951.3V569.3H1952.3V574.3H1953.3V578.3H1954.3V576.9H1955.3V577.4H1956.3V576.8H1957.3V567.0H1958.3V572.9H1959.3V578.1H1960.3V575.5H1961.3V573.9H1962.3V578.2H1963.3V580.6H1964.3V575.0H1965.3V579.5H1966.3V578.7H1967.3V580.3H1968.3V583.8H1969.3V578.4H1970.3V582.4H1971.3V584.9H1972.3V575.2H1973.3V579.8H1974.3V578.4H1975.3V582.2H1976.3V578.3H1977.3V579.7H1978.3V583.2H1979.3V580.7H1980.3V577.5H1981.3V579.1H1982.3V578.8H1983.3V577.8H1984.3V584.3H1985.3V586.5H1986.3V578.9H1987.3V588.8H1988.3V583.8H1989.3V577.0H1990.3V577.0H1991.3V578.8H1992.3V586.1H1993.3V578.0H1994.3V579.5H1995.3V587.0H1996.3V581.6H1997.3V584.0H1998.3V577.8H1999.3V583.7H2000.3V580.5H2001.3V581.3H2002.3V579.6H2003.3V585.1H2004.3V574.6H2005.3V584.7H2006.3V588.1H2007.3V587.4H2008.3V579.4H2009.3V587.4H2010.3V586.9H2011.3V588.1H2012.3V583.7H2013.3V589.7H2014.3V587.4H2015.3V582.4H2016.3V583.7H2017.3V585.4H2018.3V588.6H2019.3V588.7H2020.3V589.0H2021.3V584.4H2022.3V586.5H2023.3V584.0H2024.3V587.1H2025.3V584.2H2026.3V587.0H2027.3V590.9H2028.3V586.2H2029.3V591.1H2030.3V592.4H2031.3V585.8H2032.3V594.4H2033.3V592.1H2034.3V586.9H2035.3V588.7H2036.3V587.2H2037.3V590.6H2038.3V591.0H2039.3V588.3H2040.3V589.7H2041.3V588.5H2042.3V585.2H2043.3V585.9H2044.3V592.4H2045.3V585.1H2046.3V589.6H2047.3V594.5H2048.3V593.3H2049.3V595.1H2050.3V587.1H2051.3V593.3H2052.3V593.4H2053.3V591.3H2054.3V592.7H2055.3V591.9H2056.3V596.9H2057.3V590.3H2058.3V588.5H2059.3V595.2H2060.3V588.4H2061.3V590.0H2062.3V593.7H2063.3V591.4H2064.3V590.0H2065.3V595.7H2066.3V587.7H2067.3V594.2H2068.3V591.4H2069.3V592.4H2070.3V595.6H2071.3V595.2H2072.3V594.3H2073.3V599.9H2074.3V592.3H2075.3V599.2H2076.3V595.0H2077.3V594.7H2078.3V595.4H2079.3V597.9H2080.3V590.0H2081.3V601.0H2082.3V601.5H2083.3V591.6H2084.3V591.6H2085.3V593.9H2086.3V594.1H2087.3V595.5H2088.3V595.5H2089.3V595.4H2090.3V601.8H2091.3V594.0H2092.3V593.3H2093.3V599.2H2094.3V600.2H2095.3V594.5H2096.3V597.5H2097.3V596.0H2098.3V591.9H2099.3V595.3H2100.3V597.9H2101.3V592.7H2102.3V593.5H2103.3V596.3H2104.3V603.3H2105.3V600.8H2106.3V597.1H2107.3V597.5H2108.3V600.6H2109.3V595.7H2110.3V598.4H2111.3V594.9H2112.3V598.1H2113.3V600.1H2114.3V594.3H2115.3V599.5H2116.3V599.8H2117.3V596.3H2118.3V591.9H2119.3V597.1H2120.3V605.3H2121.3V596.5H2122.3V594.6H2123.3V599.2H2124.3V595.7H2125.3V594.6H2126.3V598.5H2127.3V601.3H2128.3V598.4H2129.3V597.3H2130.3V598.4H2131.3V594.4H2132.3V594.1H2133.3V603.4H2134.3V596.9H2135.3V597.2H2136.3V597.1H2137.3V594.9H2138.3V599.8H2139.3V590.2H2140.3V598.7H2141.3V596.0H2142.3V598.6H2143.3V600.3H2144.3V598.3H2145.3V594.2H2146.3V599.5H2147.3V598.2H2148.3V602.9H2149.3V595.5H2150.3V603.4H2151.3V596.1H2152.3V595.4H2153.3V590.2H2154.3V596.8H2155.3V600.0H2156.3V596.8H2157.3V597.3H2158.3V600.7H2159.3V600.9H2160.3V596.2H2161.3V600.8H2162.3V601.0H2163.3V605.7H2164.3V596.1H2165.3V593.3H2166.3V598.8H2167.3V595.3H2168.3V595.5H2169.3V598.5H2170.3V599.1H2171.3V597.9H2172.3V599.8H2173.3V599.9H2174.3V597.6H2175.3V601.8H2176.3V603.2H2177.3V599.0H2178.3V602.5H2179.3V600.0H2180.3V598.2H2181.3V598.1H2182.3V604.8H2183.3V596.3H2184.3V595.6H2185.3V602.3H2186.3V599.1H2187.3V594.6H2188.3V595.6H2189.3V598.2H2190.3V595.4H2191.3V598.4H2192.3V598.1H2193.3V599.7H2194.3V595.3H2195.3V598.6H2196.3V599.8H2197.3V594.9H2198.3V595.0H2199.3V602.6H2200.3V598.2H2201.3V595.5H2202.3V602.0H2203.3V598.4H2204.3V594.4H2205.3V597.8H2206.3V599.8H2207.3V602.7H2208.3V595.7H2209.3V600.0H2210.3V602.3H2211.3V591.4H2212.3V598.8H2213.3V601.1H2214.3V599.4H2215.3V598.7H2216.3V595.9H2217.3V600.7H2218.3V598.8H2219.3V596.4H2220.3V600.7H2221.3V600.8H2222.3V598.3H2223.3V600.9H2224.3V599.5H2225.3V599.1H2226.3V606.9H2227.3V599.6H2228.3V598.1H2229.3V600.9H2230.3V602.2H2231.3V599.7H2232.3V595.3H2233.3V600.1H2234.3V598.3H2235.3V598.1H2236.3V602.9H2237.3V602.6H2238.3V601.2H2239.3V604.0H2240.3V602.3H2241.3V603.0H2242.3V599.2H2243.3V600.4H2244.3V599.7H2245.3V604.9H2246.3V598.4H2247.3V602.0H2248.3V596.6H2249.3V602.5H2250.3V598.6H2251.3V597.4H2252.3V601.9H2253.3V601.2H2254.3V599.5H2255.3V598.6H2256.3V599.3H2257.3V603.1H2258.3V598.8H2259.3V596.7H2260.3V602.2H2261.3V595.5H2262.3V599.7H2263.3V602.6H2264.3V599.9H2265.3V603.3H2266.3V606.3H2267.3V597.1H2268.3V597.0H2269.3V598.0H2270.3V598.1H2271.3V595.7H2272.3V603.4H2273.3V602.5H2274.3V603.6H2275.3V600.0H2276.3V599.1H2277.3V597.4H2278.3V602.7H2279.3V601.7H2280.3V601.0H2281.3V599.9H2282.3V597.1H2283.3V603.3"/>
</g>
<g clip-path="url(#cbA)" fill="none" stroke="#000" stroke-width="2" stroke-linejoin="round"><path d="M96.5,1489.7 97.1,1489.7 97.7,1488.0 98.3,1485.0 99.0,1483.2 99.6,1480.0 100.2,1477.1 100.8,1473.3 101.4,1469.0 102.0,1462.8 102.6,1459.7 103.2,1456.7 103.9,1455.4 104.5,1465.5 105.1,1467.8 105.7,1463.0 106.3,1458.2 106.9,1451.4 107.5,1446.0 108.1,1440.1 108.8,1434.1 109.4,1427.9 110.0,1421.3 110.6,1413.9 111.2,1406.9 111.8,1394.8 112.4,1377.2 113.0,1352.7 113.7,1314.3 114.3,1253.8 114.9,1103.5 115.5,994.8 116.1,921.6 116.7,900.0 117.3,900.0 117.9,900.0 118.6,900.0 119.2,900.0 119.8,900.0 120.4,900.0 121.0,900.0 121.6,900.0 122.2,931.9 122.9,976.0 123.5,1031.9 124.1,1155.7 124.7,1293.0 125.3,1347.3 125.9,1368.0 126.5,1374.8 127.1,1377.8 127.8,1380.2 128.4,1381.6 129.0,1388.0 129.6,1398.9 130.2,1410.5 130.8,1421.6 131.4,1430.2 132.0,1434.1 132.7,1436.9 133.3,1440.1 133.9,1442.3 134.5,1444.6 135.1,1446.3 135.7,1448.4 136.3,1448.9 136.9,1450.9 137.6,1452.2 138.2,1452.4 138.8,1454.2 139.4,1455.2 140.0,1455.2 140.6,1455.2 141.2,1455.9 141.8,1457.5 142.5,1459.4 143.1,1459.6 143.7,1460.5 144.3,1460.7 144.9,1461.1 145.5,1462.1 146.1,1461.8 146.7,1462.4 147.4,1462.7 148.0,1462.4 148.6,1462.5 149.2,1461.7 149.8,1461.9 150.4,1461.3 151.0,1456.4 151.7,1455.7 152.3,1454.3 152.9,1452.3 153.5,1446.9 154.1,1436.1 154.7,1416.6 155.3,1388.7 155.9,1363.1 156.6,1362.8 157.2,1388.8 157.8,1418.8 158.4,1438.6 159.0,1450.2 159.6,1456.0 160.2,1458.8 160.8,1460.6 161.5,1463.3 162.1,1464.4 162.7,1465.1 163.3,1465.3 163.9,1465.7 164.5,1465.5 165.1,1465.8 165.7,1465.3 166.4,1464.7 167.0,1464.2 167.6,1463.2 168.2,1457.9 168.8,1450.9 169.4,1430.6 170.0,1389.6 170.6,1342.8 171.3,1342.9 171.9,1390.7 172.5,1431.1 173.1,1451.5 173.7,1461.8 174.3,1466.0 174.9,1467.9 175.6,1468.4 176.2,1469.7 176.8,1470.4 177.4,1470.4 178.0,1471.1 178.6,1471.8 179.2,1471.5 179.8,1470.9 180.5,1471.2 181.1,1471.9 181.7,1471.4 182.3,1471.2 182.9,1471.6 183.5,1470.4 184.1,1469.3 184.7,1468.5 185.4,1468.2 186.0,1464.5 186.6,1463.2 187.2,1458.8 187.8,1451.1 188.4,1438.2 189.0,1413.1 189.6,1362.4 190.3,1280.3 190.9,1182.5 191.5,1129.3 192.1,1182.1 192.7,1281.3 193.3,1363.2 193.9,1413.9 194.5,1440.0 195.2,1453.6 195.8,1461.1 196.4,1465.7 197.0,1469.0 197.6,1471.6 198.2,1473.1 198.8,1473.8 199.5,1475.8 200.1,1475.5 200.7,1476.8 201.3,1478.0 201.9,1477.6 202.5,1479.7 203.1,1478.9 203.7,1479.1 204.4,1479.9 205.0,1480.2 205.6,1480.9 206.2,1481.1 206.8,1482.0 207.4,1481.6 208.0,1482.0 208.6,1481.5 209.3,1482.0 209.9,1480.6 210.5,1478.5 211.1,1477.8 211.7,1474.3 212.3,1473.3 212.9,1474.8 213.5,1478.2 214.2,1479.8 214.8,1482.2 215.4,1483.8 216.0,1485.0 216.6,1484.2 217.2,1484.4 217.8,1484.0 218.4,1485.4 219.1,1484.2 219.7,1484.0 220.3,1483.8 220.9,1482.8 221.5,1482.5 222.1,1480.6 222.7,1479.9 223.3,1474.8 224.0,1466.1 224.6,1451.3 225.2,1427.7 225.8,1408.4 226.4,1408.5 227.0,1428.1 227.6,1451.4 228.3,1466.7 228.9,1476.0 229.5,1480.0 230.1,1481.9 230.7,1484.0 231.3,1484.5 231.9,1485.3 232.5,1486.2 233.2,1486.8 233.8,1486.8 234.4,1486.0 235.0,1487.2 235.6,1486.9 236.2,1487.7 236.8,1487.2 237.4,1488.1 238.1,1487.6 238.7,1487.4 239.3,1487.5 239.9,1486.4 240.5,1487.5 241.1,1487.0 241.7,1486.1 242.3,1486.4 243.0,1485.4 243.6,1483.7 244.2,1480.3 244.8,1475.1 245.4,1466.9 246.0,1457.5 246.6,1453.0 247.2,1457.3 247.9,1466.4 248.5,1475.3 249.1,1480.3 249.7,1483.2 250.3,1485.8 250.9,1487.2 251.5,1487.1 252.2,1488.0 252.8,1488.1 253.4,1487.5 254.0,1488.2 254.6,1488.0 255.2,1488.4 255.8,1486.5 256.4,1488.1 257.1,1487.7 257.7,1486.4 258.3,1486.5 258.9,1484.6 259.5,1482.3 260.1,1476.8 260.7,1463.1 261.3,1435.1 262.0,1402.8 262.6,1402.8 263.2,1434.8 263.8,1463.4 264.4,1477.0 265.0,1482.5 265.6,1485.4 266.2,1486.1 266.9,1485.3 267.5,1484.9 268.1,1483.2 268.7,1483.8 269.3,1486.0 269.9,1488.0 270.5,1489.9 271.1,1489.7 271.8,1489.8 272.4,1489.7 273.0,1489.9 273.6,1490.6 274.2,1490.6 274.8,1490.0 275.4,1490.1 276.1,1490.2 276.7,1491.2 277.3,1489.9 277.9,1490.5 278.5,1489.4 279.1,1489.9 279.7,1490.3 280.3,1488.2 281.0,1487.7 281.6,1483.2 282.2,1479.9 282.8,1475.0 283.4,1473.4 284.0,1474.6 284.6,1478.4 285.2,1481.0 285.9,1481.9 286.5,1479.3 287.1,1472.8 287.7,1458.8 288.3,1439.2 288.9,1421.2 289.5,1421.8 290.1,1440.8 290.8,1459.4 291.4,1474.0 292.0,1480.1 292.6,1484.0 293.2,1486.3 293.8,1487.0 294.4,1487.1 295.0,1486.6 295.7,1483.0 296.3,1477.3 296.9,1466.4 297.5,1453.9 298.1,1455.0 298.7,1466.5 299.3,1477.8 299.9,1484.7 300.6,1487.6 301.2,1490.0 301.8,1489.7 302.4,1490.7 303.0,1491.5 303.6,1490.8 304.2,1492.2 304.9,1492.2 305.5,1491.8 306.1,1491.9 306.7,1492.0 307.3,1492.1 307.9,1492.8 308.5,1492.5 309.1,1491.6 309.8,1491.5 310.4,1492.6 311.0,1491.0 311.6,1491.6 312.2,1492.1 312.8,1492.3 313.4,1493.0 314.0,1492.4 314.7,1494.1 315.3,1492.3 315.9,1492.5 316.5,1492.3 317.1,1491.1 317.7,1490.3 318.3,1487.9 318.9,1485.1 319.6,1482.6 320.2,1482.7 320.8,1485.4 321.4,1487.6 322.0,1490.0 322.6,1491.4 323.2,1492.0 323.8,1492.2 324.5,1492.6 325.1,1492.8 325.7,1493.1 326.3,1492.7 326.9,1492.2 327.5,1492.1 328.1,1492.8 328.8,1491.7 329.4,1492.2 330.0,1493.0 330.6,1492.3 331.2,1492.2 331.8,1493.1 332.4,1491.1 333.0,1492.4 333.7,1492.2 334.3,1492.1 334.9,1492.8 335.5,1493.0 336.1,1492.8 336.7,1492.5 337.3,1492.3 337.9,1491.9 338.6,1491.8 339.2,1490.7 339.8,1490.8 340.4,1490.7 341.0,1489.3 341.6,1488.3 342.2,1485.2 342.8,1483.3 343.5,1480.4 344.1,1478.7 344.7,1475.8 345.3,1474.4 345.9,1473.9 346.5,1475.5 347.1,1477.4 347.7,1480.1 348.4,1483.9 349.0,1484.3 349.6,1486.0 350.2,1485.6 350.8,1484.6 351.4,1478.4 352.0,1470.8 352.7,1463.6 353.3,1460.7 353.9,1463.7 354.5,1471.4 355.1,1478.5 355.7,1483.6 356.3,1488.3 356.9,1489.3 357.6,1489.2 358.2,1486.2 358.8,1481.4 359.4,1477.1 360.0,1474.9 360.6,1476.3 361.2,1482.4 361.8,1487.2 362.5,1489.2 363.1,1491.3 363.7,1491.6 364.3,1492.4 364.9,1492.5 365.5,1491.0 366.1,1492.0 366.7,1492.9 367.4,1492.5 368.0,1491.7 368.6,1492.0 369.2,1491.7 369.8,1492.4 370.4,1491.5 371.0,1492.8 371.6,1492.5 372.3,1492.9 372.9,1492.5 373.5,1492.3 374.1,1492.0 374.7,1491.3 375.3,1488.8 375.9,1487.5 376.5,1482.2 377.2,1474.9 377.8,1470.3 378.4,1466.5 379.0,1468.6 379.6,1476.2 380.2,1482.7 380.8,1487.2 381.5,1490.4 382.1,1490.3 382.7,1491.8 383.3,1491.1 383.9,1491.9 384.5,1492.1 385.1,1491.6 385.7,1493.1 386.4,1490.9 387.0,1491.0 387.6,1491.5 388.2,1491.2 388.8,1492.1 389.4,1491.2 390.0,1492.0 390.6,1490.9 391.3,1491.3 391.9,1491.0 392.5,1490.3 393.1,1490.0 393.7,1488.9 394.3,1488.1 394.9,1485.0 395.5,1477.3 396.2,1467.6 396.8,1455.7 397.4,1448.8 398.0,1455.8 398.6,1468.1 399.2,1475.6 399.8,1482.2 400.4,1485.9 401.1,1486.6 401.7,1486.0 402.3,1485.4 402.9,1483.2 403.5,1478.9 404.1,1468.3 404.7,1455.4 405.4,1443.6 406.0,1443.4 406.6,1455.1 407.2,1468.4 407.8,1476.9 408.4,1481.8 409.0,1484.4 409.6,1486.0 410.3,1485.7 410.9,1484.6 411.5,1481.2 412.1,1475.0 412.7,1464.6 413.3,1450.8 413.9,1440.7 414.5,1440.0 415.2,1450.6 415.8,1465.2 416.4,1475.4 417.0,1483.0 417.6,1485.3 418.2,1487.5 418.8,1487.8 419.4,1489.4 420.1,1489.7 420.7,1489.5 421.3,1490.3 421.9,1489.7 422.5,1490.8 423.1,1490.4 423.7,1490.9 424.3,1490.3 425.0,1490.4 425.6,1490.7 426.2,1491.2 426.8,1490.8 427.4,1489.5 428.0,1491.0 428.6,1490.5 429.3,1490.8 429.9,1491.0 430.5,1490.7 431.1,1489.7 431.7,1489.7 432.3,1489.8 432.9,1489.6 433.5,1488.0 434.2,1487.0 434.8,1485.2 435.4,1483.6 436.0,1480.0 436.6,1477.6 437.2,1472.3 437.8,1467.4 438.4,1462.4 439.1,1457.9 439.7,1454.7 440.3,1456.3 440.9,1456.4 441.5,1455.4 442.1,1455.1 442.7,1445.9 443.3,1430.5 444.0,1406.3 444.6,1381.0 445.2,1370.5 445.8,1384.6 446.4,1410.3 447.0,1437.5 447.6,1457.9 448.2,1470.5 448.9,1477.3 449.5,1480.0 450.1,1483.6 450.7,1486.0 451.3,1486.9 451.9,1487.2 452.5,1488.2 453.1,1488.8 453.8,1488.8 454.4,1488.9 455.0,1489.2 455.6,1489.4 456.2,1490.0 456.8,1490.2 457.4,1490.6 458.1,1490.7 458.7,1490.5 459.3,1489.6 459.9,1491.0 460.5,1490.3 461.1,1491.7 461.7,1490.7 462.3,1492.0 463.0,1491.2 463.6,1491.8 464.2,1491.1 464.8,1491.2 465.4,1490.7 466.0,1490.7 466.6,1490.7 467.2,1491.2 467.9,1490.2 468.5,1491.2 469.1,1490.5 469.7,1490.7 470.3,1489.6 470.9,1489.3 471.5,1486.6 472.1,1483.6 472.8,1478.1 473.4,1470.7 474.0,1465.8 474.6,1466.0 475.2,1471.3 475.8,1477.1 476.4,1483.6 477.0,1487.1 477.7,1488.6 478.3,1489.3 478.9,1491.0 479.5,1490.6 480.1,1490.8 480.7,1490.9 481.3,1489.8 482.0,1490.2 482.6,1489.4 483.2,1490.3 483.8,1489.2 484.4,1489.7 485.0,1490.3 485.6,1490.1 486.2,1489.2 486.9,1489.0 487.5,1489.9 488.1,1489.3 488.7,1488.5 489.3,1488.5 489.9,1488.1 490.5,1487.0 491.1,1486.7 491.8,1485.3 492.4,1485.6 493.0,1484.4 493.6,1483.5 494.2,1481.6 494.8,1478.3 495.4,1475.6 496.0,1468.2 496.7,1457.5 497.3,1435.3 497.9,1398.4 498.5,1344.3 499.1,1285.6 499.7,1257.4 500.3,1285.2 500.9,1344.0 501.6,1396.4 502.2,1432.0 502.8,1450.5 503.4,1456.9 504.0,1455.9 504.6,1448.7 505.2,1440.0 505.9,1432.8 506.5,1429.9 507.1,1434.1 507.7,1445.5 508.3,1457.1 508.9,1467.1 509.5,1475.3 510.1,1480.8 510.8,1484.6 511.4,1486.2 512.0,1487.5 512.6,1488.9 513.2,1489.0 513.8,1488.5 514.4,1488.3 515.0,1489.6 515.7,1488.7 516.3,1488.8 516.9,1489.2 517.5,1489.5 518.1,1489.3 518.7,1489.6 519.3,1488.2 519.9,1489.4 520.6,1489.6 521.2,1489.9 521.8,1489.6 522.4,1489.3 523.0,1490.5 523.6,1489.7 524.2,1489.3 524.8,1488.9 525.5,1488.7 526.1,1487.6 526.7,1486.8 527.3,1486.1 527.9,1482.5 528.5,1478.6 529.1,1469.8 529.7,1458.5 530.4,1444.1 531.0,1430.9 531.6,1424.6 532.2,1427.1 532.8,1434.3 533.4,1437.7 534.0,1434.0 534.7,1427.5 535.3,1425.1 535.9,1435.3 536.5,1450.5 537.1,1465.1 537.7,1475.3 538.3,1482.0 538.9,1485.3 539.6,1485.4 540.2,1485.2 540.8,1485.2 541.4,1485.0 542.0,1483.5 542.6,1484.1 543.2,1481.8 543.8,1478.3 544.5,1472.9 545.1,1466.4 545.7,1453.8 546.3,1437.5 546.9,1418.1 547.5,1403.2 548.1,1402.6 548.7,1417.8 549.4,1436.5 550.0,1453.9 550.6,1465.5 551.2,1474.3 551.8,1479.2 552.4,1481.4 553.0,1482.6 553.6,1482.4 554.3,1481.7 554.9,1477.6 555.5,1470.9 556.1,1466.6 556.7,1471.5 557.3,1477.4 557.9,1483.7 558.6,1487.2 559.2,1487.5 559.8,1486.2 560.4,1487.5 561.0,1485.4 561.6,1482.6 562.2,1476.1 562.8,1469.1 563.5,1462.4 564.1,1464.0 564.7,1468.2 565.3,1474.9 565.9,1482.1 566.5,1485.8 567.1,1487.9 567.7,1488.5 568.4,1488.4 569.0,1488.4 569.6,1488.6 570.2,1488.1 570.8,1487.9 571.4,1486.3 572.0,1486.8 572.6,1486.0 573.3,1485.6 573.9,1483.7 574.5,1482.7 575.1,1479.7 575.7,1473.5 576.3,1464.7 576.9,1449.5 577.5,1426.1 578.2,1398.3 578.8,1378.1 579.4,1378.4 580.0,1399.6 580.6,1427.3 581.2,1449.5 581.8,1465.7 582.5,1473.9 583.1,1480.3 583.7,1482.4 584.3,1484.6 584.9,1484.7 585.5,1486.2 586.1,1487.9 586.7,1487.9 587.4,1488.3 588.0,1488.0 588.6,1489.3 589.2,1488.7 589.8,1490.1 590.4,1489.8 591.0,1489.4 591.6,1489.4 592.3,1489.6 592.9,1490.2 593.5,1490.2 594.1,1489.3 594.7,1490.3 595.3,1489.6 595.9,1491.1 596.5,1489.2 597.2,1490.7 597.8,1489.6 598.4,1490.3 599.0,1490.7 599.6,1490.3 600.2,1489.4 600.8,1489.1 601.4,1490.5 602.1,1489.3 602.7,1489.9 603.3,1489.9 603.9,1488.2 604.5,1489.7 605.1,1488.2 605.7,1487.7 606.3,1486.6 607.0,1486.3 607.6,1485.1 608.2,1483.6 608.8,1480.6 609.4,1475.2 610.0,1463.6 610.6,1442.5 611.3,1408.2 611.9,1366.6 612.5,1345.1 613.1,1367.0 613.7,1408.1 614.3,1442.1 614.9,1462.7 615.5,1474.6 616.2,1480.2 616.8,1482.2 617.4,1484.8 618.0,1486.4 618.6,1487.3 619.2,1487.1 619.8,1487.9 620.4,1487.7 621.1,1488.5 621.7,1487.0 622.3,1485.9 622.9,1482.2 623.5,1483.4 624.1,1485.1 624.7,1487.7 625.3,1489.9 626.0,1489.2 626.6,1489.8 627.2,1491.4 627.8,1491.2 628.4,1491.7 629.0,1491.1 629.6,1490.7 630.2,1491.4 630.9,1490.7 631.5,1490.9 632.1,1490.9 632.7,1490.5 633.3,1492.0 633.9,1491.2 634.5,1490.8 635.2,1490.6 635.8,1489.4 636.4,1488.3 637.0,1486.7 637.6,1485.0 638.2,1483.0 638.8,1485.5 639.4,1485.5 640.1,1487.8 640.7,1488.7 641.3,1490.1 641.9,1489.4 642.5,1490.8 643.1,1490.6 643.7,1490.5 644.3,1490.3 645.0,1489.5 645.6,1489.5 646.2,1488.6 646.8,1488.4 647.4,1488.3 648.0,1486.7 648.6,1486.2 649.2,1484.8 649.9,1483.5 650.5,1480.2 651.1,1474.1 651.7,1464.8 652.3,1449.0 652.9,1424.6 653.5,1395.3 654.1,1372.7 654.8,1372.2 655.4,1395.0 656.0,1424.2 656.6,1448.2 657.2,1463.7 657.8,1473.7 658.4,1479.3 659.1,1482.5 659.7,1484.8 660.3,1486.3 660.9,1486.7 661.5,1487.7 662.1,1487.6 662.7,1488.8 663.3,1489.3 664.0,1489.0 664.6,1488.5 665.2,1490.1 665.8,1487.4 666.4,1485.9 667.0,1480.8 667.6,1476.0 668.2,1469.9 668.9,1464.0 669.5,1461.7 670.1,1464.2 670.7,1469.7 671.3,1476.4 671.9,1482.4 672.5,1486.1 673.1,1488.5 673.8,1490.3 674.4,1490.8 675.0,1490.8 675.6,1491.7 676.2,1491.2 676.8,1491.0 677.4,1491.2 678.0,1490.0 678.7,1487.1 679.3,1484.9 679.9,1479.9 680.5,1477.6 681.1,1477.9 681.7,1481.2 682.3,1484.4 682.9,1488.0 683.6,1490.7 684.2,1492.4 684.8,1492.8 685.4,1492.5 686.0,1493.0 686.6,1492.0 687.2,1492.2 687.9,1492.8 688.5,1492.9 689.1,1491.7 689.7,1493.1 690.3,1492.1 690.9,1492.5 691.5,1491.9 692.1,1492.3 692.8,1492.9 693.4,1491.6 694.0,1491.7 694.6,1491.4 695.2,1490.6 695.8,1489.4 696.4,1486.3 697.0,1484.4 697.7,1481.4 698.3,1482.0 698.9,1482.7 699.5,1486.9 700.1,1488.4 700.7,1490.7 701.3,1491.0 701.9,1491.7 702.6,1492.0 703.2,1492.4 703.8,1492.7 704.4,1492.0 705.0,1493.0 705.6,1493.3 706.2,1492.1 706.8,1492.3 707.5,1492.5 708.1,1492.6 708.7,1494.0 709.3,1493.5 709.9,1492.5 710.5,1494.5 711.1,1493.6 711.8,1492.6 712.4,1492.4 713.0,1493.4 713.6,1492.4 714.2,1493.3 714.8,1493.7 715.4,1492.8 716.0,1492.9 716.7,1492.8 717.3,1493.9 717.9,1493.6 718.5,1493.5 719.1,1493.7 719.7,1493.3 720.3,1492.9 720.9,1493.4 721.6,1493.7 722.2,1493.1 722.8,1493.1 723.4,1492.7 724.0,1493.8 724.6,1493.4 725.2,1493.0 725.8,1492.8 726.5,1492.5 727.1,1491.7 727.7,1491.0 728.3,1488.9 728.9,1486.9 729.5,1483.9 730.1,1481.1 730.7,1480.3 731.4,1480.3 732.0,1482.1 732.6,1483.6 733.2,1486.1 733.8,1487.7 734.4,1490.3 735.0,1490.9 735.7,1492.3 736.3,1491.2 736.9,1492.0 737.5,1490.4 738.1,1490.3 738.7,1490.2 739.3,1488.4 739.9,1488.0 740.6,1487.5 741.2,1486.0 741.8,1487.9 742.4,1486.5 743.0,1487.8 743.6,1489.0 744.2,1490.0 744.8,1491.2 745.5,1492.1 746.1,1491.5 746.7,1492.6 747.3,1492.0 747.9,1493.4 748.5,1493.1 749.1,1493.7 749.7,1492.8 750.4,1493.1 751.0,1494.0 751.6,1494.1 752.2,1493.6 752.8,1493.6 753.4,1493.6 754.0,1493.6 754.6,1493.6 755.3,1495.2 755.9,1494.3 756.5,1493.1 757.1,1493.7 757.7,1493.4 758.3,1494.0 758.9,1495.0 759.5,1494.6 760.2,1494.0 760.8,1494.1 761.4,1493.8 762.0,1493.2 762.6,1493.3 763.2,1494.0 763.8,1492.4 764.5,1493.5 765.1,1493.6 765.7,1491.9 766.3,1491.9 766.9,1490.9 767.5,1490.3 768.1,1489.2 768.7,1489.8 769.4,1491.2 770.0,1490.8 770.6,1491.1 771.2,1492.6 771.8,1492.3 772.4,1491.7 773.0,1492.8 773.6,1494.0 774.3,1494.0 774.9,1493.4 775.5,1494.0 776.1,1493.5 776.7,1494.7 777.3,1493.8 777.9,1493.9 778.5,1493.3 779.2,1493.4 779.8,1492.9 780.4,1492.2 781.0,1491.2 781.6,1490.1 782.2,1488.4 782.8,1485.7 783.4,1480.9 784.1,1474.8 784.7,1466.7 785.3,1461.3 785.9,1459.8 786.5,1465.3 787.1,1471.8 787.7,1477.7 788.4,1481.6 789.0,1483.5 789.6,1484.9 790.2,1484.8 790.8,1485.0 791.4,1484.6 792.0,1485.1 792.6,1485.1 793.3,1485.9 793.9,1486.3 794.5,1486.9 795.1,1488.9 795.7,1488.5 796.3,1489.7 796.9,1488.8 797.5,1488.2 798.2,1486.8 798.8,1484.5 799.4,1482.1 800.0,1481.8 800.6,1481.0 801.2,1480.9 801.8,1483.3 802.4,1485.7 803.1,1488.8 803.7,1490.5 804.3,1491.7 804.9,1493.2 805.5,1493.4 806.1,1493.2 806.7,1493.1 807.3,1494.3 808.0,1493.0 808.6,1494.4 809.2,1492.8 809.8,1493.0 810.4,1493.4 811.0,1492.5 811.6,1491.7 812.3,1489.3 812.9,1489.0 813.5,1488.5 814.1,1488.3 814.7,1488.8 815.3,1490.3 815.9,1491.2 816.5,1491.7 817.2,1492.6 817.8,1493.3 818.4,1493.8 819.0,1493.9 819.6,1493.3 820.2,1494.2 820.8,1494.4 821.4,1495.0 822.1,1493.9 822.7,1494.6 823.3,1493.8 823.9,1494.7 824.5,1493.9 825.1,1494.0 825.7,1493.8 826.3,1493.8 827.0,1493.7 827.6,1492.8 828.2,1493.6 828.8,1492.5 829.4,1492.6 830.0,1492.7 830.6,1491.4 831.2,1490.0 831.9,1489.2 832.5,1485.8 833.1,1480.9 833.7,1474.1 834.3,1466.3 834.9,1460.5 835.5,1459.3 836.1,1464.6 836.8,1471.5 837.4,1478.5 838.0,1483.4 838.6,1485.1 839.2,1485.9 839.8,1487.2 840.4,1486.6 841.1,1486.4 841.7,1486.5 842.3,1487.1 842.9,1487.4 843.5,1487.2 844.1,1487.0 844.7,1488.6 845.3,1488.4 846.0,1489.0 846.6,1489.9 847.2,1490.3 847.8,1491.1 848.4,1492.8 849.0,1492.0 849.6,1492.8 850.2,1492.4 850.9,1493.0 851.5,1493.5 852.1,1493.9 852.7,1494.0 853.3,1494.0 853.9,1493.7 854.5,1494.9 855.1,1494.5 855.8,1493.9 856.4,1494.0 857.0,1493.9 857.6,1494.0 858.2,1493.6 858.8,1494.1 859.4,1493.8 860.0,1492.6 860.7,1491.8 861.3,1489.7 861.9,1488.4 862.5,1485.0 863.1,1482.8 863.7,1480.7 864.3,1479.2 865.0,1479.6 865.6,1482.2 866.2,1484.7 866.8,1487.5 867.4,1490.0 868.0,1491.6 868.6,1492.5 869.2,1494.3 869.9,1493.3 870.5,1494.6 871.1,1494.6 871.7,1493.9 872.3,1495.4 872.9,1495.1 873.5,1494.6 874.1,1494.7 874.8,1494.6 875.4,1494.9 876.0,1494.3 876.6,1495.2 877.2,1495.1 877.8,1494.4 878.4,1493.9 879.0,1495.2 879.7,1494.7 880.3,1494.2 880.9,1495.3 881.5,1494.7 882.1,1493.8 882.7,1495.1 883.3,1494.0 883.9,1493.6 884.6,1494.1 885.2,1494.4 885.8,1493.5 886.4,1495.5 887.0,1494.4 887.6,1494.1 888.2,1493.6 888.9,1493.4 889.5,1492.2 890.1,1491.6 890.7,1491.2 891.3,1489.1 891.9,1487.7 892.5,1485.7 893.1,1485.1 893.8,1483.4 894.4,1482.2 895.0,1482.4 895.6,1482.9 896.2,1484.3 896.8,1487.2 897.4,1486.4 898.0,1489.1 898.7,1490.6 899.3,1492.2 899.9,1491.7 900.5,1492.7 901.1,1493.4 901.7,1492.2 902.3,1493.1 902.9,1493.3 903.6,1490.9 904.2,1489.5 904.8,1490.3 905.4,1489.5 906.0,1491.0 906.6,1490.5 907.2,1491.3 907.8,1493.1 908.5,1493.9 909.1,1494.3 909.7,1495.3 910.3,1494.6 910.9,1494.5 911.5,1494.2 912.1,1494.4 912.7,1494.3 913.4,1494.2 914.0,1493.9 914.6,1493.1 915.2,1494.5 915.8,1494.4 916.4,1493.2 917.0,1494.3 917.7,1492.3 918.3,1493.2 918.9,1493.3 919.5,1492.8 920.1,1493.0 920.7,1492.9 921.3,1492.5 921.9,1491.6 922.6,1491.9 923.2,1490.4 923.8,1489.8 924.4,1489.2 925.0,1488.7 925.6,1488.3 926.2,1487.3 926.8,1486.6 927.5,1487.8 928.1,1486.8 928.7,1486.6 929.3,1486.0 929.9,1485.0 930.5,1486.1 931.1,1485.8 931.7,1484.8 932.4,1486.0 933.0,1484.8 933.6,1486.7 934.2,1486.1 934.8,1487.5 935.4,1487.1 936.0,1488.6 936.6,1488.7 937.3,1489.4 937.9,1489.8 938.5,1490.4 939.1,1491.0 939.7,1491.5 940.3,1490.4 940.9,1491.8 941.6,1492.1 942.2,1492.5 942.8,1492.9 943.4,1494.3 944.0,1493.8 944.6,1492.9 945.2,1493.6 945.8,1494.4 946.5,1493.3 947.1,1494.0 947.7,1493.5 948.3,1493.8 948.9,1493.3 949.5,1493.1 950.1,1492.5 950.7,1491.8 951.4,1492.3 952.0,1491.3 952.6,1490.6 953.2,1490.7 953.8,1489.5 954.4,1488.9 955.0,1488.7 955.6,1488.2 956.3,1488.0 956.9,1489.6 957.5,1488.6 958.1,1490.1 958.7,1490.3 959.3,1490.1 959.9,1491.2 960.5,1491.6 961.2,1492.5 961.8,1493.5 962.4,1493.0 963.0,1493.4 963.6,1493.6 964.2,1495.1 964.8,1494.6 965.5,1494.8 966.1,1494.8 966.7,1494.0 967.3,1495.3 967.9,1493.6 968.5,1492.7 969.1,1493.8 969.7,1492.5 970.4,1492.9 971.0,1492.3 971.6,1491.7 972.2,1491.9 972.8,1492.1 973.4,1491.8 974.0,1492.1 974.6,1492.4 975.3,1493.4 975.9,1493.7 976.5,1493.9 977.1,1494.4 977.7,1496.3 978.3,1495.5 978.9,1494.6 979.5,1496.3 980.2,1494.5 980.8,1495.4 981.4,1495.0 982.0,1495.0 982.6,1495.3 983.2,1495.8 983.8,1496.1 984.4,1494.6 985.1,1495.3 985.7,1495.0 986.3,1495.6 986.9,1495.6 987.5,1494.4 988.1,1494.3 988.7,1494.0 989.3,1494.4 990.0,1493.2 990.6,1492.5 991.2,1492.1 991.8,1491.6 992.4,1491.8 993.0,1492.7 993.6,1491.1 994.3,1492.0 994.9,1493.1 995.5,1492.3 996.1,1494.1 996.7,1494.6 997.3,1494.7 997.9,1494.2 998.5,1496.0 999.2,1495.2 999.8,1495.0 1000.4,1495.6 1001.0,1494.1 1001.6,1494.3 1002.2,1493.5 1002.8,1494.0 1003.4,1493.8 1004.1,1493.0 1004.7,1492.5 1005.3,1492.3 1005.9,1491.0 1006.5,1490.4 1007.1,1489.2 1007.7,1489.6 1008.3,1488.5 1009.0,1489.1 1009.6,1487.8 1010.2,1488.4 1010.8,1488.5 1011.4,1488.1 1012.0,1489.7 1012.6,1490.2 1013.2,1491.2 1013.9,1491.9 1014.5,1492.0 1015.1,1493.6 1015.7,1493.6 1016.3,1494.3 1016.9,1493.3 1017.5,1493.7 1018.2,1494.1 1018.8,1495.2 1019.4,1495.4 1020.0,1495.9 1020.6,1495.7 1021.2,1494.9 1021.8,1495.6 1022.4,1496.6 1023.1,1496.4 1023.7,1495.1 1024.3,1495.7 1024.9,1495.1 1025.5,1496.1 1026.1,1496.3 1026.7,1496.2 1027.3,1495.1 1028.0,1495.3 1028.6,1495.3 1029.2,1496.1 1029.8,1495.1 1030.4,1494.8 1031.0,1494.5 1031.6,1494.2 1032.2,1493.3 1032.9,1492.8 1033.5,1492.8 1034.1,1492.6 1034.7,1492.2 1035.3,1492.7 1035.9,1492.3 1036.5,1492.8 1037.1,1492.2 1037.8,1491.6 1038.4,1492.8 1039.0,1493.9 1039.6,1493.9 1040.2,1492.9 1040.8,1494.2 1041.4,1494.5 1042.1,1495.0 1042.7,1495.0 1043.3,1495.5 1043.9,1495.4 1044.5,1495.6 1045.1,1496.4 1045.7,1496.2 1046.3,1496.0 1047.0,1495.4 1047.6,1495.7 1048.2,1495.9 1048.8,1496.4 1049.4,1495.4 1050.0,1496.4 1050.6,1497.0 1051.2,1496.4 1051.9,1495.6 1052.5,1496.8 1053.1,1496.3 1053.7,1496.6 1054.3,1496.8 1054.9,1496.6 1055.5,1496.2 1056.1,1495.8 1056.8,1497.4 1057.4,1495.9 1058.0,1496.7 1058.6,1495.8 1059.2,1496.9 1059.8,1497.3 1060.4,1496.7 1061.0,1495.9 1061.7,1496.1 1062.3,1497.0 1062.9,1497.0 1063.5,1496.5 1064.1,1496.3 1064.7,1497.0 1065.3,1496.4 1065.9,1496.2 1066.6,1496.4 1067.2,1496.1 1067.8,1496.4 1068.4,1496.3 1069.0,1495.6 1069.6,1493.9 1070.2,1494.8 1070.9,1494.1 1071.5,1493.4 1072.1,1493.2 1072.7,1493.6 1073.3,1491.7 1073.9,1491.7 1074.5,1491.0 1075.1,1490.2 1075.8,1489.9 1076.4,1490.7 1077.0,1489.8 1077.6,1491.6 1078.2,1490.8 1078.8,1491.5 1079.4,1492.1 1080.0,1491.6 1080.7,1493.5 1081.3,1493.5 1081.9,1493.9 1082.5,1494.7 1083.1,1494.9 1083.7,1495.1 1084.3,1494.7 1084.9,1495.5 1085.6,1496.1 1086.2,1495.5 1086.8,1496.4 1087.4,1495.9 1088.0,1496.4 1088.6,1496.2 1089.2,1495.7 1089.8,1496.1 1090.5,1496.0 1091.1,1495.9 1091.7,1495.9 1092.3,1495.2 1092.9,1496.2 1093.5,1496.2 1094.1,1495.8 1094.8,1495.5 1095.4,1496.7 1096.0,1496.5 1096.6,1496.9 1097.2,1496.9 1097.8,1495.9 1098.4,1496.4 1099.0,1496.3 1099.7,1496.8 1100.3,1495.9 1100.9,1495.9 1101.5,1497.0 1102.1,1495.8 1102.7,1496.4 1103.3,1496.5 1103.9,1495.7 1104.6,1496.0 1105.2,1496.0 1105.8,1496.1 1106.4,1495.9 1107.0,1496.9 1107.6,1496.2 1108.2,1496.9 1108.8,1496.8 1109.5,1495.5 1110.1,1496.8 1110.7,1496.1 1111.3,1496.8 1111.9,1496.9 1112.5,1497.1 1113.1,1496.9 1113.7,1496.3 1114.4,1496.1 1115.0,1496.5 1115.6,1496.5 1116.2,1496.4 1116.8,1496.3 1117.4,1496.7 1118.0,1496.2 1118.7,1496.5 1119.3,1496.5 1119.9,1497.0 1120.5,1496.1 1121.1,1496.1 1121.7,1496.0 1122.3,1496.8 1122.9,1496.6 1123.6,1496.2 1124.2,1497.2 1124.8,1495.9 1125.4,1496.7 1126.0,1496.5 1126.6,1496.1 1127.2,1495.7 1127.8,1495.8 1128.5,1496.5 1129.1,1495.3 1129.7,1495.7 1130.3,1495.3 1130.9,1495.5 1131.5,1494.9 1132.1,1494.8 1132.7,1494.2 1133.4,1494.6 1134.0,1493.9 1134.6,1494.0 1135.2,1492.9 1135.8,1493.0 1136.4,1493.3 1137.0,1493.1 1137.6,1493.4 1138.3,1493.3 1138.9,1494.1 1139.5,1494.3 1140.1,1494.8 1140.7,1494.9 1141.3,1495.4 1141.9,1495.7 1142.5,1495.5 1143.2,1495.3 1143.8,1495.7 1144.4,1495.9 1145.0,1495.6 1145.6,1495.9 1146.2,1496.7 1146.8,1496.6 1147.5,1495.9 1148.1,1495.8 1148.7,1496.1 1149.3,1495.5 1149.9,1496.9 1150.5,1496.6 1151.1,1495.8 1151.7,1496.3 1152.4,1496.0 1153.0,1497.0 1153.6,1495.8 1154.2,1496.1 1154.8,1497.2 1155.4,1497.2 1156.0,1497.2 1156.6,1496.6 1157.3,1496.2 1157.9,1496.0 1158.5,1496.8 1159.1,1496.0 1159.7,1496.4 1160.3,1496.4 1160.9,1496.9 1161.5,1496.1 1162.2,1496.9 1162.8,1496.2 1163.4,1496.2 1164.0,1495.9 1164.6,1496.6 1165.2,1496.4 1165.8,1496.5 1166.4,1496.3 1167.1,1496.5 1167.7,1497.3 1168.3,1496.7 1168.9,1497.0"/></g>
<g clip-path="url(#cbB)" fill="none" stroke="#000" stroke-width="2" stroke-linejoin="round"><path d="M1206.5,1482.3 1207.1,1482.1 1207.7,1481.7 1208.3,1481.9 1209.0,1481.2 1209.6,1480.5 1210.2,1482.2 1210.8,1481.5 1211.4,1480.1 1212.0,1480.5 1212.7,1480.7 1213.3,1481.1 1213.9,1481.5 1214.5,1480.9 1215.1,1480.4 1215.7,1480.8 1216.3,1480.4 1217.0,1480.5 1217.6,1480.0 1218.2,1479.6 1218.8,1480.8 1219.4,1479.9 1220.0,1480.0 1220.7,1479.5 1221.3,1479.5 1221.9,1479.5 1222.5,1479.9 1223.1,1480.1 1223.7,1479.6 1224.4,1479.0 1225.0,1480.6 1225.6,1479.5 1226.2,1479.5 1226.8,1478.6 1227.4,1478.7 1228.0,1479.0 1228.7,1477.7 1229.3,1478.1 1229.9,1478.6 1230.5,1479.5 1231.1,1478.4 1231.7,1477.6 1232.4,1477.4 1233.0,1478.4 1233.6,1477.4 1234.2,1477.5 1234.8,1478.6 1235.4,1477.5 1236.0,1477.2 1236.7,1476.9 1237.3,1477.8 1237.9,1477.7 1238.5,1476.6 1239.1,1476.1 1239.7,1476.7 1240.4,1477.3 1241.0,1476.7 1241.6,1475.8 1242.2,1476.5 1242.8,1476.6 1243.4,1476.1 1244.1,1476.0 1244.7,1475.8 1245.3,1475.5 1245.9,1475.3 1246.5,1474.8 1247.1,1474.8 1247.7,1474.4 1248.4,1475.3 1249.0,1475.2 1249.6,1474.9 1250.2,1475.0 1250.8,1474.6 1251.4,1474.1 1252.1,1474.5 1252.7,1474.1 1253.3,1474.0 1253.9,1472.9 1254.5,1473.5 1255.1,1473.9 1255.7,1473.3 1256.4,1472.9 1257.0,1472.4 1257.6,1472.7 1258.2,1473.6 1258.8,1472.5 1259.4,1473.1 1260.1,1472.2 1260.7,1472.8 1261.3,1471.8 1261.9,1472.1 1262.5,1472.1 1263.1,1471.9 1263.8,1470.9 1264.4,1471.0 1265.0,1470.6 1265.6,1470.8 1266.2,1470.5 1266.8,1470.3 1267.4,1470.5 1268.1,1469.4 1268.7,1469.3 1269.3,1469.2 1269.9,1469.1 1270.5,1468.6 1271.1,1468.9 1271.8,1467.8 1272.4,1469.0 1273.0,1467.8 1273.6,1468.0 1274.2,1466.6 1274.8,1466.6 1275.4,1466.5 1276.1,1466.9 1276.7,1465.7 1277.3,1466.0 1277.9,1464.5 1278.5,1465.2 1279.1,1463.7 1279.8,1462.8 1280.4,1462.2 1281.0,1462.9 1281.6,1462.2 1282.2,1461.9 1282.8,1461.3 1283.4,1461.0 1284.1,1461.1 1284.7,1459.6 1285.3,1459.2 1285.9,1458.2 1286.5,1456.8 1287.1,1456.8 1287.8,1456.8 1288.4,1454.8 1289.0,1455.3 1289.6,1453.3 1290.2,1452.0 1290.8,1450.8 1291.5,1448.7 1292.1,1446.8 1292.7,1445.1 1293.3,1441.3 1293.9,1438.1 1294.5,1433.4 1295.1,1428.8 1295.8,1423.7 1296.4,1414.5 1297.0,1403.3 1297.6,1390.4 1298.2,1376.3 1298.8,1357.9 1299.5,1335.4 1300.1,1310.8 1300.7,1280.8 1301.3,1247.6 1301.9,1210.6 1302.5,1170.4 1303.1,1126.8 1303.8,1082.2 1304.4,1038.5 1305.0,994.3 1305.6,953.7 1306.2,919.8 1306.8,900.0 1307.5,900.0 1308.1,900.0 1308.7,900.0 1309.3,900.0 1309.9,918.9 1310.5,954.1 1311.2,993.7 1311.8,1037.6 1312.4,1082.3 1313.0,1126.9 1313.6,1169.4 1314.2,1209.0 1314.8,1246.6 1315.5,1280.1 1316.1,1309.6 1316.7,1335.6 1317.3,1356.3 1317.9,1375.1 1318.5,1390.1 1319.2,1402.4 1319.8,1413.3 1320.4,1420.8 1321.0,1428.6 1321.6,1431.6 1322.2,1437.8 1322.8,1440.3 1323.5,1442.5 1324.1,1445.5 1324.7,1447.4 1325.3,1449.4 1325.9,1450.9 1326.5,1451.1 1327.2,1452.6 1327.8,1453.7 1328.4,1454.5 1329.0,1455.0 1329.6,1456.6 1330.2,1456.7 1330.9,1456.5 1331.5,1457.9 1332.1,1458.1 1332.7,1458.6 1333.3,1459.6 1333.9,1460.0 1334.5,1460.2 1335.2,1460.6 1335.8,1461.2 1336.4,1460.8 1337.0,1461.4 1337.6,1462.3 1338.2,1461.6 1338.9,1461.9 1339.5,1462.1 1340.1,1463.2 1340.7,1462.6 1341.3,1463.6 1341.9,1463.0 1342.5,1463.5 1343.2,1463.7 1343.8,1463.5 1344.4,1463.4 1345.0,1464.5 1345.6,1464.0 1346.2,1464.6 1346.9,1464.8 1347.5,1463.9 1348.1,1465.3 1348.7,1464.9 1349.3,1464.8 1349.9,1464.9 1350.6,1464.9 1351.2,1465.4 1351.8,1466.4 1352.4,1465.4 1353.0,1465.0 1353.6,1465.5 1354.2,1466.8 1354.9,1465.9 1355.5,1466.9 1356.1,1465.6 1356.7,1465.7 1357.3,1465.6 1357.9,1465.7 1358.6,1466.3 1359.2,1466.4 1359.8,1465.5 1360.4,1466.0 1361.0,1466.1 1361.6,1466.4 1362.2,1467.3 1362.9,1467.5 1363.5,1467.0 1364.1,1467.2 1364.7,1466.5 1365.3,1467.1 1365.9,1466.1 1366.6,1467.0 1367.2,1467.2 1367.8,1467.5 1368.4,1467.0 1369.0,1467.1 1369.6,1466.7 1370.2,1466.1 1370.9,1466.9 1371.5,1466.3 1372.1,1467.0 1372.7,1467.1 1373.3,1466.5 1373.9,1466.3 1374.6,1467.1 1375.2,1466.9 1375.8,1467.4 1376.4,1467.6 1377.0,1467.9 1377.6,1467.5 1378.3,1466.5 1378.9,1466.9 1379.5,1467.9 1380.1,1466.3 1380.7,1466.4 1381.3,1467.1 1381.9,1466.6 1382.6,1465.7 1383.2,1466.0 1383.8,1465.2 1384.4,1465.6 1385.0,1464.6 1385.6,1464.1 1386.3,1463.5 1386.9,1461.3 1387.5,1460.9 1388.1,1459.1 1388.7,1456.1 1389.3,1451.6 1389.9,1446.1 1390.6,1439.0 1391.2,1428.1 1391.8,1414.3 1392.4,1399.3 1393.0,1380.7 1393.6,1360.8 1394.3,1340.7 1394.9,1324.9 1395.5,1312.3 1396.1,1308.8 1396.7,1313.7 1397.3,1325.6 1398.0,1341.9 1398.6,1361.7 1399.2,1382.3 1399.8,1401.0 1400.4,1416.6 1401.0,1430.0 1401.6,1441.6 1402.3,1449.7 1402.9,1455.1 1403.5,1459.2 1404.1,1462.8 1404.7,1464.2 1405.3,1466.6 1406.0,1467.8 1406.6,1469.3 1407.2,1469.8 1407.8,1469.3 1408.4,1471.8 1409.0,1471.7 1409.6,1470.9 1410.3,1471.5 1410.9,1473.1 1411.5,1472.4 1412.1,1473.8 1412.7,1473.2 1413.3,1473.2 1414.0,1475.1 1414.6,1475.4 1415.2,1474.6 1415.8,1475.8 1416.4,1475.4 1417.0,1475.7 1417.7,1475.5 1418.3,1476.1 1418.9,1476.7 1419.5,1476.8 1420.1,1477.3 1420.7,1477.3 1421.3,1476.8 1422.0,1476.3 1422.6,1477.1 1423.2,1477.0 1423.8,1476.5 1424.4,1476.0 1425.0,1476.0 1425.7,1475.3 1426.3,1475.0 1426.9,1474.6 1427.5,1473.5 1428.1,1470.4 1428.7,1466.4 1429.3,1461.6 1430.0,1455.8 1430.6,1449.6 1431.2,1442.1 1431.8,1435.1 1432.4,1432.6 1433.0,1431.9 1433.7,1436.2 1434.3,1442.9 1434.9,1449.8 1435.5,1457.3 1436.1,1464.4 1436.7,1468.6 1437.3,1473.5 1438.0,1476.2 1438.6,1478.1 1439.2,1478.7 1439.8,1480.6 1440.4,1481.0 1441.0,1481.7 1441.7,1481.7 1442.3,1482.7 1442.9,1481.7 1443.5,1482.8 1444.1,1483.3 1444.7,1484.5 1445.4,1482.5 1446.0,1482.9 1446.6,1483.5 1447.2,1483.9 1447.8,1483.5 1448.4,1484.4 1449.0,1484.1 1449.7,1484.4 1450.3,1483.8 1450.9,1484.7 1451.5,1484.7 1452.1,1485.5 1452.7,1485.2 1453.4,1485.7 1454.0,1485.2 1454.6,1484.7 1455.2,1485.5 1455.8,1484.5 1456.4,1484.7 1457.0,1485.1 1457.7,1485.9 1458.3,1486.1 1458.9,1484.8 1459.5,1485.5 1460.1,1486.3 1460.7,1485.6 1461.4,1485.0 1462.0,1485.9 1462.6,1486.6 1463.2,1485.7 1463.8,1485.7 1464.4,1487.1 1465.1,1486.4 1465.7,1485.5 1466.3,1486.5 1466.9,1486.7 1467.5,1485.9 1468.1,1486.2 1468.7,1486.4 1469.4,1486.1 1470.0,1486.6 1470.6,1486.4 1471.2,1486.0 1471.8,1486.1 1472.4,1484.9 1473.1,1484.3 1473.7,1483.6 1474.3,1483.5 1474.9,1482.6 1475.5,1482.4 1476.1,1482.3 1476.7,1481.9 1477.4,1480.8 1478.0,1480.1 1478.6,1479.4 1479.2,1479.1 1479.8,1478.4 1480.4,1478.3 1481.1,1478.2 1481.7,1479.1 1482.3,1480.0 1482.9,1480.4 1483.5,1481.3 1484.1,1482.9 1484.8,1482.8 1485.4,1483.6 1486.0,1483.9 1486.6,1484.6 1487.2,1484.3 1487.8,1485.4 1488.4,1485.8 1489.1,1486.1 1489.7,1485.1 1490.3,1485.9 1490.9,1486.8 1491.5,1486.6 1492.1,1485.5 1492.8,1485.9 1493.4,1485.7 1494.0,1486.5 1494.6,1486.8 1495.2,1486.2 1495.8,1485.5 1496.4,1486.5 1497.1,1485.4 1497.7,1486.9 1498.3,1485.9 1498.9,1485.9 1499.5,1485.9 1500.1,1486.4 1500.8,1486.5 1501.4,1486.6 1502.0,1486.4 1502.6,1486.4 1503.2,1486.9 1503.8,1487.1 1504.5,1486.6 1505.1,1486.7 1505.7,1486.8 1506.3,1486.3 1506.9,1486.1 1507.5,1485.7 1508.1,1486.2 1508.8,1487.2 1509.4,1486.0 1510.0,1485.7 1510.6,1486.3 1511.2,1486.5 1511.8,1486.5 1512.5,1485.9 1513.1,1486.5 1513.7,1486.0 1514.3,1486.0 1514.9,1486.1 1515.5,1485.7 1516.1,1485.9 1516.8,1486.5 1517.4,1485.6 1518.0,1485.9 1518.6,1486.3 1519.2,1486.2 1519.8,1486.1 1520.5,1485.4 1521.1,1485.3 1521.7,1485.8 1522.3,1485.6 1522.9,1484.9 1523.5,1485.7 1524.1,1485.9 1524.8,1486.4 1525.4,1485.5 1526.0,1485.4 1526.6,1485.0 1527.2,1485.4 1527.8,1485.0 1528.5,1486.0 1529.1,1484.5 1529.7,1485.2 1530.3,1484.2 1530.9,1483.4 1531.5,1483.8 1532.2,1483.3 1532.8,1483.4 1533.4,1482.4 1534.0,1481.5 1534.6,1480.6 1535.2,1479.9 1535.8,1479.6 1536.5,1479.3 1537.1,1478.4 1537.7,1478.2 1538.3,1478.6 1538.9,1478.1 1539.5,1478.7 1540.2,1478.9 1540.8,1479.1 1541.4,1480.6 1542.0,1480.9 1542.6,1480.8 1543.2,1480.6 1543.8,1481.7 1544.5,1481.8 1545.1,1482.0 1545.7,1482.3 1546.3,1482.1 1546.9,1483.6 1547.5,1482.8 1548.2,1482.4 1548.8,1482.6 1549.4,1482.1 1550.0,1481.8 1550.6,1481.7 1551.2,1482.1 1551.9,1482.3 1552.5,1482.3 1553.1,1481.5 1553.7,1481.2 1554.3,1479.9 1554.9,1479.5 1555.5,1479.8 1556.2,1479.9 1556.8,1479.6 1557.4,1478.2 1558.0,1477.0 1558.6,1476.7 1559.2,1476.0 1559.9,1474.7 1560.5,1474.1 1561.1,1473.7 1561.7,1472.1 1562.3,1471.5 1562.9,1471.8 1563.5,1470.5 1564.2,1470.1 1564.8,1469.3 1565.4,1470.0 1566.0,1469.0 1566.6,1470.7 1567.2,1470.5 1567.9,1470.6 1568.5,1471.3 1569.1,1472.2 1569.7,1471.8 1570.3,1473.4 1570.9,1474.1 1571.6,1473.9 1572.2,1475.1 1572.8,1475.9 1573.4,1474.9 1574.0,1475.5 1574.6,1476.4 1575.2,1477.3 1575.9,1476.1 1576.5,1476.5 1577.1,1476.1 1577.7,1476.5 1578.3,1476.7 1578.9,1476.1 1579.6,1476.7 1580.2,1477.9 1580.8,1477.0 1581.4,1476.1 1582.0,1476.2 1582.6,1475.3 1583.2,1475.7 1583.9,1475.5 1584.5,1475.2 1585.1,1474.5 1585.7,1476.1 1586.3,1475.5 1586.9,1474.6 1587.6,1475.4 1588.2,1475.3 1588.8,1474.1 1589.4,1475.2 1590.0,1473.3 1590.6,1474.6 1591.2,1473.5 1591.9,1473.9 1592.5,1472.4 1593.1,1473.0 1593.7,1472.9 1594.3,1472.3 1594.9,1471.0 1595.6,1470.0 1596.2,1468.3 1596.8,1467.1 1597.4,1465.8 1598.0,1463.5 1598.6,1462.4 1599.3,1460.2 1599.9,1458.7 1600.5,1457.2 1601.1,1455.2 1601.7,1453.7 1602.3,1453.8 1602.9,1453.2 1603.6,1454.0 1604.2,1455.0 1604.8,1455.7 1605.4,1458.1 1606.0,1458.9 1606.6,1461.2 1607.3,1463.3 1607.9,1464.8 1608.5,1466.0 1609.1,1468.0 1609.7,1468.1 1610.3,1469.1 1610.9,1470.2 1611.6,1469.3 1612.2,1470.4 1612.8,1471.2 1613.4,1471.2 1614.0,1470.8 1614.6,1471.4 1615.3,1471.5 1615.9,1471.3 1616.5,1471.8 1617.1,1470.6 1617.7,1471.5 1618.3,1471.0 1619.0,1470.9 1619.6,1470.1 1620.2,1472.1 1620.8,1469.6 1621.4,1470.8 1622.0,1470.6 1622.6,1471.5 1623.3,1470.3 1623.9,1470.4 1624.5,1470.5 1625.1,1470.6 1625.7,1470.7 1626.3,1470.3 1627.0,1468.8 1627.6,1469.4 1628.2,1470.0 1628.8,1469.8 1629.4,1469.8 1630.0,1468.8 1630.6,1468.8 1631.3,1468.7 1631.9,1468.8 1632.5,1468.7 1633.1,1467.8 1633.7,1468.1 1634.3,1467.1 1635.0,1466.8 1635.6,1465.3 1636.2,1464.7 1636.8,1465.0 1637.4,1463.1 1638.0,1462.7 1638.7,1460.8 1639.3,1457.4 1639.9,1455.3 1640.5,1452.0 1641.1,1447.6 1641.7,1441.6 1642.3,1436.7 1643.0,1429.4 1643.6,1420.7 1644.2,1412.1 1644.8,1402.2 1645.4,1393.0 1646.0,1381.4 1646.7,1370.3 1647.3,1361.0 1647.9,1351.8 1648.5,1347.0 1649.1,1343.4 1649.7,1344.0 1650.3,1346.4 1651.0,1353.0 1651.6,1361.1 1652.2,1369.3 1652.8,1380.0 1653.4,1390.7 1654.0,1400.7 1654.7,1409.9 1655.3,1418.8 1655.9,1426.5 1656.5,1433.4 1657.1,1438.3 1657.7,1442.8 1658.4,1446.6 1659.0,1448.6 1659.6,1449.6 1660.2,1450.2 1660.8,1451.1 1661.4,1450.3 1662.0,1450.4 1662.7,1449.0 1663.3,1447.1 1663.9,1446.8 1664.5,1444.5 1665.1,1443.7 1665.7,1441.9 1666.4,1440.5 1667.0,1438.0 1667.6,1437.4 1668.2,1436.7 1668.8,1437.5 1669.4,1436.4 1670.0,1436.4 1670.7,1437.4 1671.3,1437.6 1671.9,1438.9 1672.5,1440.1 1673.1,1442.3 1673.7,1443.0 1674.4,1445.2 1675.0,1448.7 1675.6,1450.7 1676.2,1452.3 1676.8,1454.0 1677.4,1456.8 1678.0,1458.3 1678.7,1458.8 1679.3,1461.0 1679.9,1462.6 1680.5,1463.2 1681.1,1463.5 1681.7,1465.2 1682.4,1466.3 1683.0,1467.1 1683.6,1467.0 1684.2,1468.0 1684.8,1468.2 1685.4,1468.9 1686.1,1468.3 1686.7,1468.8 1687.3,1469.6 1687.9,1470.0 1688.5,1469.7 1689.1,1470.2 1689.7,1470.1 1690.4,1469.7 1691.0,1470.9 1691.6,1469.8 1692.2,1469.8 1692.8,1470.4 1693.4,1470.8 1694.1,1470.7 1694.7,1470.2 1695.3,1469.9 1695.9,1470.9 1696.5,1470.8 1697.1,1470.3 1697.7,1470.5 1698.4,1471.5 1699.0,1471.3 1699.6,1469.7 1700.2,1470.6 1700.8,1471.6 1701.4,1470.8 1702.1,1470.0 1702.7,1470.5 1703.3,1471.7 1703.9,1470.7 1704.5,1471.5 1705.1,1470.6 1705.8,1471.7 1706.4,1471.1 1707.0,1471.4 1707.6,1471.3 1708.2,1471.1 1708.8,1470.0 1709.4,1471.9 1710.1,1471.9 1710.7,1471.7 1711.3,1471.9 1711.9,1471.1 1712.5,1471.8 1713.1,1470.7 1713.8,1470.7 1714.4,1471.6 1715.0,1470.5 1715.6,1471.9 1716.2,1471.4 1716.8,1471.6 1717.4,1471.1 1718.1,1471.7 1718.7,1471.9 1719.3,1470.9 1719.9,1471.1 1720.5,1471.8 1721.1,1470.8 1721.8,1471.7 1722.4,1470.9 1723.0,1471.1 1723.6,1471.6 1724.2,1471.5 1724.8,1470.6 1725.5,1471.9 1726.1,1470.7 1726.7,1470.5 1727.3,1471.1 1727.9,1470.6 1728.5,1471.4 1729.1,1470.0 1729.8,1469.2 1730.4,1468.8 1731.0,1469.4 1731.6,1469.6 1732.2,1469.6 1732.8,1469.5 1733.5,1469.6 1734.1,1468.7 1734.7,1468.3 1735.3,1470.0 1735.9,1469.6 1736.5,1468.0 1737.1,1468.3 1737.8,1467.9 1738.4,1469.0 1739.0,1468.7 1739.6,1467.0 1740.2,1468.2 1740.8,1467.9 1741.5,1468.5 1742.1,1468.2 1742.7,1468.8 1743.3,1468.5 1743.9,1469.6 1744.5,1469.1 1745.1,1470.1 1745.8,1469.1 1746.4,1470.3 1747.0,1470.6 1747.6,1470.6 1748.2,1470.6 1748.8,1470.4 1749.5,1470.9 1750.1,1470.8 1750.7,1472.0 1751.3,1471.9 1751.9,1472.2 1752.5,1472.5 1753.2,1471.6 1753.8,1472.0 1754.4,1472.1 1755.0,1472.1 1755.6,1472.1 1756.2,1472.0 1756.8,1472.4 1757.5,1473.8 1758.1,1472.9 1758.7,1472.9 1759.3,1472.9 1759.9,1472.1 1760.5,1472.9 1761.2,1472.6 1761.8,1472.7 1762.4,1472.3 1763.0,1473.5 1763.6,1471.7 1764.2,1472.3 1764.8,1472.0 1765.5,1472.1 1766.1,1472.9 1766.7,1472.9 1767.3,1472.3 1767.9,1471.4 1768.5,1472.3 1769.2,1471.7 1769.8,1470.6 1770.4,1471.7 1771.0,1471.1 1771.6,1471.0 1772.2,1471.2 1772.9,1471.3 1773.5,1469.7 1774.1,1470.1 1774.7,1469.9 1775.3,1469.5 1775.9,1469.0 1776.5,1469.4 1777.2,1467.9 1777.8,1467.8 1778.4,1468.4 1779.0,1467.1 1779.6,1467.1 1780.2,1467.2 1780.9,1465.5 1781.5,1464.6 1782.1,1463.6 1782.7,1464.6 1783.3,1464.3 1783.9,1463.7 1784.5,1464.1 1785.2,1464.3 1785.8,1463.6 1786.4,1463.0 1787.0,1462.4 1787.6,1463.2 1788.2,1463.5 1788.9,1464.1 1789.5,1463.1 1790.1,1463.4 1790.7,1463.0 1791.3,1464.1 1791.9,1465.3 1792.6,1465.7 1793.2,1465.4 1793.8,1465.3 1794.4,1466.4 1795.0,1466.0 1795.6,1466.4 1796.2,1468.4 1796.9,1466.9 1797.5,1467.6 1798.1,1467.8 1798.7,1468.4 1799.3,1467.8 1799.9,1468.2 1800.6,1469.1 1801.2,1468.2 1801.8,1468.2 1802.4,1468.2 1803.0,1467.8 1803.6,1467.5 1804.2,1468.7 1804.9,1467.8 1805.5,1467.9 1806.1,1468.6 1806.7,1468.1 1807.3,1467.1 1807.9,1467.9 1808.6,1467.3 1809.2,1466.7 1809.8,1467.7 1810.4,1466.2 1811.0,1466.0 1811.6,1466.0 1812.3,1465.6 1812.9,1465.2 1813.5,1464.6 1814.1,1464.2 1814.7,1464.2 1815.3,1463.3 1815.9,1463.1 1816.6,1463.1 1817.2,1462.7 1817.8,1461.8 1818.4,1461.2 1819.0,1461.9 1819.6,1459.9 1820.3,1460.4 1820.9,1460.0 1821.5,1458.7 1822.1,1458.5 1822.7,1459.6 1823.3,1458.8 1823.9,1458.0 1824.6,1457.8 1825.2,1457.8 1825.8,1456.7 1826.4,1457.8 1827.0,1456.1 1827.6,1457.1 1828.3,1456.6 1828.9,1456.5 1829.5,1457.1 1830.1,1456.6 1830.7,1457.7 1831.3,1457.9 1831.9,1458.2 1832.6,1457.9 1833.2,1457.4 1833.8,1458.4 1834.4,1457.5 1835.0,1459.8 1835.6,1459.5 1836.3,1459.7 1836.9,1458.7 1837.5,1460.8 1838.1,1460.6 1838.7,1461.1 1839.3,1461.0 1840.0,1460.5 1840.6,1462.2 1841.2,1463.1 1841.8,1463.0 1842.4,1464.2 1843.0,1464.8 1843.6,1464.5 1844.3,1465.5 1844.9,1465.1 1845.5,1465.5 1846.1,1465.9 1846.7,1466.5 1847.3,1467.6 1848.0,1467.2 1848.6,1467.4 1849.2,1468.2 1849.8,1467.6 1850.4,1468.2 1851.0,1469.5 1851.6,1470.0 1852.3,1470.3 1852.9,1469.3 1853.5,1470.1 1854.1,1470.3 1854.7,1471.0 1855.3,1471.0 1856.0,1470.6 1856.6,1470.2 1857.2,1471.2 1857.8,1470.8 1858.4,1472.4 1859.0,1471.8 1859.7,1472.8 1860.3,1472.3 1860.9,1471.7 1861.5,1471.6 1862.1,1470.9 1862.7,1472.3 1863.3,1473.2 1864.0,1471.9 1864.6,1472.1 1865.2,1471.8 1865.8,1471.9 1866.4,1472.6 1867.0,1472.8 1867.7,1471.7 1868.3,1472.2 1868.9,1470.8 1869.5,1471.6 1870.1,1471.8 1870.7,1472.5 1871.3,1471.7 1872.0,1472.7 1872.6,1471.5 1873.2,1471.4 1873.8,1471.2 1874.4,1471.1 1875.0,1470.2 1875.7,1470.8 1876.3,1470.9 1876.9,1471.2 1877.5,1470.7 1878.1,1470.0 1878.7,1470.5 1879.4,1468.9 1880.0,1469.4 1880.6,1469.8 1881.2,1469.2 1881.8,1469.1 1882.4,1468.3 1883.0,1467.9 1883.7,1468.5 1884.3,1468.9 1884.9,1468.0 1885.5,1468.2 1886.1,1468.5 1886.7,1467.3 1887.4,1468.4 1888.0,1467.9 1888.6,1467.4 1889.2,1468.1 1889.8,1468.2 1890.4,1467.6 1891.0,1468.3 1891.7,1467.9 1892.3,1468.8 1892.9,1468.3 1893.5,1468.6 1894.1,1469.0 1894.7,1468.7 1895.4,1469.7 1896.0,1469.6 1896.6,1470.8 1897.2,1470.5 1897.8,1470.6 1898.4,1470.6 1899.0,1471.1 1899.7,1471.5 1900.3,1471.2 1900.9,1472.1 1901.5,1472.7 1902.1,1472.2 1902.7,1473.1 1903.4,1473.3 1904.0,1473.2 1904.6,1472.8 1905.2,1473.7 1905.8,1473.8 1906.4,1473.7 1907.1,1473.9 1907.7,1475.3 1908.3,1474.6 1908.9,1474.8 1909.5,1474.7 1910.1,1475.4 1910.7,1475.6 1911.4,1475.3 1912.0,1475.7 1912.6,1475.1 1913.2,1476.0 1913.8,1476.1 1914.4,1476.3 1915.1,1476.0 1915.7,1476.1 1916.3,1476.6 1916.9,1476.5 1917.5,1475.8 1918.1,1476.5 1918.7,1477.8 1919.4,1476.8 1920.0,1477.0 1920.6,1477.0 1921.2,1477.0 1921.8,1477.0 1922.4,1476.8 1923.1,1477.3 1923.7,1477.1 1924.3,1477.1 1924.9,1477.7 1925.5,1477.0 1926.1,1477.0 1926.8,1477.0 1927.4,1476.5 1928.0,1477.8 1928.6,1477.4 1929.2,1476.8 1929.8,1478.0 1930.4,1477.6 1931.1,1477.2 1931.7,1478.1 1932.3,1477.2 1932.9,1478.0 1933.5,1477.7 1934.1,1478.2 1934.8,1477.9 1935.4,1478.0 1936.0,1477.8 1936.6,1478.2 1937.2,1478.4 1937.8,1478.0 1938.4,1477.9 1939.1,1478.7 1939.7,1477.8 1940.3,1477.6 1940.9,1478.1 1941.5,1478.2 1942.1,1479.6 1942.8,1478.7 1943.4,1479.2 1944.0,1479.4 1944.6,1479.2 1945.2,1479.6 1945.8,1478.5 1946.5,1478.8 1947.1,1479.6 1947.7,1479.1 1948.3,1479.5 1948.9,1478.1 1949.5,1478.6 1950.1,1478.6 1950.8,1479.3 1951.4,1479.0 1952.0,1479.9 1952.6,1480.1 1953.2,1480.5 1953.8,1478.6 1954.5,1478.8 1955.1,1479.5 1955.7,1479.9 1956.3,1480.2 1956.9,1480.2 1957.5,1479.8 1958.1,1480.3 1958.8,1479.9 1959.4,1480.9 1960.0,1479.8 1960.6,1481.1 1961.2,1480.0 1961.8,1480.5 1962.5,1480.2 1963.1,1480.3 1963.7,1480.8 1964.3,1480.5 1964.9,1481.2 1965.5,1481.5 1966.2,1481.0 1966.8,1480.4 1967.4,1480.9 1968.0,1481.0 1968.6,1481.4 1969.2,1479.6 1969.8,1481.5 1970.5,1481.1 1971.1,1481.4 1971.7,1482.1 1972.3,1482.1 1972.9,1481.2 1973.5,1481.5 1974.2,1481.8 1974.8,1482.0 1975.4,1482.0 1976.0,1482.9 1976.6,1482.6 1977.2,1483.0 1977.8,1481.6 1978.5,1482.6 1979.1,1483.1 1979.7,1481.4 1980.3,1482.4 1980.9,1482.2 1981.5,1482.2 1982.2,1482.4 1982.8,1481.7 1983.4,1482.2 1984.0,1482.0 1984.6,1482.8 1985.2,1483.0 1985.8,1483.3 1986.5,1482.0 1987.1,1482.7 1987.7,1482.8 1988.3,1482.4 1988.9,1483.2 1989.5,1482.9 1990.2,1482.6 1990.8,1483.5 1991.4,1483.1 1992.0,1484.1 1992.6,1482.6 1993.2,1483.1 1993.9,1483.2 1994.5,1483.7 1995.1,1482.7 1995.7,1484.0 1996.3,1482.3 1996.9,1483.4 1997.5,1483.6 1998.2,1484.1 1998.8,1483.3 1999.4,1484.1 2000.0,1483.1 2000.6,1483.8 2001.2,1483.5 2001.9,1483.8 2002.5,1482.9 2003.1,1483.9 2003.7,1483.8 2004.3,1483.4 2004.9,1484.3 2005.5,1483.0 2006.2,1484.4 2006.8,1484.1 2007.4,1484.7 2008.0,1484.8 2008.6,1483.7 2009.2,1484.1 2009.9,1483.7 2010.5,1482.9 2011.1,1484.5 2011.7,1484.8 2012.3,1484.0 2012.9,1484.9 2013.6,1483.9 2014.2,1484.4 2014.8,1483.8 2015.4,1483.8 2016.0,1483.7 2016.6,1484.3 2017.2,1484.5 2017.9,1483.6 2018.5,1484.7 2019.1,1484.2 2019.7,1484.4 2020.3,1484.0 2020.9,1483.7 2021.6,1485.1 2022.2,1484.5 2022.8,1484.7 2023.4,1485.0 2024.0,1485.0 2024.6,1485.1 2025.2,1485.4 2025.9,1485.7 2026.5,1485.2 2027.1,1485.4 2027.7,1486.1 2028.3,1484.9 2028.9,1485.8 2029.6,1484.4 2030.2,1485.2 2030.8,1484.5 2031.4,1484.9 2032.0,1485.3 2032.6,1485.5 2033.3,1485.2 2033.9,1485.8 2034.5,1485.7 2035.1,1486.0 2035.7,1484.5 2036.3,1486.3 2036.9,1485.5 2037.6,1485.1 2038.2,1485.8 2038.8,1486.4 2039.4,1485.8 2040.0,1485.1 2040.6,1487.0 2041.3,1485.9 2041.9,1486.5 2042.5,1485.8 2043.1,1486.0 2043.7,1486.3 2044.3,1486.9 2044.9,1485.9 2045.6,1486.1 2046.2,1485.9 2046.8,1485.5 2047.4,1487.2 2048.0,1486.6 2048.6,1485.9 2049.3,1485.6 2049.9,1485.2 2050.5,1486.4 2051.1,1486.1 2051.7,1486.4 2052.3,1487.0 2052.9,1486.9 2053.6,1486.2 2054.2,1485.6 2054.8,1485.8 2055.4,1486.5 2056.0,1486.0 2056.6,1486.0 2057.3,1487.2 2057.9,1487.1 2058.5,1486.5 2059.1,1486.8 2059.7,1487.2 2060.3,1486.6 2061.0,1487.1 2061.6,1486.6 2062.2,1487.1 2062.8,1486.0 2063.4,1486.4 2064.0,1487.6 2064.6,1487.4 2065.3,1486.0 2065.9,1487.3 2066.5,1487.0 2067.1,1487.1 2067.7,1486.8 2068.3,1488.0 2069.0,1486.6 2069.6,1487.4 2070.2,1487.5 2070.8,1486.4 2071.4,1487.1 2072.0,1487.7 2072.6,1486.5 2073.3,1486.9 2073.9,1487.3 2074.5,1487.9 2075.1,1487.6 2075.7,1486.5 2076.3,1486.8 2077.0,1486.6 2077.6,1488.1 2078.2,1486.9 2078.8,1487.2 2079.4,1487.6 2080.0,1487.7 2080.7,1487.7 2081.3,1488.2 2081.9,1487.8 2082.5,1487.2 2083.1,1487.6 2083.7,1488.0 2084.3,1487.7 2085.0,1487.8 2085.6,1487.9 2086.2,1487.2 2086.8,1487.7 2087.4,1486.7 2088.0,1487.7 2088.7,1488.1 2089.3,1486.8 2089.9,1487.4 2090.5,1487.1 2091.1,1487.7 2091.7,1488.6 2092.3,1487.9 2093.0,1487.7 2093.6,1488.0 2094.2,1487.7 2094.8,1488.2 2095.4,1488.1 2096.0,1487.2 2096.7,1487.4 2097.3,1487.3 2097.9,1488.2 2098.5,1487.4 2099.1,1488.4 2099.7,1488.0 2100.4,1487.0 2101.0,1488.2 2101.6,1488.6 2102.2,1488.2 2102.8,1487.5 2103.4,1488.2 2104.0,1489.2 2104.7,1489.6 2105.3,1487.8 2105.9,1488.2 2106.5,1488.2 2107.1,1488.8 2107.7,1489.1 2108.4,1488.4 2109.0,1488.4 2109.6,1488.0 2110.2,1487.7 2110.8,1488.7 2111.4,1487.6 2112.0,1487.9 2112.7,1488.3 2113.3,1488.6 2113.9,1487.5 2114.5,1488.5 2115.1,1488.5 2115.7,1488.6 2116.4,1488.4 2117.0,1488.8 2117.6,1489.2 2118.2,1488.2 2118.8,1488.1 2119.4,1488.4 2120.1,1488.0 2120.7,1488.3 2121.3,1488.9 2121.9,1488.9 2122.5,1488.5 2123.1,1488.0 2123.7,1489.1 2124.4,1489.0 2125.0,1489.1 2125.6,1489.2 2126.2,1489.6 2126.8,1489.4 2127.4,1488.4 2128.1,1487.4 2128.7,1489.0 2129.3,1489.2 2129.9,1488.8 2130.5,1488.9 2131.1,1489.3 2131.7,1488.9 2132.4,1489.0 2133.0,1489.5 2133.6,1489.2 2134.2,1488.9 2134.8,1489.5 2135.4,1489.2 2136.1,1489.3 2136.7,1489.1 2137.3,1489.2 2137.9,1488.3 2138.5,1489.1 2139.1,1490.0 2139.7,1490.4 2140.4,1490.1 2141.0,1489.0 2141.6,1488.4 2142.2,1489.6 2142.8,1489.8 2143.4,1490.2 2144.1,1490.0 2144.7,1489.4 2145.3,1490.0 2145.9,1489.5 2146.5,1489.5 2147.1,1488.8 2147.8,1489.7 2148.4,1490.1 2149.0,1489.0 2149.6,1489.6 2150.2,1488.7 2150.8,1490.0 2151.4,1489.6 2152.1,1489.3 2152.7,1490.0 2153.3,1489.8 2153.9,1489.3 2154.5,1490.0 2155.1,1489.4 2155.8,1490.4 2156.4,1490.1 2157.0,1489.3 2157.6,1489.2 2158.2,1489.2 2158.8,1489.3 2159.4,1489.4 2160.1,1490.6 2160.7,1489.8 2161.3,1488.9 2161.9,1490.0 2162.5,1490.0 2163.1,1490.6 2163.8,1489.9 2164.4,1489.4 2165.0,1490.1 2165.6,1490.2 2166.2,1489.2 2166.8,1489.8 2167.5,1489.4 2168.1,1489.9 2168.7,1489.7 2169.3,1490.2 2169.9,1489.4 2170.5,1489.2 2171.1,1489.3 2171.8,1490.0 2172.4,1491.3 2173.0,1490.5 2173.6,1490.4 2174.2,1489.9 2174.8,1490.0 2175.5,1490.0 2176.1,1490.9 2176.7,1491.2 2177.3,1491.0 2177.9,1490.4 2178.5,1489.8 2179.1,1489.8 2179.8,1490.3 2180.4,1490.4 2181.0,1490.5 2181.6,1490.0 2182.2,1490.4 2182.8,1489.0 2183.5,1490.7 2184.1,1491.3 2184.7,1490.6 2185.3,1491.1 2185.9,1490.8 2186.5,1489.9 2187.2,1489.1 2187.8,1490.5 2188.4,1490.6 2189.0,1490.1 2189.6,1490.1 2190.2,1490.9 2190.8,1490.7 2191.5,1489.7 2192.1,1489.2 2192.7,1491.1 2193.3,1490.4 2193.9,1490.9 2194.5,1490.5 2195.2,1490.0 2195.8,1490.6 2196.4,1490.4 2197.0,1490.1 2197.6,1490.2 2198.2,1490.1 2198.8,1491.1 2199.5,1490.7 2200.1,1490.8 2200.7,1490.2 2201.3,1490.7 2201.9,1490.9 2202.5,1491.4 2203.2,1490.9 2203.8,1491.0 2204.4,1490.6 2205.0,1491.1 2205.6,1490.1 2206.2,1489.9 2206.8,1490.2 2207.5,1490.7 2208.1,1491.3 2208.7,1491.2 2209.3,1490.2 2209.9,1490.9 2210.5,1490.5 2211.2,1490.2 2211.8,1490.6 2212.4,1490.1 2213.0,1491.0 2213.6,1490.7 2214.2,1490.4 2214.9,1490.7 2215.5,1490.8 2216.1,1490.6 2216.7,1490.7 2217.3,1490.6 2217.9,1491.3 2218.5,1490.4 2219.2,1490.2 2219.8,1491.1 2220.4,1491.8 2221.0,1492.0 2221.6,1491.9 2222.2,1490.5 2222.9,1490.9 2223.5,1491.3 2224.1,1491.3 2224.7,1490.7 2225.3,1490.8 2225.9,1491.7 2226.5,1491.4 2227.2,1491.0 2227.8,1491.5 2228.4,1491.9 2229.0,1491.0 2229.6,1492.2 2230.2,1490.8 2230.9,1490.9 2231.5,1491.6 2232.1,1491.9 2232.7,1490.4 2233.3,1491.2 2233.9,1491.9 2234.6,1491.9 2235.2,1491.5 2235.8,1491.0 2236.4,1491.5 2237.0,1491.1 2237.6,1492.1 2238.2,1491.9 2238.9,1491.0 2239.5,1491.8 2240.1,1491.2 2240.7,1491.6 2241.3,1492.3 2241.9,1491.3 2242.6,1490.4 2243.2,1491.4 2243.8,1492.3 2244.4,1492.0 2245.0,1491.3 2245.6,1492.3 2246.2,1491.3 2246.9,1490.9 2247.5,1492.4 2248.1,1491.3 2248.7,1491.3 2249.3,1490.8 2249.9,1491.3 2250.6,1491.8 2251.2,1492.5 2251.8,1492.1 2252.4,1492.2 2253.0,1492.2 2253.6,1491.2 2254.3,1491.8 2254.9,1491.4 2255.5,1491.3 2256.1,1491.3 2256.7,1491.8 2257.3,1492.0 2257.9,1491.7 2258.6,1492.0 2259.2,1492.4 2259.8,1492.2 2260.4,1491.0 2261.0,1492.4 2261.6,1491.9 2262.3,1491.6 2262.9,1491.8 2263.5,1491.5 2264.1,1490.4 2264.7,1491.5 2265.3,1492.0 2265.9,1491.6 2266.6,1491.7 2267.2,1491.6 2267.8,1491.9 2268.4,1491.2 2269.0,1491.6 2269.6,1491.7 2270.3,1492.1 2270.9,1491.5 2271.5,1492.1 2272.1,1491.8 2272.7,1492.8 2273.3,1492.3 2274.0,1492.1 2274.6,1491.3 2275.2,1492.8 2275.8,1491.6 2276.4,1491.9 2277.0,1491.7 2277.6,1491.7 2278.3,1491.8 2278.9,1491.2 2279.5,1491.3 2280.1,1491.4 2280.7,1491.3 2281.3,1491.5 2282.0,1491.4 2282.6,1492.0 2283.2,1492.5 2283.8,1492.5"/></g>
<rect x="96.3" y="46.0" width="1072.2" height="1459.0" fill="none" stroke="#000" stroke-width="3.5"/>
<line x1="96.3" y1="1055.8" x2="1168.5" y2="1055.8" stroke="#000" stroke-width="3.5"/>
<path d="M173.1,1505.0 V1494.0 M249.7,1505.0 V1484.0 M326.3,1505.0 V1494.0 M402.9,1505.0 V1484.0 M479.5,1505.0 V1494.0 M556.1,1505.0 V1484.0 M632.7,1505.0 V1494.0 M709.3,1505.0 V1484.0 M785.9,1505.0 V1494.0 M862.5,1505.0 V1484.0 M939.1,1505.0 V1494.0 M1015.7,1505.0 V1484.0 M1092.3,1505.0 V1494.0" stroke="#000" stroke-width="2" fill="none"/>
<text x="96.5" y="1547.5" font-family='"Liberation Serif", "Times New Roman", serif' font-size="35" text-anchor="middle">5</text>
<text x="249.7" y="1547.5" font-family='"Liberation Serif", "Times New Roman", serif' font-size="35" text-anchor="middle">10</text>
<text x="402.9" y="1547.5" font-family='"Liberation Serif", "Times New Roman", serif' font-size="35" text-anchor="middle">15</text>
<text x="556.1" y="1547.5" font-family='"Liberation Serif", "Times New Roman", serif' font-size="35" text-anchor="middle">20</text>
<text x="709.3" y="1547.5" font-family='"Liberation Serif", "Times New Roman", serif' font-size="35" text-anchor="middle">25</text>
<text x="862.5" y="1547.5" font-family='"Liberation Serif", "Times New Roman", serif' font-size="35" text-anchor="middle">30</text>
<text x="1015.7" y="1547.5" font-family='"Liberation Serif", "Times New Roman", serif' font-size="35" text-anchor="middle">35</text>
<text x="1168.9" y="1547.5" font-family='"Liberation Serif", "Times New Roman", serif' font-size="35" text-anchor="middle">40</text>
<rect x="1206.3" y="46.0" width="1077.0" height="1459.0" fill="none" stroke="#000" stroke-width="3.5"/>
<line x1="1206.3" y1="1050.5" x2="2283.3" y2="1050.5" stroke="#000" stroke-width="3.5"/>
<path d="M1283.5,1505.0 V1494.0 M1360.4,1505.0 V1484.0 M1437.3,1505.0 V1494.0 M1514.3,1505.0 V1484.0 M1591.2,1505.0 V1494.0 M1668.2,1505.0 V1484.0 M1745.2,1505.0 V1494.0 M1822.1,1505.0 V1484.0 M1899.1,1505.0 V1494.0 M1976.0,1505.0 V1484.0 M2052.9,1505.0 V1494.0 M2129.9,1505.0 V1484.0 M2206.8,1505.0 V1494.0" stroke="#000" stroke-width="2" fill="none"/>
<text x="1206.5" y="1547.5" font-family='"Liberation Serif", "Times New Roman", serif' font-size="35" text-anchor="middle">5</text>
<text x="1360.4" y="1547.5" font-family='"Liberation Serif", "Times New Roman", serif' font-size="35" text-anchor="middle">10</text>
<text x="1514.3" y="1547.5" font-family='"Liberation Serif", "Times New Roman", serif' font-size="35" text-anchor="middle">15</text>
<text x="1668.2" y="1547.5" font-family='"Liberation Serif", "Times New Roman", serif' font-size="35" text-anchor="middle">20</text>
<text x="1822.1" y="1547.5" font-family='"Liberation Serif", "Times New Roman", serif' font-size="35" text-anchor="middle">25</text>
<text x="1976.0" y="1547.5" font-family='"Liberation Serif", "Times New Roman", serif' font-size="35" text-anchor="middle">30</text>
<text x="2129.9" y="1547.5" font-family='"Liberation Serif", "Times New Roman", serif' font-size="35" text-anchor="middle">35</text>
<text x="2283.8" y="1547.5" font-family='"Liberation Serif", "Times New Roman", serif' font-size="35" text-anchor="middle">40</text>
<line x1="117" y1="112.8" x2="218" y2="112.8" stroke="#0000ff" stroke-width="2.5"/>
<text x="275.7" y="129.2" font-family='"Liberation Serif", "Times New Roman", serif' font-size="50.5" letter-spacing="-0.7">FPUF/OCTAPOSS 15</text>
<line x1="117" y1="170.8" x2="218" y2="170.8" stroke="#008000" stroke-width="2.5"/>
<text x="275.7" y="187.1" font-family='"Liberation Serif", "Times New Roman", serif' font-size="50.5" letter-spacing="-0.7">FPUF/OCTAPOSS 10</text>
<line x1="117" y1="228.8" x2="218" y2="228.8" stroke="#ff0000" stroke-width="2.5"/>
<text x="275.7" y="245.0" font-family='"Liberation Serif", "Times New Roman", serif' font-size="50.5" letter-spacing="-0.7">FPUF/OCTAPOSS 5</text>
<line x1="117" y1="286.8" x2="218" y2="286.8" stroke="#ff00ff" stroke-width="2.5"/>
<text x="275.7" y="302.9" font-family='"Liberation Serif", "Times New Roman", serif' font-size="50.5" letter-spacing="-0.7">FPUF</text>
<line x1="1218" y1="92.9" x2="1319" y2="92.9" stroke="#0000ff" stroke-width="2.5"/>
<text x="1377.1" y="109.7" font-family='"Liberation Serif", "Times New Roman", serif' font-size="50.5" letter-spacing="-0.65">FPUF/PHIPOSS 15</text>
<line x1="1218" y1="150.9" x2="1319" y2="150.9" stroke="#008000" stroke-width="2.5"/>
<text x="1377.1" y="167.8" font-family='"Liberation Serif", "Times New Roman", serif' font-size="50.5" letter-spacing="-0.65">FPUF/PHIPOSS 10</text>
<line x1="1218" y1="209.0" x2="1319" y2="209.0" stroke="#ff0000" stroke-width="2.5"/>
<text x="1377.1" y="225.9" font-family='"Liberation Serif", "Times New Roman", serif' font-size="50.5" letter-spacing="-0.65">FPUF/PHIPOSS 5</text>
<line x1="1218" y1="267.0" x2="1319" y2="267.0" stroke="#ff00ff" stroke-width="2.5"/>
<text x="1377.1" y="284.0" font-family='"Liberation Serif", "Times New Roman", serif' font-size="50.5" letter-spacing="-0.65">FPUF</text>
<line x1="689" y1="1137.6" x2="791" y2="1137.6" stroke="#000" stroke-width="2"/>
<text x="860.8" y="1155" font-family='"Liberation Serif", "Times New Roman", serif' font-size="50.5" letter-spacing="-0.33">OCTAPOSS</text>
<line x1="1856" y1="1135.3" x2="1957" y2="1135.3" stroke="#000" stroke-width="2"/>
<text x="2026.4" y="1152" font-family='"Liberation Serif", "Times New Roman", serif' font-size="50.5" letter-spacing="-0.15">PHIPOSS</text>
<text x="1075.6" y="115.8" font-family='"Liberation Serif", "Times New Roman", serif' font-size="50.5" letter-spacing="-1.2"><tspan font-size="54" dy="3.9">[</tspan><tspan dy="-3.9">A</tspan><tspan font-size="54" dy="3.9">]</tspan></text>
<text x="2196.4" y="115.8" font-family='"Liberation Serif", "Times New Roman", serif' font-size="50.5" letter-spacing="-1.2"><tspan font-size="54" dy="3.9">[</tspan><tspan dy="-3.9">B</tspan><tspan font-size="54" dy="3.9">]</tspan></text>
<text x="528.2" y="1615.6" font-family='"Liberation Serif", "Times New Roman", serif' font-size="50.5" font-weight="bold" letter-spacing="-0.45">2 theta <tspan font-size="52" dy="4" dx="2">[</tspan><tspan font-size="30" dy="-26.5" dx="-1.5">o</tspan><tspan font-size="52" dy="26.5" dx="-0.5">]</tspan></text>
<text x="1639.5" y="1615.6" font-family='"Liberation Serif", "Times New Roman", serif' font-size="50.5" font-weight="bold" letter-spacing="-0.45">2 theta <tspan font-size="52" dy="4" dx="2">[</tspan><tspan font-size="30" dy="-26.5" dx="-1.5">o</tspan><tspan font-size="52" dy="26.5" dx="-0.5">]</tspan></text>
<text transform="translate(73.8,1055.6) rotate(-90)" font-family='"Liberation Serif", "Times New Roman", serif' font-size="51.7" font-weight="bold" letter-spacing="-0.88">Intensity <tspan font-size="53" dy="3">[</tspan><tspan font-size="51.7" dy="-3">a.u</tspan><tspan font-size="53" dy="3">]</tspan></text>
<text transform="translate(2306,751) rotate(90)" font-family='"Liberation Serif", "Times New Roman", serif' font-size="51.7" font-weight="bold" letter-spacing="-0.88">Intenisty <tspan font-size="53" dy="3">[</tspan><tspan font-size="51.7" dy="-3">a.u</tspan><tspan font-size="53" dy="3">]</tspan></text>
</svg>
</body></html>
